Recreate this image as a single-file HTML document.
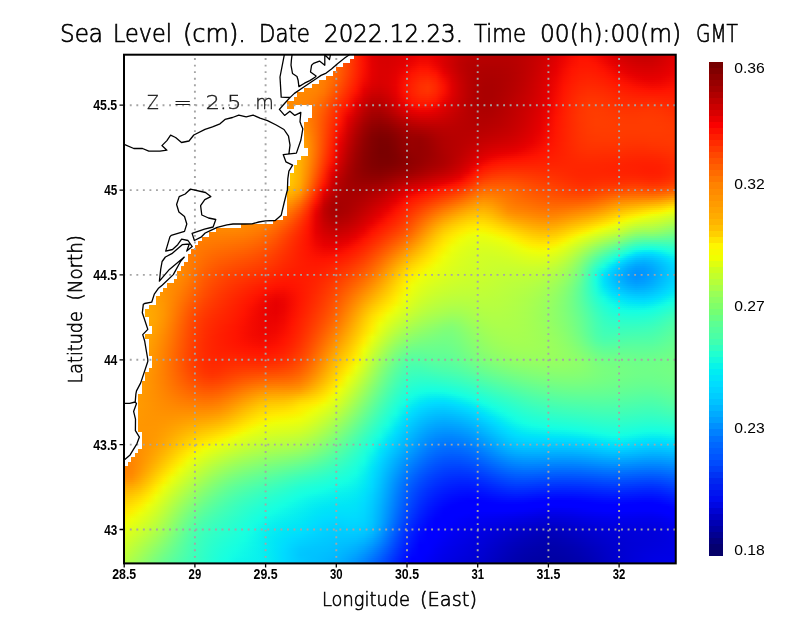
<!DOCTYPE html>
<html><head><meta charset="utf-8"><style>
html,body{margin:0;padding:0;background:#fff;width:800px;height:618px;overflow:hidden}
#f{position:absolute;left:124px;top:54px;width:552px;height:510px;overflow:hidden}
#f i{display:block;width:552px;height:2px}
svg{position:absolute;left:0;top:0}
.t{font-family:"Liberation Sans",Arial,sans-serif}
.h{font-family:"DejaVu Sans",sans-serif;font-weight:200}
.tl{font-family:"Liberation Sans",Arial,sans-serif;font-weight:bold;font-size:14.2px}
</style></head><body>
<div id="f">
<i style="background:linear-gradient(90deg,#ff7b00,#ff7a00,#ff7a00,#ff7a00,#ff7a00,#ff7a00,#ff7a00,#ff7a00,#ff7a00,#ff7b00,#ff7a00,#ff7a00,#ff7a00,#ff7a00,#ff7a00,#ff7a00,#ff7a00,#ff7b00,#ff7b00,#ff7c00,#ff7c00,#ff7d00,#ff7d00,#ff7d00,#ff7c00,#ff7700,#ff6d00,#ff5b00,#ff4200,#ff2800,#f90e00,#e20000,#d90000,#d80000,#db0000,#e10000,#e80000,#ec0400,#ec0300,#e60000,#dc0000,#ce0000,#c30000,#bd0000,#bb0000,#ba0000,#b80000,#b70000,#b80000,#ba0000,#be0000,#c30000,#ca0000,#d20000,#de0000,#e90100,#f40a00,#fb0f00,#fb0f00,#f40a00,#e90100,#dd0000,#d30000,#cc0000,#c80000,#c60000,#c70000,#cd0000,#d70000,#e00000)"></i>
<i style="background:linear-gradient(90deg,#ff7b00,#ff7a00,#ff7a00,#ff7a00,#ff7a00,#ff7a00,#ff7a00,#ff7a00,#ff7a00,#ff7b00,#ff7a00,#ff7a00,#ff7a00,#ff7b00,#ff7a00,#ff7a00,#ff7a00,#ff7b00,#ff7b00,#ff7c00,#ff7d00,#ff7e00,#ff7e00,#ff7f00,#ff7d00,#ff7900,#ff6e00,#ff5c00,#ff4300,#ff2800,#f90e00,#e20000,#d80000,#d70000,#db0000,#e00000,#e80000,#ee0500,#ed0500,#e70000,#db0000,#cd0000,#c10000,#bb0000,#ba0000,#b80000,#b70000,#b60000,#b70000,#b90000,#bd0000,#c30000,#ca0000,#d30000,#df0000,#eb0300,#f60b00,#fd1100,#fd1100,#f60b00,#ec0300,#e00000,#d50000,#ce0000,#ca0000,#c80000,#c90000,#cf0000,#d80000,#e10000)"></i>
<i style="background:linear-gradient(90deg,#ff7b00,#ff7b00,#ff7a00,#ff7a00,#ff7a00,#ff7a00,#ff7a00,#ff7a00,#ff7a00,#ff7a00,#ff7a00,#ff7a00,#ff7a00,#ff7b00,#ff7a00,#ff7a00,#ff7b00,#ff7b00,#ff7c00,#ff7d00,#ff7e00,#ff7f00,#ff7f00,#ff8000,#ff7f00,#ff7a00,#ff6f00,#ff5c00,#ff4300,#ff2800,#f90e00,#e20000,#d90000,#d70000,#db0000,#e00000,#e90100,#f00600,#ef0600,#e70000,#da0000,#cc0000,#c00000,#b90000,#b80000,#b70000,#b50000,#b50000,#b60000,#b90000,#bd0000,#c30000,#cb0000,#d40000,#e00000,#ec0400,#f70d00,#fe1200,#ff1300,#f80d00,#ee0500,#e30000,#d80000,#d10000,#cc0000,#ca0000,#cb0000,#d10000,#da0000,#e30000)"></i>
<i style="background:linear-gradient(90deg,#ff7b00,#ff7b00,#ff7a00,#ff7a00,#ff7a00,#ff7a00,#ff7a00,#ff7a00,#ff7a00,#ff7a00,#ff7a00,#ff7a00,#ff7a00,#ff7a00,#ff7a00,#ff7a00,#ff7b00,#ff7b00,#ff7c00,#ff7d00,#ff7e00,#ff8000,#ff8000,#ff8100,#ff8000,#ff7b00,#ff7000,#ff5d00,#ff4300,#ff2800,#fa0e00,#e30000,#d90000,#d80000,#db0000,#e10000,#ea0200,#f20800,#f20800,#e80000,#d90000,#cc0000,#bf0000,#b80000,#b60000,#b50000,#b40000,#b40000,#b50000,#b80000,#bd0000,#c30000,#cb0000,#d50000,#e10000,#ee0500,#f90e00,#ff1400,#ff1400,#fa0f00,#f10700,#e60000,#db0000,#d40000,#cf0000,#cc0000,#cd0000,#d30000,#dc0000,#e40000)"></i>
<i style="background:linear-gradient(90deg,#ff7b00,#ff7b00,#ff7a00,#ff7a00,#ff7a00,#ff7a00,#ff7a00,#ff7a00,#ff7a00,#ff7a00,#ff7a00,#ff7a00,#ff7a00,#ff7a00,#ff7a00,#ff7b00,#ff7b00,#ff7b00,#ff7d00,#ff7e00,#ff7f00,#ff8000,#ff8200,#ff8200,#ff8100,#ff7b00,#ff7000,#ff5d00,#ff4300,#ff2800,#fa0f00,#e40000,#d90000,#d80000,#dc0000,#e30000,#ed0400,#f50a00,#f40a00,#ea0200,#d90000,#cc0000,#be0000,#b70000,#b50000,#b40000,#b30000,#b30000,#b40000,#b80000,#bd0000,#c40000,#cc0000,#d60000,#e30000,#ef0600,#fa0f00,#ff1500,#ff1600,#fd1100,#f30900,#e80100,#de0000,#d70000,#d20000,#cf0000,#d00000,#d50000,#dd0000,#e60000)"></i>
<i style="background:linear-gradient(90deg,#ff7b00,#ff7b00,#ff7a00,#ff7a00,#ff7a00,#ff7a00,#ff7a00,#ff7a00,#ff7a00,#ff7a00,#ff7a00,#ff7a00,#ff7a00,#ff7a00,#ff7a00,#ff7b00,#ff7b00,#ff7c00,#ff7d00,#ff7e00,#ff8000,#ff8100,#ff8300,#ff8300,#ff8200,#ff7c00,#ff7000,#ff5d00,#ff4300,#ff2700,#fa0f00,#e40000,#da0000,#d90000,#dd0000,#e50000,#ef0600,#f80d00,#f70d00,#ec0400,#db0000,#cc0000,#be0000,#b60000,#b40000,#b20000,#b20000,#b20000,#b40000,#b70000,#bd0000,#c40000,#cd0000,#d80000,#e40000,#f10700,#fc1000,#ff1600,#ff1700,#ff1300,#f60c00,#eb0300,#e20000,#da0000,#d50000,#d20000,#d20000,#d70000,#df0000,#e70000)"></i>
<i style="background:linear-gradient(90deg,#ff7b00,#ff7b00,#ff7a00,#ff7a00,#ff7a00,#ff7a00,#ff7a00,#ff7a00,#ff7a00,#ff7a00,#ff7a00,#ff7a00,#ff7a00,#ff7a00,#ff7a00,#ff7b00,#ff7b00,#ff7c00,#ff7d00,#ff7f00,#ff8100,#ff8200,#ff8400,#ff8500,#ff8300,#ff7d00,#ff7000,#ff5d00,#ff4200,#ff2700,#fa0f00,#e40000,#da0000,#d90000,#df0000,#e70000,#f30900,#fc1000,#fb1000,#f00600,#dd0000,#cd0000,#bf0000,#b60000,#b30000,#b10000,#b00000,#b10000,#b30000,#b70000,#bd0000,#c40000,#ce0000,#d90000,#e50000,#f20800,#fd1200,#ff1700,#ff1800,#ff1500,#f90e00,#ef0600,#e50000,#dd0000,#d80000,#d50000,#d50000,#da0000,#e10000,#e90100)"></i>
<i style="background:linear-gradient(90deg,#ff7b00,#ff7b00,#ff7a00,#ff7a00,#ff7a00,#ff7a00,#ff7a00,#ff7a00,#ff7a00,#ff7a00,#ff7a00,#ff7a00,#ff7a00,#ff7a00,#ff7a00,#ff7b00,#ff7b00,#ff7c00,#ff7d00,#ff7f00,#ff8100,#ff8300,#ff8500,#ff8500,#ff8400,#ff7d00,#ff7000,#ff5c00,#ff4200,#ff2700,#fa0e00,#e50000,#da0000,#da0000,#e00000,#ea0200,#f60c00,#ff1300,#ff1300,#f30900,#e10000,#cf0000,#bf0000,#b60000,#b20000,#b00000,#af0000,#b00000,#b20000,#b70000,#bd0000,#c50000,#ce0000,#da0000,#e70000,#f40a00,#ff1300,#ff1900,#ff1a00,#ff1700,#fc1000,#f20800,#e80000,#e00000,#db0000,#d80000,#d80000,#dc0000,#e30000,#ea0200)"></i>
<i style="background:linear-gradient(90deg,#ff7b00,#ff7b00,#ff7a00,#ff7a00,#ff7a00,#ff7a00,#ff7a00,#ff7a00,#ff7a00,#ff7a00,#ff7a00,#ff7a00,#ff7a00,#ff7a00,#ff7a00,#ff7b00,#ff7b00,#ff7c00,#ff7e00,#ff8000,#ff8200,#ff8400,#ff8600,#ff8600,#ff8400,#ff7d00,#ff7000,#ff5b00,#ff4100,#ff2600,#f90e00,#e50000,#db0000,#db0000,#e20000,#ed0400,#fa0f00,#ff1700,#ff1700,#f80d00,#e40000,#d10000,#c10000,#b60000,#b10000,#af0000,#ae0000,#af0000,#b20000,#b70000,#bd0000,#c50000,#cf0000,#db0000,#e80000,#f50b00,#ff1400,#ff1a00,#ff1b00,#ff1800,#fe1200,#f50b00,#ec0300,#e40000,#de0000,#db0000,#db0000,#de0000,#e50000,#ec0300)"></i>
<i style="background:linear-gradient(90deg,#ff7b00,#ff7b00,#ff7a00,#ff7a00,#ff7a00,#ff7a00,#ff7a00,#ff7a00,#ff7a00,#ff7a00,#ff7a00,#ff7a00,#ff7a00,#ff7a00,#ff7b00,#ff7b00,#ff7b00,#ff7c00,#ff7e00,#ff8000,#ff8200,#ff8500,#ff8600,#ff8700,#ff8500,#ff7d00,#ff6f00,#ff5a00,#ff4000,#ff2500,#f80e00,#e40000,#db0000,#db0000,#e30000,#ef0600,#fe1200,#ff1b00,#ff1b00,#fd1100,#e80000,#d30000,#c20000,#b70000,#b10000,#ae0000,#ae0000,#af0000,#b20000,#b60000,#bd0000,#c60000,#d00000,#dc0000,#e90100,#f60c00,#ff1500,#ff1b00,#ff1d00,#ff1a00,#ff1500,#f80d00,#ef0600,#e70000,#e20000,#de0000,#de0000,#e10000,#e70000,#ee0500)"></i>
<i style="background:linear-gradient(90deg,#ff7b00,#ff7b00,#ff7b00,#ff7a00,#ff7a00,#ff7a00,#ff7a00,#ff7a00,#ff7a00,#ff7a00,#ff7a00,#ff7a00,#ff7b00,#ff7b00,#ff7b00,#ff7b00,#ff7b00,#ff7d00,#ff7e00,#ff8000,#ff8300,#ff8500,#ff8700,#ff8800,#ff8500,#ff7d00,#ff6f00,#ff5900,#ff3f00,#ff2400,#f70d00,#e40000,#db0000,#dc0000,#e50000,#f20800,#ff1500,#ff1e00,#ff1f00,#ff1500,#ec0300,#d60000,#c40000,#b70000,#b00000,#ad0000,#ad0000,#ae0000,#b10000,#b70000,#be0000,#c60000,#d10000,#dd0000,#ea0200,#f80d00,#ff1600,#ff1d00,#ff1f00,#ff1c00,#ff1700,#fb1000,#f30900,#eb0300,#e50000,#e10000,#e10000,#e40000,#e90100,#f00600)"></i>
<i style="background:linear-gradient(90deg,#ff7c00,#ff7b00,#ff7b00,#ff7b00,#ff7a00,#ff7a00,#ff7a00,#ff7b00,#ff7b00,#ff7b00,#ff7b00,#ff7b00,#ff7b00,#ff7b00,#ff7b00,#ff7b00,#ff7c00,#ff7d00,#ff7e00,#ff8100,#ff8300,#ff8600,#ff8800,#ff8800,#ff8500,#ff7d00,#ff6e00,#ff5700,#ff3d00,#ff2300,#f60c00,#e30000,#da0000,#dc0000,#e60000,#f40a00,#ff1700,#ff2200,#ff2400,#ff1900,#ef0600,#d80000,#c50000,#b80000,#b00000,#ad0000,#ac0000,#ae0000,#b10000,#b70000,#be0000,#c70000,#d20000,#de0000,#ec0300,#f90e00,#ff1800,#ff1e00,#ff2000,#ff1e00,#ff1900,#fe1200,#f60c00,#ef0500,#e90100,#e50000,#e40000,#e60000,#ec0300,#f20800)"></i>
<i style="background:linear-gradient(90deg,#ff7c00,#ff7b00,#ff7b00,#ff7b00,#ff7b00,#ff7b00,#ff7b00,#ff7b00,#ff7b00,#ff7b00,#ff7b00,#ff7b00,#ff7b00,#ff7b00,#ff7b00,#ff7b00,#ff7c00,#ff7d00,#ff7f00,#ff8100,#ff8400,#ff8600,#ff8800,#ff8800,#ff8500,#ff7c00,#ff6c00,#ff5600,#ff3b00,#ff2100,#f50a00,#e20000,#da0000,#dc0000,#e70000,#f70c00,#ff1a00,#ff2500,#ff2800,#ff1d00,#f30900,#da0000,#c60000,#b80000,#b00000,#ac0000,#ab0000,#ad0000,#b10000,#b70000,#be0000,#c80000,#d20000,#df0000,#ed0400,#fa0f00,#ff1900,#ff1f00,#ff2200,#ff2000,#ff1c00,#ff1500,#fa0e00,#f20900,#ec0400,#e80000,#e70000,#e90100,#ee0500,#f40a00)"></i>
<i style="background:linear-gradient(90deg,#ff7c00,#ff7b00,#ff7b00,#ff7b00,#ff7b00,#ff7b00,#ff7b00,#ff7b00,#ff7b00,#ff7b00,#ff7b00,#ff7b00,#ff7b00,#ff7b00,#ff7b00,#ff7b00,#ff7c00,#ff7d00,#ff7f00,#ff8100,#ff8400,#ff8700,#ff8800,#ff8900,#ff8500,#ff7c00,#ff6b00,#ff5400,#ff3900,#ff1f00,#f30900,#e00000,#d90000,#dc0000,#e80000,#f90e00,#ff1c00,#ff2800,#ff2c00,#ff2000,#f60b00,#dc0000,#c80000,#b90000,#b00000,#ac0000,#ab0000,#ad0000,#b10000,#b70000,#bf0000,#c80000,#d30000,#e00000,#ee0500,#fc1000,#ff1a00,#ff2100,#ff2400,#ff2200,#ff1e00,#ff1800,#fd1100,#f60c00,#f00700,#ec0300,#ea0200,#ec0400,#f10700,#f60c00)"></i>
<i style="background:linear-gradient(90deg,#ff7c00,#ff7c00,#ff7b00,#ff7b00,#ff7b00,#ff7b00,#ff7b00,#ff7b00,#ff7b00,#ff7b00,#ff7b00,#ff7b00,#ff7b00,#ff7b00,#ff7b00,#ff7c00,#ff7c00,#ff7d00,#ff7f00,#ff8200,#ff8500,#ff8700,#ff8900,#ff8900,#ff8500,#ff7b00,#ff6900,#ff5100,#ff3700,#ff1d00,#f00700,#de0000,#d80000,#dc0000,#e80000,#fa0f00,#ff1e00,#ff2b00,#ff2f00,#ff2300,#f80d00,#de0000,#c90000,#b90000,#b00000,#ab0000,#ab0000,#ad0000,#b20000,#b80000,#c00000,#c90000,#d40000,#e10000,#ef0600,#fd1100,#ff1b00,#ff2300,#ff2500,#ff2400,#ff2000,#ff1a00,#ff1400,#fa0f00,#f40a00,#f00700,#ee0500,#ef0600,#f40a00,#f90e00)"></i>
<i style="background:linear-gradient(90deg,#ff7d00,#ff7c00,#ff7c00,#ff7c00,#ff7c00,#ff7c00,#ff7c00,#ff7c00,#ff7c00,#ff7c00,#ff7c00,#ff7c00,#ff7c00,#ff7c00,#ff7c00,#ff7c00,#ff7d00,#ff7e00,#ff8000,#ff8200,#ff8500,#ff8700,#ff8900,#ff8800,#ff8400,#ff7a00,#ff6700,#ff4f00,#ff3500,#ff1b00,#ee0500,#dc0000,#d60000,#db0000,#e90100,#fb1000,#ff2000,#ff2d00,#ff3200,#ff2500,#fa0f00,#df0000,#ca0000,#ba0000,#b00000,#ab0000,#aa0000,#ad0000,#b20000,#b80000,#c00000,#ca0000,#d50000,#e20000,#f00700,#fe1200,#ff1d00,#ff2400,#ff2700,#ff2600,#ff2200,#ff1d00,#ff1700,#fe1200,#f80d00,#f40a00,#f10800,#f30900,#f70c00,#fb1000)"></i>
<i style="background:linear-gradient(90deg,#ff7d00,#ff7d00,#ff7c00,#ff7c00,#ff7c00,#ff7c00,#ff7c00,#ff7c00,#ff7c00,#ff7c00,#ff7c00,#ff7c00,#ff7c00,#ff7c00,#ff7c00,#ff7c00,#ff7d00,#ff7e00,#ff8000,#ff8300,#ff8500,#ff8700,#ff8900,#ff8800,#ff8400,#ff7900,#ff6500,#ff4c00,#ff3200,#ff1800,#eb0300,#d90000,#d40000,#da0000,#e80000,#fc1000,#ff2000,#ff2e00,#ff3400,#ff2600,#fb1000,#e00000,#ca0000,#ba0000,#b00000,#aa0000,#aa0000,#ad0000,#b20000,#b90000,#c10000,#ca0000,#d50000,#e20000,#f10700,#ff1300,#ff1e00,#ff2600,#ff2900,#ff2800,#ff2500,#ff1f00,#ff1a00,#ff1500,#fc1100,#f80d00,#f60b00,#f70c00,#fa0f00,#fe1200)"></i>
<i style="background:linear-gradient(90deg,#ff7e00,#ff7d00,#ff7d00,#ff7d00,#ff7d00,#ff7d00,#ff7d00,#ff7d00,#ff7d00,#ff7d00,#ff7d00,#ff7d00,#ff7d00,#ff7d00,#ff7d00,#ff7d00,#ff7d00,#ff7e00,#ff8000,#ff8300,#ff8600,#ff8800,#ff8900,#ff8700,#ff8300,#ff7700,#ff6200,#ff4900,#ff2f00,#ff1600,#e80000,#d60000,#d10000,#d80000,#e80000,#fc1000,#ff2100,#ff2e00,#ff3400,#ff2600,#fb1000,#e00000,#ca0000,#ba0000,#af0000,#aa0000,#aa0000,#ad0000,#b30000,#b90000,#c20000,#cb0000,#d60000,#e30000,#f20800,#ff1400,#ff1f00,#ff2700,#ff2b00,#ff2a00,#ff2700,#ff2200,#ff1c00,#ff1800,#ff1400,#fd1100,#fa0f00,#fb0f00,#fe1200,#ff1400)"></i>
<i style="background:linear-gradient(90deg,#ff7e00,#ff7e00,#ff7d00,#ff7d00,#ff7d00,#ff7d00,#ff7d00,#ff7d00,#ff7d00,#ff7d00,#ff7d00,#ff7d00,#ff7d00,#ff7d00,#ff7d00,#ff7d00,#ff7e00,#ff7f00,#ff8100,#ff8300,#ff8600,#ff8800,#ff8800,#ff8700,#ff8200,#ff7600,#ff6000,#ff4600,#ff2c00,#ff1300,#e40000,#d30000,#cf0000,#d60000,#e70000,#fb1000,#ff2000,#ff2d00,#ff3300,#ff2500,#fa0f00,#e00000,#ca0000,#ba0000,#af0000,#aa0000,#aa0000,#ad0000,#b30000,#ba0000,#c20000,#cc0000,#d70000,#e40000,#f30900,#ff1500,#ff2100,#ff2900,#ff2d00,#ff2c00,#ff2900,#ff2400,#ff1f00,#ff1b00,#ff1700,#ff1500,#ff1300,#ff1300,#ff1500,#ff1600)"></i>
<i style="background:linear-gradient(90deg,#ff7f00,#ff7e00,#ff7e00,#ff7e00,#ff7e00,#ff7e00,#ff7e00,#ff7e00,#ff7e00,#ff7e00,#ff7e00,#ff7e00,#ff7e00,#ff7e00,#ff7e00,#ff7e00,#ff7e00,#ff7f00,#ff8100,#ff8400,#ff8600,#ff8800,#ff8800,#ff8600,#ff8000,#ff7400,#ff5c00,#ff4300,#ff2900,#fc1000,#e10000,#cf0000,#cc0000,#d40000,#e50000,#fa0f00,#ff1f00,#ff2c00,#ff3000,#ff2300,#f90e00,#df0000,#ca0000,#ba0000,#af0000,#aa0000,#aa0000,#ae0000,#b40000,#bb0000,#c30000,#cc0000,#d80000,#e50000,#f40a00,#ff1600,#ff2200,#ff2a00,#ff2f00,#ff2e00,#ff2b00,#ff2700,#ff2200,#ff1e00,#ff1b00,#ff1900,#ff1700,#ff1700,#ff1800,#ff1900)"></i>
<i style="background:linear-gradient(90deg,#ff8000,#ff7f00,#ff7f00,#ff7f00,#ff7f00,#ff7f00,#ff7f00,#ff7f00,#ff7f00,#ff7f00,#ff7f00,#ff7f00,#ff7f00,#ff7f00,#ff7f00,#ff7f00,#ff7f00,#ff8000,#ff8200,#ff8500,#ff8700,#ff8800,#ff8800,#ff8500,#ff7e00,#ff7100,#ff5900,#ff3f00,#ff2600,#f80d00,#dd0000,#cb0000,#c80000,#d10000,#e30000,#f80d00,#ff1e00,#ff2900,#ff2c00,#ff2000,#f60c00,#de0000,#ca0000,#ba0000,#af0000,#aa0000,#aa0000,#ae0000,#b40000,#bc0000,#c40000,#cd0000,#d80000,#e50000,#f50a00,#ff1700,#ff2300,#ff2c00,#ff3000,#ff3000,#ff2d00,#ff2900,#ff2400,#ff2100,#ff1e00,#ff1c00,#ff1b00,#ff1b00,#ff1b00,#ff1b00)"></i>
<i style="background:linear-gradient(90deg,#ff8100,#ff8000,#ff8000,#ff8000,#ff8000,#ff8000,#ff8000,#ff8000,#ff8000,#ff8000,#ff8000,#ff8000,#ff8000,#ff8000,#ff8000,#ff8000,#ff8000,#ff8100,#ff8200,#ff8500,#ff8800,#ff8800,#ff8700,#ff8400,#ff7c00,#ff6d00,#ff5500,#ff3b00,#ff2300,#f40a00,#d90000,#c70000,#c50000,#ce0000,#e10000,#f60c00,#ff1b00,#ff2600,#ff2800,#ff1d00,#f30900,#dc0000,#c90000,#ba0000,#af0000,#aa0000,#aa0000,#af0000,#b50000,#bd0000,#c50000,#ce0000,#d90000,#e60000,#f60b00,#ff1800,#ff2400,#ff2e00,#ff3200,#ff3200,#ff2f00,#ff2b00,#ff2700,#ff2400,#ff2100,#ff2000,#ff2000,#ff1f00,#ff1e00,#ff1d00)"></i>
<i style="background:linear-gradient(90deg,#ff8200,#ff8100,#ff8100,#ff8100,#ff8100,#ff8100,#ff8100,#ff8100,#ff8100,#ff8100,#ff8100,#ff8100,#ff8100,#ff8100,#ff8100,#ff8100,#ff8100,#ff8200,#ff8300,#ff8600,#ff8800,#ff8900,#ff8700,#ff8300,#ff7a00,#ff6a00,#ff5100,#ff3700,#ff1f00,#f00700,#d40000,#c30000,#c10000,#cb0000,#de0000,#f30900,#ff1900,#ff2200,#ff2400,#ff1900,#f00700,#da0000,#c80000,#b90000,#af0000,#aa0000,#ab0000,#af0000,#b60000,#be0000,#c50000,#cf0000,#da0000,#e70000,#f60c00,#ff1900,#ff2500,#ff2f00,#ff3400,#ff3400,#ff3100,#ff2d00,#ff2900,#ff2600,#ff2500,#ff2400,#ff2400,#ff2200,#ff2100,#ff2000)"></i>
<i style="background:linear-gradient(90deg,#ff8300,#ff8200,#ff8200,#ff8200,#ff8200,#ff8200,#ff8200,#ff8200,#ff8200,#ff8200,#ff8200,#ff8200,#ff8200,#ff8200,#ff8200,#ff8200,#ff8200,#ff8300,#ff8400,#ff8700,#ff8900,#ff8900,#ff8700,#ff8200,#ff7800,#ff6600,#ff4d00,#ff3300,#ff1c00,#ec0400,#d00000,#be0000,#bd0000,#c80000,#da0000,#f00700,#ff1500,#ff1e00,#ff1f00,#ff1400,#ec0300,#d80000,#c70000,#b90000,#af0000,#ab0000,#ab0000,#b00000,#b70000,#be0000,#c60000,#cf0000,#da0000,#e70000,#f70c00,#ff1a00,#ff2700,#ff3000,#ff3500,#ff3500,#ff3300,#ff2f00,#ff2b00,#ff2900,#ff2800,#ff2700,#ff2800,#ff2600,#ff2400,#ff2200)"></i>
<i style="background:linear-gradient(90deg,#ff8400,#ff8400,#ff8400,#ff8400,#ff8300,#ff8300,#ff8400,#ff8400,#ff8400,#ff8300,#ff8400,#ff8400,#ff8400,#ff8300,#ff8300,#ff8300,#ff8300,#ff8400,#ff8500,#ff8800,#ff8a00,#ff8a00,#ff8700,#ff8100,#ff7600,#ff6300,#ff4900,#ff2f00,#ff1900,#e80000,#cc0000,#b90000,#b90000,#c40000,#d70000,#ec0400,#fe1200,#ff1900,#ff1900,#fb0f00,#e80000,#d60000,#c60000,#b90000,#af0000,#ab0000,#ac0000,#b10000,#b80000,#bf0000,#c70000,#d00000,#db0000,#e80000,#f80d00,#ff1b00,#ff2700,#ff3200,#ff3700,#ff3700,#ff3400,#ff3100,#ff2d00,#ff2b00,#ff2b00,#ff2b00,#ff2c00,#ff2a00,#ff2600,#ff2400)"></i>
<i style="background:linear-gradient(90deg,#ff8500,#ff8500,#ff8500,#ff8500,#ff8500,#ff8500,#ff8500,#ff8500,#ff8500,#ff8500,#ff8500,#ff8500,#ff8500,#ff8500,#ff8500,#ff8500,#ff8500,#ff8500,#ff8700,#ff8a00,#ff8b00,#ff8b00,#ff8700,#ff8000,#ff7300,#ff6000,#ff4500,#ff2b00,#ff1500,#e40000,#c80000,#b50000,#b50000,#c00000,#d30000,#e80000,#f80d00,#ff1400,#ff1400,#f50b00,#e30000,#d30000,#c40000,#b80000,#b00000,#ac0000,#ad0000,#b10000,#b80000,#c00000,#c80000,#d10000,#dc0000,#e90100,#f90e00,#ff1b00,#ff2800,#ff3300,#ff3800,#ff3800,#ff3600,#ff3300,#ff2f00,#ff2e00,#ff2d00,#ff2e00,#ff2f00,#ff2d00,#ff2900,#ff2700)"></i>
<i style="background:linear-gradient(90deg,#ff8700,#ff8700,#ff8700,#ff8700,#ff8700,#ff8700,#ff8700,#ff8700,#ff8700,#ff8600,#ff8700,#ff8700,#ff8700,#ff8600,#ff8600,#ff8600,#ff8600,#ff8700,#ff8800,#ff8b00,#ff8d00,#ff8c00,#ff8700,#ff7f00,#ff7100,#ff5d00,#ff4200,#ff2800,#fe1200,#e00000,#c40000,#b10000,#b10000,#bc0000,#ce0000,#e30000,#f20900,#fa0f00,#f90e00,#ef0600,#df0000,#d10000,#c30000,#b80000,#b00000,#ac0000,#ad0000,#b20000,#b90000,#c10000,#c90000,#d20000,#dc0000,#e90100,#fa0e00,#ff1c00,#ff2900,#ff3300,#ff3900,#ff3900,#ff3700,#ff3400,#ff3100,#ff3000,#ff3000,#ff3000,#ff3200,#ff2f00,#ff2b00,#ff2900)"></i>
<i style="background:linear-gradient(90deg,#ff8900,#ff8900,#ff8900,#ff8900,#ff8800,#ff8800,#ff8900,#ff8900,#ff8800,#ff8800,#ff8900,#ff8900,#ff8800,#ff8800,#ff8800,#ff8800,#ff8800,#ff8900,#ff8a00,#ff8d00,#ff8e00,#ff8d00,#ff8800,#ff7e00,#ff7000,#ff5a00,#ff3f00,#ff2500,#f90e00,#dc0000,#c00000,#ae0000,#ad0000,#b70000,#c90000,#dd0000,#ec0400,#f30900,#f30900,#e90100,#db0000,#ce0000,#c20000,#b80000,#b00000,#ad0000,#ae0000,#b30000,#ba0000,#c10000,#c90000,#d20000,#dd0000,#ea0200,#fa0f00,#ff1d00,#ff2a00,#ff3400,#ff3900,#ff3a00,#ff3900,#ff3600,#ff3300,#ff3200,#ff3200,#ff3300,#ff3400,#ff3200,#ff2e00,#ff2b00)"></i>
<i style="background:linear-gradient(90deg,#ff8b00,#ff8a00,#ff8b00,#ff8b00,#ff8a00,#ff8a00,#ff8b00,#ff8b00,#ff8a00,#ff8a00,#ff8a00,#ff8b00,#ff8a00,#ff8a00,#ff8a00,#ff8a00,#ff8a00,#ff8b00,#ff8c00,#ff8f00,#ff9000,#ff8e00,#ff8800,#ff7e00,#ff6e00,#ff5800,#ff3c00,#ff2200,#f50b00,#d70000,#bc0000,#ab0000,#a90000,#b30000,#c40000,#d70000,#e50000,#ec0400,#ec0300,#e40000,#d80000,#cc0000,#c10000,#b70000,#b10000,#ae0000,#af0000,#b40000,#bb0000,#c20000,#ca0000,#d30000,#de0000,#eb0300,#fb1000,#ff1d00,#ff2a00,#ff3400,#ff3a00,#ff3b00,#ff3a00,#ff3700,#ff3500,#ff3400,#ff3400,#ff3500,#ff3600,#ff3400,#ff3000,#ff2d00)"></i>
<i style="background:linear-gradient(90deg,#ff8d00,#ff8d00,#ff8d00,#ff8d00,#ff8c00,#ff8c00,#ff8d00,#ff8d00,#ff8c00,#ff8c00,#ff8c00,#ff8d00,#ff8c00,#ff8c00,#ff8c00,#ff8c00,#ff8c00,#ff8d00,#ff8e00,#ff9100,#ff9200,#ff9000,#ff8900,#ff7e00,#ff6d00,#ff5600,#ff3a00,#ff1f00,#f10700,#d30000,#b80000,#a70000,#a50000,#af0000,#bf0000,#d10000,#df0000,#e50000,#e50000,#de0000,#d40000,#c90000,#bf0000,#b70000,#b10000,#af0000,#b00000,#b50000,#bb0000,#c30000,#cb0000,#d40000,#df0000,#ec0400,#fc1000,#ff1e00,#ff2a00,#ff3400,#ff3a00,#ff3c00,#ff3b00,#ff3800,#ff3600,#ff3500,#ff3600,#ff3700,#ff3700,#ff3500,#ff3200,#ff2f00)"></i>
<i style="background:linear-gradient(90deg,#ff8f00,#ff8f00,#ff8f00,#ff8f00,#ff8f00,#ff8f00,#ff8f00,#ff8f00,#ff8f00,#ff8f00,#ff8f00,#ff8f00,#ff8e00,#ff8e00,#ff8e00,#ff8e00,#ff8e00,#ff8f00,#ff9100,#ff9300,#ff9400,#ff9200,#ff8b00,#ff7e00,#ff6c00,#ff5400,#ff3800,#ff1d00,#ed0400,#cf0000,#b50000,#a40000,#a10000,#aa0000,#ba0000,#cb0000,#d80000,#de0000,#de0000,#d90000,#d00000,#c70000,#be0000,#b70000,#b20000,#b00000,#b10000,#b60000,#bc0000,#c30000,#cc0000,#d50000,#e00000,#ed0500,#fd1100,#ff1e00,#ff2b00,#ff3500,#ff3a00,#ff3c00,#ff3b00,#ff3900,#ff3800,#ff3700,#ff3700,#ff3800,#ff3800,#ff3700,#ff3300,#ff3000)"></i>
<i style="background:linear-gradient(90deg,#ff9100,#ff9100,#ff9100,#ff9100,#ff9100,#ff9100,#ff9100,#ff9100,#ff9100,#ff9100,#ff9100,#ff9100,#ff9100,#ff9000,#ff9000,#ff9000,#ff9000,#ff9100,#ff9300,#ff9500,#ff9600,#ff9400,#ff8c00,#ff7f00,#ff6c00,#ff5200,#ff3600,#ff1a00,#e90100,#cb0000,#b10000,#a10000,#9e0000,#a60000,#b40000,#c40000,#d10000,#d70000,#d80000,#d40000,#cd0000,#c50000,#bd0000,#b70000,#b20000,#b10000,#b20000,#b70000,#bd0000,#c40000,#cc0000,#d60000,#e10000,#ee0500,#fe1200,#ff1f00,#ff2b00,#ff3500,#ff3a00,#ff3c00,#ff3c00,#ff3a00,#ff3900,#ff3800,#ff3800,#ff3900,#ff3900,#ff3800,#ff3500,#ff3200)"></i>
<i style="background:linear-gradient(90deg,#ff9300,#ff9300,#ff9300,#ff9300,#ff9300,#ff9300,#ff9300,#ff9300,#ff9300,#ff9300,#ff9300,#ff9300,#ff9300,#ff9200,#ff9200,#ff9200,#ff9200,#ff9400,#ff9600,#ff9800,#ff9900,#ff9600,#ff8e00,#ff8000,#ff6b00,#ff5100,#ff3400,#ff1800,#e50000,#c70000,#ae0000,#9e0000,#9a0000,#a10000,#af0000,#be0000,#ca0000,#d00000,#d10000,#cf0000,#c90000,#c30000,#bc0000,#b70000,#b30000,#b20000,#b40000,#b80000,#be0000,#c50000,#cd0000,#d70000,#e20000,#ef0600,#fe1200,#ff1f00,#ff2b00,#ff3500,#ff3a00,#ff3d00,#ff3c00,#ff3b00,#ff3a00,#ff3900,#ff3900,#ff3a00,#ff3a00,#ff3900,#ff3600,#ff3300)"></i>
<i style="background:linear-gradient(90deg,#ff9600,#ff9600,#ff9600,#ff9600,#ff9600,#ff9600,#ff9600,#ff9600,#ff9500,#ff9500,#ff9500,#ff9500,#ff9500,#ff9500,#ff9400,#ff9400,#ff9500,#ff9600,#ff9800,#ff9b00,#ff9b00,#ff9800,#ff8f00,#ff8000,#ff6b00,#ff5000,#ff3300,#ff1600,#e20000,#c40000,#ab0000,#9a0000,#960000,#9d0000,#aa0000,#b80000,#c30000,#c90000,#cb0000,#ca0000,#c60000,#c10000,#bb0000,#b70000,#b40000,#b30000,#b50000,#b90000,#bf0000,#c60000,#ce0000,#d80000,#e30000,#f00700,#ff1300,#ff2000,#ff2b00,#ff3500,#ff3a00,#ff3d00,#ff3d00,#ff3c00,#ff3a00,#ff3a00,#ff3a00,#ff3b00,#ff3b00,#ff3900,#ff3700,#ff3500)"></i>
<i style="background:linear-gradient(90deg,#ff9800,#ff9800,#ff9800,#ff9800,#ff9800,#ff9800,#ff9800,#ff9800,#ff9800,#ff9800,#ff9800,#ff9800,#ff9700,#ff9700,#ff9700,#ff9700,#ff9700,#ff9800,#ff9b00,#ff9d00,#ff9e00,#ff9b00,#ff9100,#ff8200,#ff6b00,#ff4f00,#ff3100,#ff1300,#de0000,#c00000,#a70000,#970000,#930000,#990000,#a50000,#b20000,#bd0000,#c20000,#c50000,#c50000,#c30000,#bf0000,#ba0000,#b70000,#b40000,#b40000,#b60000,#ba0000,#c00000,#c70000,#cf0000,#d90000,#e40000,#f10800,#ff1400,#ff2000,#ff2b00,#ff3400,#ff3a00,#ff3d00,#ff3d00,#ff3c00,#ff3b00,#ff3a00,#ff3a00,#ff3b00,#ff3b00,#ff3a00,#ff3800,#ff3600)"></i>
<i style="background:linear-gradient(90deg,#ff9a00,#ff9b00,#ff9b00,#ff9a00,#ff9a00,#ff9a00,#ff9a00,#ff9a00,#ff9a00,#ff9a00,#ff9a00,#ff9a00,#ff9a00,#ff9a00,#ff9900,#ff9900,#ff9a00,#ff9b00,#ff9d00,#ffa000,#ffa100,#ff9d00,#ff9400,#ff8300,#ff6b00,#ff4e00,#ff2f00,#fd1100,#db0000,#bd0000,#a40000,#940000,#8f0000,#940000,#a00000,#ad0000,#b70000,#bc0000,#bf0000,#c00000,#c00000,#bd0000,#ba0000,#b70000,#b50000,#b50000,#b80000,#bb0000,#c10000,#c80000,#d00000,#da0000,#e50000,#f20800,#ff1400,#ff2000,#ff2b00,#ff3400,#ff3a00,#ff3d00,#ff3d00,#ff3c00,#ff3b00,#ff3b00,#ff3b00,#ff3b00,#ff3b00,#ff3a00,#ff3900,#ff3700)"></i>
<i style="background:linear-gradient(90deg,#ff9d00,#ff9d00,#ff9d00,#ff9d00,#ff9d00,#ff9d00,#ff9d00,#ff9d00,#ff9d00,#ff9d00,#ff9d00,#ff9c00,#ff9c00,#ff9c00,#ff9c00,#ff9b00,#ff9c00,#ff9d00,#ffa000,#ffa300,#ffa300,#ffa000,#ff9600,#ff8400,#ff6b00,#ff4e00,#ff2e00,#fa0f00,#d80000,#ba0000,#a10000,#910000,#8c0000,#900000,#9c0000,#a80000,#b10000,#b60000,#b90000,#bc0000,#bd0000,#bb0000,#b90000,#b70000,#b60000,#b70000,#b90000,#bd0000,#c20000,#c90000,#d10000,#db0000,#e60000,#f30900,#ff1500,#ff2000,#ff2b00,#ff3400,#ff3a00,#ff3c00,#ff3d00,#ff3c00,#ff3b00,#ff3b00,#ff3b00,#ff3b00,#ff3b00,#ff3b00,#ff3900,#ff3800)"></i>
<i style="background:linear-gradient(90deg,#ff9f00,#ff9f00,#ff9f00,#ff9f00,#ff9f00,#ff9f00,#ff9f00,#ff9f00,#ff9f00,#ff9f00,#ff9f00,#ff9f00,#ff9f00,#ff9e00,#ff9e00,#ff9e00,#ff9e00,#ffa000,#ffa200,#ffa500,#ffa600,#ffa300,#ff9800,#ff8600,#ff6c00,#ff4d00,#ff2c00,#f80d00,#d50000,#b70000,#9f0000,#8e0000,#890000,#8d0000,#970000,#a30000,#ac0000,#b00000,#b40000,#b80000,#ba0000,#ba0000,#b90000,#b70000,#b70000,#b80000,#bb0000,#bf0000,#c40000,#ca0000,#d30000,#dc0000,#e70000,#f40a00,#ff1500,#ff2100,#ff2b00,#ff3400,#ff3900,#ff3c00,#ff3c00,#ff3c00,#ff3b00,#ff3b00,#ff3b00,#ff3b00,#ff3b00,#ff3b00,#ff3900,#ff3800)"></i>
<i style="background:linear-gradient(90deg,#ffa200,#ffa200,#ffa200,#ffa200,#ffa200,#ffa200,#ffa200,#ffa200,#ffa200,#ffa100,#ffa100,#ffa100,#ffa100,#ffa100,#ffa000,#ffa000,#ffa100,#ffa200,#ffa500,#ffa800,#ffa900,#ffa600,#ff9b00,#ff8700,#ff6c00,#ff4c00,#ff2b00,#f60b00,#d30000,#b40000,#9c0000,#8c0000,#860000,#890000,#940000,#9f0000,#a70000,#aa0000,#af0000,#b50000,#b80000,#b90000,#b80000,#b80000,#b90000,#ba0000,#bd0000,#c10000,#c50000,#cc0000,#d40000,#de0000,#e90100,#f50b00,#ff1600,#ff2100,#ff2b00,#ff3400,#ff3900,#ff3c00,#ff3c00,#ff3c00,#ff3b00,#ff3a00,#ff3a00,#ff3b00,#ff3b00,#ff3b00,#ff3a00,#ff3900)"></i>
<i style="background:linear-gradient(90deg,#ffa400,#ffa400,#ffa400,#ffa400,#ffa400,#ffa400,#ffa400,#ffa400,#ffa400,#ffa400,#ffa400,#ffa400,#ffa300,#ffa300,#ffa300,#ffa300,#ffa300,#ffa500,#ffa700,#ffab00,#ffac00,#ffa900,#ff9e00,#ff8900,#ff6d00,#ff4c00,#ff2a00,#f30900,#d00000,#b20000,#9a0000,#890000,#830000,#860000,#900000,#9c0000,#a30000,#a60000,#ab0000,#b20000,#b60000,#b80000,#b80000,#b90000,#ba0000,#bc0000,#bf0000,#c30000,#c70000,#ce0000,#d60000,#df0000,#ea0200,#f60b00,#ff1600,#ff2100,#ff2b00,#ff3300,#ff3900,#ff3b00,#ff3b00,#ff3b00,#ff3a00,#ff3a00,#ff3a00,#ff3a00,#ff3a00,#ff3a00,#ff3a00,#ff3900)"></i>
<i style="background:linear-gradient(90deg,#ffa600,#ffa600,#ffa600,#ffa600,#ffa600,#ffa600,#ffa600,#ffa600,#ffa600,#ffa600,#ffa600,#ffa600,#ffa600,#ffa600,#ffa500,#ffa500,#ffa500,#ffa700,#ffaa00,#ffad00,#ffaf00,#ffac00,#ffa000,#ff8b00,#ff6d00,#ff4b00,#ff2800,#f10700,#cd0000,#af0000,#980000,#870000,#810000,#830000,#8d0000,#990000,#9f0000,#a10000,#a70000,#af0000,#b50000,#b70000,#b80000,#b90000,#bb0000,#be0000,#c10000,#c50000,#c90000,#cf0000,#d80000,#e10000,#eb0300,#f70c00,#ff1700,#ff2100,#ff2b00,#ff3300,#ff3800,#ff3a00,#ff3b00,#ff3a00,#ff3a00,#ff3900,#ff3900,#ff3900,#ff3a00,#ff3a00,#ff3900,#ff3900)"></i>
<i style="background:linear-gradient(90deg,#ffa800,#ffa900,#ffa900,#ffa900,#ffa900,#ffa900,#ffa800,#ffa800,#ffa800,#ffa800,#ffa800,#ffa800,#ffa800,#ffa800,#ffa700,#ffa700,#ffa700,#ffa900,#ffac00,#ffb000,#ffb200,#ffaf00,#ffa300,#ff8d00,#ff6e00,#ff4b00,#ff2700,#ef0500,#cb0000,#ad0000,#960000,#850000,#7f0000,#810000,#8b0000,#970000,#9c0000,#9d0000,#a40000,#ad0000,#b30000,#b60000,#b80000,#ba0000,#bd0000,#c00000,#c40000,#c70000,#cc0000,#d20000,#d90000,#e30000,#ed0400,#f80d00,#ff1700,#ff2100,#ff2b00,#ff3300,#ff3700,#ff3900,#ff3a00,#ff3a00,#ff3900,#ff3800,#ff3800,#ff3800,#ff3900,#ff3900,#ff3900,#ff3900)"></i>
<i style="background:linear-gradient(90deg,#ffaa00,#ffab00,#ffab00,#ffab00,#ffab00,#ffab00,#ffab00,#ffab00,#ffab00,#ffab00,#ffaa00,#ffaa00,#ffaa00,#ffaa00,#ffaa00,#ffa900,#ffaa00,#ffab00,#ffae00,#ffb300,#ffb500,#ffb200,#ffa600,#ff8e00,#ff6e00,#ff4a00,#ff2500,#ec0400,#c90000,#ab0000,#940000,#840000,#7d0000,#7f0000,#890000,#950000,#9a0000,#9a0000,#a10000,#ab0000,#b20000,#b60000,#b80000,#bb0000,#bf0000,#c30000,#c60000,#ca0000,#ce0000,#d40000,#dc0000,#e50000,#ee0500,#f90e00,#ff1800,#ff2100,#ff2b00,#ff3200,#ff3700,#ff3900,#ff3900,#ff3900,#ff3800,#ff3700,#ff3700,#ff3700,#ff3800,#ff3800,#ff3900,#ff3900)"></i>
<i style="background:linear-gradient(90deg,#ffac00,#ffad00,#ffad00,#ffad00,#ffad00,#ffad00,#ffad00,#ffad00,#ffad00,#ffad00,#ffad00,#ffac00,#ffac00,#ffac00,#ffac00,#ffab00,#ffac00,#ffad00,#ffb100,#ffb500,#ffb700,#ffb400,#ffa800,#ff9000,#ff6f00,#ff4900,#ff2400,#ea0200,#c60000,#a90000,#930000,#840000,#7c0000,#7e0000,#870000,#940000,#990000,#980000,#9f0000,#a90000,#b10000,#b50000,#b90000,#bc0000,#c10000,#c50000,#c90000,#cd0000,#d10000,#d60000,#de0000,#e70000,#f00700,#fa0f00,#ff1800,#ff2100,#ff2a00,#ff3200,#ff3600,#ff3800,#ff3800,#ff3800,#ff3700,#ff3600,#ff3500,#ff3600,#ff3700,#ff3700,#ff3800,#ff3900)"></i>
<i style="background:linear-gradient(90deg,#ffae00,#ffaf00,#ffaf00,#ffaf00,#ffaf00,#ffaf00,#ffaf00,#ffae00,#ffaf00,#ffaf00,#ffae00,#ffae00,#ffae00,#ffae00,#ffae00,#ffae00,#ffae00,#ffaf00,#ffb300,#ffb700,#ffba00,#ffb700,#ffab00,#ff9200,#ff6f00,#ff4900,#ff2200,#e80000,#c40000,#a80000,#920000,#830000,#7c0000,#7d0000,#860000,#930000,#980000,#970000,#9e0000,#a80000,#b10000,#b50000,#b90000,#bd0000,#c30000,#c80000,#cc0000,#d00000,#d40000,#d90000,#e10000,#e90100,#f20800,#fc1000,#ff1900,#ff2200,#ff2a00,#ff3100,#ff3500,#ff3600,#ff3600,#ff3600,#ff3600,#ff3400,#ff3400,#ff3400,#ff3500,#ff3600,#ff3700,#ff3800)"></i>
<i style="background:linear-gradient(90deg,#ffb000,#ffb100,#ffb100,#ffb100,#ffb100,#ffb100,#ffb000,#ffb000,#ffb000,#ffb100,#ffb000,#ffb000,#ffb000,#ffb000,#ffb000,#ffaf00,#ffb000,#ffb100,#ffb500,#ffba00,#ffbc00,#ffb900,#ffad00,#ff9300,#ff6f00,#ff4800,#ff2100,#e50000,#c20000,#a60000,#910000,#830000,#7b0000,#7c0000,#850000,#920000,#970000,#970000,#9d0000,#a70000,#b00000,#b50000,#b90000,#bf0000,#c50000,#cb0000,#d00000,#d40000,#d70000,#dc0000,#e40000,#ec0300,#f40a00,#fd1100,#ff1900,#ff2200,#ff2a00,#ff3000,#ff3400,#ff3500,#ff3500,#ff3500,#ff3400,#ff3300,#ff3200,#ff3200,#ff3400,#ff3500,#ff3600,#ff3800)"></i>
<i style="background:linear-gradient(90deg,#ffb200,#ffb200,#ffb200,#ffb200,#ffb200,#ffb200,#ffb200,#ffb200,#ffb200,#ffb200,#ffb200,#ffb200,#ffb200,#ffb200,#ffb200,#ffb100,#ffb200,#ffb300,#ffb700,#ffbc00,#ffbf00,#ffbc00,#ffaf00,#ff9400,#ff6f00,#ff4700,#ff1f00,#e30000,#c00000,#a40000,#900000,#820000,#7b0000,#7b0000,#840000,#920000,#970000,#960000,#9c0000,#a60000,#b00000,#b50000,#ba0000,#c00000,#c80000,#ce0000,#d30000,#d70000,#db0000,#e00000,#e70000,#ef0500,#f60c00,#ff1300,#ff1a00,#ff2200,#ff2900,#ff3000,#ff3300,#ff3400,#ff3300,#ff3300,#ff3300,#ff3100,#ff3000,#ff3000,#ff3200,#ff3300,#ff3400,#ff3700)"></i>
<i style="background:linear-gradient(90deg,#ffb300,#ffb400,#ffb400,#ffb400,#ffb400,#ffb400,#ffb400,#ffb400,#ffb400,#ffb400,#ffb400,#ffb300,#ffb300,#ffb400,#ffb300,#ffb300,#ffb400,#ffb500,#ffb900,#ffbe00,#ffc100,#ffbd00,#ffb000,#ff9400,#ff6f00,#ff4600,#ff1d00,#e10000,#be0000,#a30000,#8f0000,#820000,#7a0000,#7b0000,#830000,#910000,#960000,#960000,#9c0000,#a60000,#af0000,#b50000,#bb0000,#c20000,#ca0000,#d10000,#d70000,#dc0000,#df0000,#e40000,#eb0200,#f20800,#f90e00,#ff1400,#ff1b00,#ff2200,#ff2900,#ff2f00,#ff3200,#ff3200,#ff3200,#ff3100,#ff3100,#ff2f00,#ff2e00,#ff2e00,#ff3000,#ff3100,#ff3300,#ff3600)"></i>
<i style="background:linear-gradient(90deg,#ffb400,#ffb500,#ffb500,#ffb500,#ffb500,#ffb500,#ffb500,#ffb500,#ffb500,#ffb500,#ffb500,#ffb500,#ffb500,#ffb500,#ffb500,#ffb500,#ffb500,#ffb700,#ffbb00,#ffc000,#ffc300,#ffbf00,#ffb100,#ff9400,#ff6e00,#ff4400,#ff1c00,#df0000,#bc0000,#a20000,#8e0000,#820000,#7a0000,#7b0000,#830000,#8f0000,#950000,#960000,#9b0000,#a50000,#ae0000,#b50000,#bb0000,#c40000,#cd0000,#d50000,#dc0000,#e00000,#e40000,#e80000,#ee0500,#f50b00,#fb1000,#ff1500,#ff1c00,#ff2200,#ff2800,#ff2e00,#ff3000,#ff3000,#ff3000,#ff3000,#ff2f00,#ff2d00,#ff2c00,#ff2c00,#ff2d00,#ff2f00,#ff3100,#ff3400)"></i>
<i style="background:linear-gradient(90deg,#ffb500,#ffb600,#ffb600,#ffb600,#ffb700,#ffb600,#ffb600,#ffb600,#ffb600,#ffb600,#ffb600,#ffb600,#ffb600,#ffb600,#ffb600,#ffb600,#ffb700,#ffb900,#ffbd00,#ffc200,#ffc500,#ffc000,#ffb100,#ff9400,#ff6d00,#ff4300,#ff1a00,#dd0000,#ba0000,#a00000,#8d0000,#810000,#7a0000,#7b0000,#820000,#8d0000,#940000,#960000,#9b0000,#a40000,#ae0000,#b50000,#bc0000,#c60000,#d00000,#d90000,#e00000,#e50000,#e90100,#ed0400,#f30900,#f80d00,#fe1200,#ff1700,#ff1d00,#ff2200,#ff2800,#ff2c00,#ff2f00,#ff2f00,#ff2e00,#ff2e00,#ff2d00,#ff2b00,#ff2a00,#ff2a00,#ff2b00,#ff2c00,#ff2f00,#ff3300)"></i>
<i style="background:linear-gradient(90deg,#ffb600,#ffb700,#ffb700,#ffb700,#ffb800,#ffb700,#ffb700,#ffb700,#ffb700,#ffb800,#ffb700,#ffb700,#ffb700,#ffb700,#ffb700,#ffb800,#ffb900,#ffbb00,#ffbf00,#ffc400,#ffc600,#ffc100,#ffb100,#ff9400,#ff6c00,#ff4100,#ff1800,#da0000,#b80000,#9f0000,#8d0000,#810000,#7b0000,#7b0000,#810000,#8c0000,#930000,#960000,#9b0000,#a40000,#ad0000,#b50000,#bd0000,#c80000,#d30000,#dd0000,#e50000,#eb0200,#ee0500,#f20800,#f70c00,#fc1000,#ff1500,#ff1900,#ff1e00,#ff2200,#ff2700,#ff2b00,#ff2d00,#ff2d00,#ff2c00,#ff2c00,#ff2b00,#ff2900,#ff2800,#ff2800,#ff2800,#ff2a00,#ff2d00,#ff3100)"></i>
<i style="background:linear-gradient(90deg,#ffb700,#ffb800,#ffb800,#ffb800,#ffb800,#ffb800,#ffb800,#ffb800,#ffb800,#ffb800,#ffb800,#ffb800,#ffb800,#ffb800,#ffb800,#ffb900,#ffba00,#ffbd00,#ffc100,#ffc600,#ffc800,#ffc200,#ffb100,#ff9300,#ff6b00,#ff3f00,#ff1600,#d80000,#b70000,#9e0000,#8c0000,#810000,#7b0000,#7b0000,#810000,#8b0000,#920000,#960000,#9c0000,#a40000,#ad0000,#b50000,#bf0000,#ca0000,#d70000,#e20000,#ea0200,#f00700,#f40a00,#f80d00,#fc1000,#ff1400,#ff1700,#ff1b00,#ff1f00,#ff2300,#ff2700,#ff2a00,#ff2c00,#ff2b00,#ff2b00,#ff2a00,#ff2900,#ff2700,#ff2600,#ff2500,#ff2600,#ff2800,#ff2b00,#ff3000)"></i>
<i style="background:linear-gradient(90deg,#ffb800,#ffb900,#ffb900,#ffb900,#ffb900,#ffb900,#ffb900,#ffb900,#ffb900,#ffb900,#ffb900,#ffb900,#ffb900,#ffb900,#ffb900,#ffba00,#ffbb00,#ffbe00,#ffc200,#ffc700,#ffc900,#ffc300,#ffb100,#ff9200,#ff6900,#ff3d00,#ff1400,#d60000,#b50000,#9d0000,#8c0000,#810000,#7c0000,#7c0000,#810000,#8a0000,#910000,#960000,#9d0000,#a50000,#ad0000,#b60000,#c10000,#cd0000,#db0000,#e70000,#f00700,#f60c00,#fa0f00,#fd1100,#ff1400,#ff1700,#ff1a00,#ff1d00,#ff2000,#ff2300,#ff2600,#ff2900,#ff2a00,#ff2a00,#ff2900,#ff2800,#ff2700,#ff2500,#ff2400,#ff2300,#ff2400,#ff2500,#ff2900,#ff2f00)"></i>
<i style="background:linear-gradient(90deg,#ffb800,#ffb900,#ffba00,#ffba00,#ffba00,#ffba00,#ffba00,#ffba00,#ffba00,#ffba00,#ffba00,#ffba00,#ffba00,#ffba00,#ffba00,#ffbb00,#ffbc00,#ffbf00,#ffc400,#ffc900,#ffca00,#ffc300,#ffb100,#ff9100,#ff6800,#ff3b00,#fd1200,#d30000,#b30000,#9c0000,#8c0000,#820000,#7d0000,#7d0000,#820000,#8a0000,#920000,#970000,#9e0000,#a60000,#ae0000,#b80000,#c30000,#d00000,#df0000,#ec0400,#f60c00,#fc1100,#ff1400,#ff1600,#ff1800,#ff1b00,#ff1d00,#ff1f00,#ff2100,#ff2400,#ff2600,#ff2800,#ff2900,#ff2800,#ff2800,#ff2700,#ff2500,#ff2400,#ff2200,#ff2200,#ff2200,#ff2300,#ff2700,#ff2d00)"></i>
<i style="background:linear-gradient(90deg,#ffb800,#ffb900,#ffba00,#ffba00,#ffba00,#ffba00,#ffba00,#ffba00,#ffba00,#ffba00,#ffba00,#ffba00,#ffba00,#ffba00,#ffbb00,#ffbb00,#ffbd00,#ffc000,#ffc500,#ffca00,#ffcb00,#ffc400,#ffb000,#ff9000,#ff6600,#ff3900,#fa0f00,#d00000,#b10000,#9b0000,#8c0000,#820000,#7e0000,#7e0000,#830000,#8b0000,#920000,#980000,#a00000,#a70000,#af0000,#b90000,#c50000,#d40000,#e40000,#f20800,#fc1100,#ff1600,#ff1900,#ff1b00,#ff1d00,#ff1e00,#ff2000,#ff2100,#ff2300,#ff2400,#ff2600,#ff2700,#ff2700,#ff2700,#ff2600,#ff2500,#ff2400,#ff2200,#ff2100,#ff2000,#ff2000,#ff2200,#ff2600,#ff2d00)"></i>
<i style="background:linear-gradient(90deg,#ffb900,#ffba00,#ffba00,#ffba00,#ffbb00,#ffbb00,#ffba00,#ffba00,#ffbb00,#ffbb00,#ffbb00,#ffbb00,#ffbb00,#ffbb00,#ffbb00,#ffbc00,#ffbe00,#ffc100,#ffc600,#ffca00,#ffcb00,#ffc400,#ffb000,#ff8f00,#ff6400,#ff3600,#f70c00,#cd0000,#af0000,#9a0000,#8c0000,#830000,#7f0000,#800000,#850000,#8d0000,#940000,#9a0000,#a20000,#a90000,#b10000,#bc0000,#c80000,#d80000,#e90100,#f80d00,#ff1600,#ff1c00,#ff1f00,#ff2000,#ff2100,#ff2200,#ff2300,#ff2300,#ff2400,#ff2500,#ff2600,#ff2600,#ff2600,#ff2600,#ff2500,#ff2400,#ff2300,#ff2100,#ff2000,#ff1f00,#ff1f00,#ff2000,#ff2400,#ff2c00)"></i>
<i style="background:linear-gradient(90deg,#ffb900,#ffba00,#ffba00,#ffbb00,#ffbb00,#ffbb00,#ffbb00,#ffbb00,#ffbb00,#ffbb00,#ffbb00,#ffbb00,#ffbb00,#ffbb00,#ffbb00,#ffbc00,#ffbe00,#ffc200,#ffc600,#ffcb00,#ffcc00,#ffc400,#ffb000,#ff8d00,#ff6200,#ff3300,#f30900,#ca0000,#ad0000,#9a0000,#8d0000,#840000,#810000,#830000,#880000,#8f0000,#960000,#9d0000,#a50000,#ac0000,#b40000,#bf0000,#cb0000,#dc0000,#ef0500,#ff1300,#ff1c00,#ff2200,#ff2400,#ff2500,#ff2600,#ff2600,#ff2600,#ff2600,#ff2600,#ff2600,#ff2600,#ff2600,#ff2600,#ff2500,#ff2500,#ff2300,#ff2200,#ff2100,#ff2000,#ff1e00,#ff1e00,#ff1f00,#ff2400,#ff2c00)"></i>
<i style="background:linear-gradient(90deg,#ffb900,#ffba00,#ffba00,#ffbb00,#ffbb00,#ffbb00,#ffbb00,#ffbb00,#ffbb00,#ffbb00,#ffbb00,#ffbb00,#ffbb00,#ffbb00,#ffbb00,#ffbc00,#ffbe00,#ffc200,#ffc700,#ffcb00,#ffcc00,#ffc400,#ffaf00,#ff8c00,#ff5f00,#ff3000,#f00600,#c70000,#ac0000,#990000,#8d0000,#860000,#830000,#860000,#8b0000,#920000,#980000,#a00000,#a80000,#b00000,#b80000,#c20000,#cf0000,#e10000,#f50b00,#ff1800,#ff2200,#ff2700,#ff2a00,#ff2b00,#ff2a00,#ff2a00,#ff2900,#ff2800,#ff2800,#ff2700,#ff2600,#ff2500,#ff2500,#ff2500,#ff2400,#ff2300,#ff2200,#ff2100,#ff2000,#ff1e00,#ff1d00,#ff1f00,#ff2300,#ff2c00)"></i>
<i style="background:linear-gradient(90deg,#ffb900,#ffba00,#ffba00,#ffbb00,#ffbb00,#ffbb00,#ffbb00,#ffbb00,#ffbb00,#ffbb00,#ffbb00,#ffbb00,#ffbb00,#ffbb00,#ffbb00,#ffbc00,#ffbe00,#ffc200,#ffc700,#ffcb00,#ffcc00,#ffc400,#ffaf00,#ff8a00,#ff5d00,#ff2d00,#ec0300,#c40000,#aa0000,#990000,#8e0000,#880000,#860000,#890000,#8f0000,#960000,#9c0000,#a40000,#ad0000,#b40000,#bd0000,#c70000,#d40000,#e60000,#fb1000,#ff1f00,#ff2800,#ff2e00,#ff3000,#ff3000,#ff2f00,#ff2e00,#ff2c00,#ff2b00,#ff2a00,#ff2800,#ff2700,#ff2500,#ff2500,#ff2500,#ff2400,#ff2300,#ff2200,#ff2100,#ff2000,#ff1e00,#ff1d00,#ff1f00,#ff2400,#ff2d00)"></i>
<i style="background:linear-gradient(90deg,#ffb800,#ffb900,#ffba00,#ffba00,#ffba00,#ffba00,#ffba00,#ffba00,#ffba00,#ffbb00,#ffbb00,#ffba00,#ffbb00,#ffbb00,#ffbb00,#ffbc00,#ffbe00,#ffc200,#ffc600,#ffcb00,#ffcc00,#ffc400,#ffae00,#ff8900,#ff5a00,#ff2a00,#e70000,#c10000,#a90000,#990000,#900000,#8a0000,#890000,#8d0000,#940000,#9b0000,#a00000,#a90000,#b20000,#ba0000,#c20000,#cc0000,#d90000,#ec0300,#ff1600,#ff2500,#ff2f00,#ff3400,#ff3600,#ff3600,#ff3400,#ff3200,#ff3000,#ff2e00,#ff2c00,#ff2a00,#ff2700,#ff2600,#ff2500,#ff2500,#ff2500,#ff2400,#ff2300,#ff2200,#ff2100,#ff1f00,#ff1e00,#ff1f00,#ff2500,#ff2e00)"></i>
<i style="background:linear-gradient(90deg,#ffb800,#ffb900,#ffba00,#ffba00,#ffba00,#ffba00,#ffba00,#ffba00,#ffba00,#ffba00,#ffba00,#ffba00,#ffba00,#ffba00,#ffbb00,#ffbc00,#ffbe00,#ffc100,#ffc600,#ffcb00,#ffcc00,#ffc400,#ffae00,#ff8700,#ff5700,#ff2600,#e30000,#be0000,#a70000,#9a0000,#910000,#8d0000,#8c0000,#910000,#980000,#a00000,#a60000,#ae0000,#b70000,#c00000,#c80000,#d20000,#df0000,#f30900,#ff1d00,#ff2c00,#ff3600,#ff3a00,#ff3c00,#ff3b00,#ff3900,#ff3600,#ff3300,#ff3100,#ff2e00,#ff2b00,#ff2800,#ff2600,#ff2600,#ff2600,#ff2600,#ff2500,#ff2400,#ff2400,#ff2300,#ff2100,#ff2000,#ff2100,#ff2600,#ff3100)"></i>
<i style="background:linear-gradient(90deg,#ffb800,#ffb900,#ffb900,#ffb900,#ffba00,#ffba00,#ffb900,#ffb900,#ffba00,#ffba00,#ffba00,#ffba00,#ffba00,#ffba00,#ffba00,#ffbb00,#ffbd00,#ffc000,#ffc500,#ffca00,#ffcb00,#ffc400,#ffad00,#ff8500,#ff5400,#ff2300,#df0000,#bb0000,#a60000,#9a0000,#930000,#900000,#900000,#960000,#9e0000,#a60000,#ad0000,#b50000,#be0000,#c70000,#cf0000,#d90000,#e50000,#fa0f00,#ff2400,#ff3300,#ff3c00,#ff4100,#ff4200,#ff4000,#ff3d00,#ff3a00,#ff3700,#ff3400,#ff3100,#ff2d00,#ff2a00,#ff2700,#ff2700,#ff2700,#ff2800,#ff2700,#ff2700,#ff2700,#ff2600,#ff2400,#ff2200,#ff2300,#ff2900,#ff3300)"></i>
<i style="background:linear-gradient(90deg,#ffb700,#ffb800,#ffb900,#ffb900,#ffb900,#ffb900,#ffb900,#ffb900,#ffb900,#ffb900,#ffb900,#ffb900,#ffb900,#ffb900,#ffba00,#ffba00,#ffbc00,#ffbf00,#ffc400,#ffc900,#ffca00,#ffc300,#ffac00,#ff8300,#ff5000,#ff1f00,#db0000,#b80000,#a50000,#9b0000,#960000,#930000,#940000,#9b0000,#a40000,#ad0000,#b40000,#bc0000,#c50000,#ce0000,#d70000,#e00000,#ed0400,#ff1600,#ff2b00,#ff3b00,#ff4400,#ff4700,#ff4800,#ff4600,#ff4200,#ff3e00,#ff3a00,#ff3700,#ff3300,#ff2f00,#ff2c00,#ff2900,#ff2800,#ff2900,#ff2a00,#ff2a00,#ff2900,#ff2a00,#ff2a00,#ff2700,#ff2500,#ff2700,#ff2c00,#ff3700)"></i>
<i style="background:linear-gradient(90deg,#ffb700,#ffb800,#ffb800,#ffb800,#ffb800,#ffb800,#ffb800,#ffb800,#ffb800,#ffb800,#ffb800,#ffb800,#ffb800,#ffb800,#ffb900,#ffba00,#ffbb00,#ffbe00,#ffc200,#ffc700,#ffc900,#ffc200,#ffab00,#ff8000,#ff4c00,#ff1b00,#d70000,#b60000,#a50000,#9c0000,#980000,#970000,#990000,#a00000,#aa0000,#b40000,#bc0000,#c40000,#cd0000,#d60000,#df0000,#e90100,#f50b00,#ff1d00,#ff3300,#ff4300,#ff4b00,#ff4e00,#ff4e00,#ff4b00,#ff4600,#ff4200,#ff3e00,#ff3a00,#ff3600,#ff3200,#ff2e00,#ff2a00,#ff2a00,#ff2c00,#ff2d00,#ff2d00,#ff2d00,#ff2e00,#ff2e00,#ff2c00,#ff2900,#ff2b00,#ff3100,#ff3c00)"></i>
<i style="background:linear-gradient(90deg,#ffb600,#ffb700,#ffb700,#ffb700,#ffb700,#ffb700,#ffb700,#ffb700,#ffb700,#ffb700,#ffb700,#ffb700,#ffb700,#ffb800,#ffb800,#ffb900,#ffba00,#ffbc00,#ffc000,#ffc500,#ffc700,#ffc100,#ffaa00,#ff7d00,#ff4800,#ff1700,#d30000,#b40000,#a50000,#9e0000,#9b0000,#9b0000,#9e0000,#a60000,#b00000,#bb0000,#c40000,#cc0000,#d50000,#de0000,#e80000,#f20900,#ff1300,#ff2600,#ff3c00,#ff4b00,#ff5200,#ff5400,#ff5300,#ff5000,#ff4b00,#ff4600,#ff4100,#ff3e00,#ff3900,#ff3500,#ff3000,#ff2d00,#ff2c00,#ff2f00,#ff3100,#ff3100,#ff3100,#ff3300,#ff3400,#ff3200,#ff2f00,#ff3100,#ff3700,#ff4200)"></i>
<i style="background:linear-gradient(90deg,#ffb500,#ffb600,#ffb600,#ffb600,#ffb600,#ffb600,#ffb600,#ffb600,#ffb600,#ffb600,#ffb600,#ffb600,#ffb600,#ffb700,#ffb700,#ffb700,#ffb800,#ffba00,#ffbe00,#ffc300,#ffc500,#ffbf00,#ffa800,#ff7a00,#ff4400,#fe1200,#cf0000,#b20000,#a50000,#9f0000,#9e0000,#a00000,#a30000,#ab0000,#b70000,#c30000,#cc0000,#d40000,#dd0000,#e70000,#f20800,#fc1100,#ff1c00,#ff2f00,#ff4500,#ff5400,#ff5900,#ff5a00,#ff5900,#ff5500,#ff4f00,#ff4a00,#ff4500,#ff4100,#ff3c00,#ff3800,#ff3300,#ff2f00,#ff2f00,#ff3200,#ff3500,#ff3600,#ff3700,#ff3a00,#ff3b00,#ff3800,#ff3500,#ff3700,#ff3e00,#ff4900)"></i>
<i style="background:linear-gradient(90deg,#ffb500,#ffb500,#ffb500,#ffb500,#ffb500,#ffb500,#ffb500,#ffb500,#ffb500,#ffb500,#ffb500,#ffb500,#ffb500,#ffb500,#ffb600,#ffb600,#ffb700,#ffb800,#ffbc00,#ffc100,#ffc200,#ffbc00,#ffa600,#ff7600,#ff3f00,#f90e00,#cc0000,#b10000,#a50000,#a10000,#a10000,#a40000,#a80000,#b10000,#bd0000,#cb0000,#d40000,#dc0000,#e60000,#f10700,#fc1000,#ff1a00,#ff2500,#ff3900,#ff4f00,#ff5c00,#ff6000,#ff6000,#ff5e00,#ff5a00,#ff5300,#ff4d00,#ff4900,#ff4500,#ff4000,#ff3b00,#ff3600,#ff3300,#ff3300,#ff3700,#ff3a00,#ff3c00,#ff3d00,#ff4100,#ff4200,#ff4000,#ff3d00,#ff4000,#ff4700,#ff5100)"></i>
<i style="background:linear-gradient(90deg,#ffb400,#ffb400,#ffb400,#ffb400,#ffb400,#ffb400,#ffb300,#ffb300,#ffb400,#ffb400,#ffb400,#ffb400,#ffb400,#ffb400,#ffb400,#ffb500,#ffb500,#ffb600,#ffb900,#ffbe00,#ffbf00,#ffb800,#ffa300,#ff7100,#ff3900,#f30900,#c80000,#af0000,#a50000,#a30000,#a40000,#a80000,#ae0000,#b70000,#c40000,#d20000,#dd0000,#e50000,#ef0600,#fa0f00,#ff1900,#ff2300,#ff2f00,#ff4300,#ff5800,#ff6400,#ff6800,#ff6600,#ff6300,#ff5e00,#ff5700,#ff5100,#ff4c00,#ff4800,#ff4300,#ff3f00,#ff3a00,#ff3700,#ff3800,#ff3c00,#ff4100,#ff4300,#ff4500,#ff4900,#ff4b00,#ff4900,#ff4600,#ff4a00,#ff5100,#ff5b00)"></i>
<i style="background:linear-gradient(90deg,#ffb300,#ffb300,#ffb300,#ffb300,#ffb200,#ffb200,#ffb200,#ffb200,#ffb200,#ffb200,#ffb200,#ffb200,#ffb200,#ffb300,#ffb300,#ffb300,#ffb300,#ffb400,#ffb700,#ffba00,#ffbb00,#ffb400,#ff9e00,#ff6b00,#ff3300,#ed0400,#c50000,#ae0000,#a60000,#a50000,#a70000,#ac0000,#b30000,#bc0000,#ca0000,#d90000,#e40000,#ed0500,#f80d00,#ff1700,#ff2100,#ff2c00,#ff3a00,#ff4d00,#ff6200,#ff6d00,#ff6e00,#ff6c00,#ff6800,#ff6200,#ff5b00,#ff5500,#ff5000,#ff4c00,#ff4700,#ff4300,#ff3f00,#ff3b00,#ff3d00,#ff4200,#ff4700,#ff4b00,#ff4e00,#ff5300,#ff5500,#ff5300,#ff5100,#ff5500,#ff5e00,#ff6800)"></i>
<i style="background:linear-gradient(90deg,#ffb100,#ffb100,#ffb100,#ffb100,#ffb100,#ffb100,#ffb000,#ffb000,#ffb000,#ffb100,#ffb100,#ffb100,#ffb100,#ffb100,#ffb100,#ffb100,#ffb200,#ffb200,#ffb400,#ffb700,#ffb700,#ffaf00,#ff9700,#ff6500,#ff2d00,#e70000,#c10000,#ad0000,#a70000,#a70000,#aa0000,#b00000,#b70000,#c20000,#d00000,#e00000,#ec0300,#f60c00,#ff1500,#ff1f00,#ff2a00,#ff3600,#ff4400,#ff5700,#ff6b00,#ff7500,#ff7500,#ff7100,#ff6c00,#ff6600,#ff5f00,#ff5800,#ff5300,#ff4f00,#ff4b00,#ff4700,#ff4300,#ff4100,#ff4300,#ff4800,#ff4f00,#ff5400,#ff5900,#ff5d00,#ff5f00,#ff5f00,#ff5d00,#ff6200,#ff6b00,#ff7700)"></i>
<i style="background:linear-gradient(90deg,#ffb000,#ffb000,#ffb000,#ffb000,#ffaf00,#ffaf00,#ffaf00,#ffaf00,#ffaf00,#ffaf00,#ffaf00,#ffaf00,#ffaf00,#ffb000,#ffb000,#ffb000,#ffb000,#ffb000,#ffb100,#ffb300,#ffb200,#ffa800,#ff8f00,#ff5e00,#ff2700,#e10000,#bd0000,#ac0000,#a70000,#a90000,#ad0000,#b40000,#bc0000,#c70000,#d60000,#e60000,#f30900,#fe1200,#ff1d00,#ff2800,#ff3300,#ff4000,#ff4f00,#ff6100,#ff7300,#ff7d00,#ff7c00,#ff7600,#ff7000,#ff6900,#ff6200,#ff5c00,#ff5700,#ff5300,#ff4f00,#ff4b00,#ff4900,#ff4700,#ff4900,#ff5000,#ff5700,#ff5e00,#ff6400,#ff6800,#ff6a00,#ff6b00,#ff6b00,#ff7000,#ff7a00,#ff8700)"></i>
<i style="background:linear-gradient(90deg,#ffaf00,#ffaf00,#ffae00,#ffae00,#ffae00,#ffad00,#ffad00,#ffad00,#ffad00,#ffad00,#ffad00,#ffad00,#ffae00,#ffae00,#ffae00,#ffae00,#ffae00,#ffae00,#ffae00,#ffaf00,#ffad00,#ffa200,#ff8700,#ff5700,#ff2100,#db0000,#b90000,#aa0000,#a80000,#ab0000,#b00000,#b70000,#c00000,#cc0000,#db0000,#ec0300,#fa0f00,#ff1900,#ff2400,#ff3000,#ff3d00,#ff4a00,#ff5900,#ff6b00,#ff7c00,#ff8400,#ff8200,#ff7b00,#ff7300,#ff6c00,#ff6500,#ff5f00,#ff5a00,#ff5700,#ff5300,#ff5000,#ff4e00,#ff4e00,#ff5100,#ff5700,#ff6000,#ff6800,#ff7000,#ff7400,#ff7600,#ff7800,#ff7900,#ff7f00,#ff8a00,#ff9700)"></i>
<i style="background:linear-gradient(90deg,#ffad00,#ffad00,#ffad00,#ffac00,#ffac00,#ffab00,#ffab00,#ffab00,#ffab00,#ffab00,#ffab00,#ffab00,#ffac00,#ffac00,#ffac00,#ffac00,#ffac00,#ffab00,#ffab00,#ffab00,#ffa700,#ff9b00,#ff7f00,#ff5000,#ff1b00,#d50000,#b60000,#a90000,#a90000,#ac0000,#b20000,#bb0000,#c50000,#d10000,#e10000,#f10800,#ff1400,#ff2000,#ff2c00,#ff3900,#ff4600,#ff5400,#ff6300,#ff7500,#ff8400,#ff8c00,#ff8900,#ff8000,#ff7700,#ff6f00,#ff6900,#ff6300,#ff5e00,#ff5a00,#ff5800,#ff5600,#ff5500,#ff5500,#ff5800,#ff5f00,#ff6800,#ff7300,#ff7c00,#ff8000,#ff8300,#ff8600,#ff8800,#ff8f00,#ff9a00,#ffa800)"></i>
<i style="background:linear-gradient(90deg,#ffac00,#ffac00,#ffab00,#ffab00,#ffaa00,#ffaa00,#ffa900,#ffa900,#ffa900,#ffa900,#ffa900,#ffaa00,#ffaa00,#ffaa00,#ffaa00,#ffaa00,#ffa900,#ffa900,#ffa800,#ffa700,#ffa100,#ff9300,#ff7700,#ff4900,#ff1600,#d00000,#b20000,#a80000,#a90000,#ae0000,#b50000,#be0000,#c90000,#d60000,#e60000,#f70c00,#ff1a00,#ff2600,#ff3300,#ff4100,#ff4f00,#ff5e00,#ff6d00,#ff7e00,#ff8d00,#ff9300,#ff8f00,#ff8400,#ff7a00,#ff7200,#ff6c00,#ff6700,#ff6200,#ff5e00,#ff5c00,#ff5b00,#ff5b00,#ff5c00,#ff6000,#ff6800,#ff7200,#ff7d00,#ff8700,#ff8c00,#ff9000,#ff9400,#ff9800,#ff9f00,#ffab00,#ffb900)"></i>
<i style="background:linear-gradient(90deg,#ffab00,#ffaa00,#ffa900,#ffa900,#ffa800,#ffa800,#ffa700,#ffa700,#ffa700,#ffa700,#ffa700,#ffa700,#ffa800,#ffa800,#ffa800,#ffa800,#ffa700,#ffa600,#ffa500,#ffa200,#ff9b00,#ff8c00,#ff6f00,#ff4200,#fd1100,#cb0000,#af0000,#a70000,#a90000,#b00000,#b80000,#c20000,#cd0000,#db0000,#eb0300,#fc1100,#ff1f00,#ff2c00,#ff3b00,#ff4a00,#ff5800,#ff6700,#ff7700,#ff8700,#ff9500,#ff9b00,#ff9500,#ff8900,#ff7d00,#ff7500,#ff7000,#ff6b00,#ff6600,#ff6300,#ff6100,#ff6100,#ff6200,#ff6400,#ff6900,#ff7100,#ff7b00,#ff8700,#ff9200,#ff9800,#ff9d00,#ffa200,#ffa800,#ffaf00,#ffbb00,#ffca00)"></i>
<i style="background:linear-gradient(90deg,#ffa900,#ffa800,#ffa800,#ffa700,#ffa600,#ffa600,#ffa500,#ffa500,#ffa500,#ffa500,#ffa500,#ffa500,#ffa600,#ffa600,#ffa600,#ffa600,#ffa500,#ffa300,#ffa100,#ff9e00,#ff9500,#ff8500,#ff6700,#ff3c00,#f70d00,#c70000,#ad0000,#a70000,#aa0000,#b10000,#ba0000,#c50000,#d10000,#df0000,#f00700,#ff1500,#ff2400,#ff3300,#ff4200,#ff5200,#ff6200,#ff7100,#ff8100,#ff9000,#ff9d00,#ffa100,#ff9b00,#ff8e00,#ff8100,#ff7900,#ff7400,#ff6f00,#ff6a00,#ff6700,#ff6600,#ff6700,#ff6900,#ff6c00,#ff7200,#ff7a00,#ff8500,#ff9200,#ff9d00,#ffa400,#ffaa00,#ffb100,#ffb700,#ffbf00,#ffcc00,#ffda00)"></i>
<i style="background:linear-gradient(90deg,#ffa800,#ffa700,#ffa600,#ffa500,#ffa400,#ffa400,#ffa300,#ffa300,#ffa200,#ffa200,#ffa300,#ffa300,#ffa400,#ffa400,#ffa400,#ffa300,#ffa200,#ffa000,#ff9e00,#ff9900,#ff8f00,#ff7e00,#ff6000,#ff3600,#f30900,#c40000,#ac0000,#a60000,#ab0000,#b30000,#bd0000,#c90000,#d50000,#e40000,#f50b00,#ff1900,#ff2900,#ff3900,#ff4a00,#ff5a00,#ff6b00,#ff7b00,#ff8a00,#ff9900,#ffa500,#ffa800,#ffa100,#ff9300,#ff8400,#ff7d00,#ff7800,#ff7300,#ff6e00,#ff6c00,#ff6b00,#ff6d00,#ff7000,#ff7500,#ff7a00,#ff8300,#ff8f00,#ff9c00,#ffa800,#ffb000,#ffb700,#ffbf00,#ffc700,#ffce00,#ffdb00,#ffea00)"></i>
<i style="background:linear-gradient(90deg,#ffa600,#ffa500,#ffa400,#ffa300,#ffa200,#ffa200,#ffa100,#ffa000,#ffa000,#ffa000,#ffa000,#ffa100,#ffa100,#ffa200,#ffa200,#ffa100,#ffa000,#ff9d00,#ff9a00,#ff9400,#ff8900,#ff7700,#ff5900,#ff3100,#ef0600,#c20000,#ab0000,#a70000,#ac0000,#b50000,#c00000,#cc0000,#da0000,#e90100,#fa0e00,#ff1e00,#ff2e00,#ff3f00,#ff5100,#ff6300,#ff7400,#ff8400,#ff9400,#ffa200,#ffac00,#ffaf00,#ffa700,#ff9800,#ff8800,#ff8100,#ff7c00,#ff7700,#ff7300,#ff7000,#ff7100,#ff7400,#ff7800,#ff7d00,#ff8400,#ff8d00,#ff9800,#ffa600,#ffb300,#ffbc00,#ffc400,#ffcd00,#ffd600,#ffdd00,#ffea00,#f5f802)"></i>
<i style="background:linear-gradient(90deg,#ffa500,#ffa400,#ffa300,#ffa100,#ffa000,#ffa000,#ff9f00,#ff9e00,#ff9e00,#ff9e00,#ff9e00,#ff9f00,#ff9f00,#ffa000,#ff9f00,#ff9f00,#ff9d00,#ff9a00,#ff9600,#ff8f00,#ff8300,#ff7000,#ff5300,#ff2c00,#eb0300,#c10000,#ab0000,#a80000,#ad0000,#b70000,#c30000,#d00000,#de0000,#ed0400,#fe1200,#ff2200,#ff3300,#ff4500,#ff5800,#ff6b00,#ff7d00,#ff8d00,#ff9d00,#ffab00,#ffb400,#ffb500,#ffad00,#ff9e00,#ff8d00,#ff8600,#ff8100,#ff7c00,#ff7800,#ff7500,#ff7700,#ff7a00,#ff8000,#ff8600,#ff8d00,#ff9600,#ffa200,#ffb000,#ffbd00,#ffc800,#ffd100,#ffdb00,#ffe500,#ffec00,#f5f802,#e9ff0d)"></i>
<i style="background:linear-gradient(90deg,#ffa300,#ffa200,#ffa100,#ffa000,#ff9f00,#ff9e00,#ff9d00,#ff9c00,#ff9c00,#ff9b00,#ff9c00,#ff9c00,#ff9d00,#ff9d00,#ff9d00,#ff9c00,#ff9a00,#ff9700,#ff9200,#ff8a00,#ff7d00,#ff6900,#ff4d00,#ff2800,#e90100,#c10000,#ac0000,#a90000,#af0000,#ba0000,#c60000,#d30000,#e20000,#f20800,#ff1600,#ff2600,#ff3800,#ff4b00,#ff5f00,#ff7300,#ff8600,#ff9600,#ffa600,#ffb300,#ffbb00,#ffbc00,#ffb300,#ffa400,#ff9300,#ff8b00,#ff8700,#ff8200,#ff7d00,#ff7b00,#ff7d00,#ff8100,#ff8800,#ff8f00,#ff9600,#ffa000,#ffac00,#ffbb00,#ffc800,#ffd300,#ffdd00,#ffe800,#faf200,#f4f903,#e9ff0e,#dfff18)"></i>
<i style="background:linear-gradient(90deg,#ffa200,#ffa000,#ff9f00,#ff9e00,#ff9d00,#ff9c00,#ff9b00,#ff9a00,#ff9900,#ff9900,#ff9900,#ff9a00,#ff9a00,#ff9b00,#ff9b00,#ff9900,#ff9700,#ff9400,#ff8e00,#ff8500,#ff7800,#ff6300,#ff4700,#ff2400,#e70000,#c20000,#ae0000,#ab0000,#b20000,#bc0000,#c90000,#d70000,#e60000,#f60c00,#ff1a00,#ff2a00,#ff3d00,#ff5100,#ff6600,#ff7b00,#ff8e00,#ff9f00,#ffae00,#ffbb00,#ffc300,#ffc300,#ffba00,#ffaa00,#ff9a00,#ff9200,#ff8d00,#ff8700,#ff8300,#ff8000,#ff8300,#ff8900,#ff9000,#ff9700,#ff9f00,#ffaa00,#ffb600,#ffc500,#ffd300,#ffdf00,#ffea00,#f7f500,#effe08,#e8ff0e,#deff19,#d4ff23)"></i>
<i style="background:linear-gradient(90deg,#ffa000,#ff9f00,#ff9e00,#ff9c00,#ff9b00,#ff9a00,#ff9900,#ff9800,#ff9700,#ff9700,#ff9700,#ff9700,#ff9800,#ff9800,#ff9800,#ff9700,#ff9400,#ff9100,#ff8a00,#ff8100,#ff7200,#ff5e00,#ff4200,#ff2000,#e50000,#c30000,#b00000,#ae0000,#b40000,#bf0000,#cd0000,#db0000,#ea0200,#fb0f00,#ff1e00,#ff2f00,#ff4200,#ff5700,#ff6d00,#ff8300,#ff9700,#ffa800,#ffb700,#ffc300,#ffca00,#ffc900,#ffc000,#ffb100,#ffa200,#ff9900,#ff9300,#ff8d00,#ff8800,#ff8600,#ff8900,#ff9000,#ff9800,#ffa000,#ffa900,#ffb400,#ffc100,#ffcf00,#ffde00,#ffeb00,#f6f601,#edff0a,#e5ff12,#deff19,#d3ff23,#caff2d)"></i>
<i style="background:linear-gradient(90deg,#ff9f00,#ff9d00,#ff9c00,#ff9a00,#ff9900,#ff9800,#ff9700,#ff9600,#ff9500,#ff9400,#ff9400,#ff9500,#ff9600,#ff9600,#ff9500,#ff9400,#ff9100,#ff8d00,#ff8600,#ff7c00,#ff6d00,#ff5800,#ff3d00,#ff1e00,#e50000,#c50000,#b30000,#b10000,#b70000,#c20000,#d00000,#df0000,#ef0600,#ff1300,#ff2200,#ff3300,#ff4700,#ff5d00,#ff7400,#ff8b00,#ff9f00,#ffb000,#ffbf00,#ffca00,#ffd100,#ffd000,#ffc700,#ffb900,#ffaa00,#ffa000,#ff9a00,#ff9400,#ff8f00,#ff8d00,#ff9000,#ff9800,#ffa000,#ffa900,#ffb300,#ffbe00,#ffcb00,#ffda00,#ffe900,#f6f601,#ebff0b,#e2ff15,#dbff1c,#d4ff23,#c9ff2e,#c0ff37)"></i>
<i style="background:linear-gradient(90deg,#ff9e00,#ff9c00,#ff9a00,#ff9900,#ff9700,#ff9600,#ff9500,#ff9400,#ff9300,#ff9200,#ff9200,#ff9200,#ff9300,#ff9300,#ff9300,#ff9100,#ff8e00,#ff8a00,#ff8200,#ff7700,#ff6800,#ff5300,#ff3900,#ff1b00,#e40000,#c60000,#b60000,#b40000,#ba0000,#c60000,#d40000,#e30000,#f30900,#ff1700,#ff2600,#ff3700,#ff4b00,#ff6300,#ff7b00,#ff9200,#ffa700,#ffb800,#ffc700,#ffd200,#ffd800,#ffd700,#ffce00,#ffc000,#ffb200,#ffa800,#ffa100,#ff9a00,#ff9500,#ff9300,#ff9700,#ff9f00,#ffa900,#ffb300,#ffbc00,#ffc800,#ffd500,#ffe400,#f8f400,#ecff0b,#e0ff16,#d8ff1f,#d2ff25,#caff2d,#bfff38,#b6ff41)"></i>
<i style="background:linear-gradient(90deg,#ff9d00,#ff9b00,#ff9900,#ff9700,#ff9600,#ff9400,#ff9300,#ff9200,#ff9000,#ff8f00,#ff8f00,#ff9000,#ff9100,#ff9100,#ff9000,#ff8e00,#ff8b00,#ff8600,#ff7f00,#ff7300,#ff6300,#ff4e00,#ff3500,#ff1900,#e40000,#c90000,#ba0000,#b70000,#be0000,#c90000,#d80000,#e80000,#f80d00,#ff1b00,#ff2a00,#ff3b00,#ff5000,#ff6900,#ff8200,#ff9a00,#ffaf00,#ffc000,#ffce00,#ffd900,#ffdf00,#ffdd00,#ffd500,#ffc800,#ffbb00,#ffb000,#ffa800,#ffa100,#ff9c00,#ff9a00,#ff9f00,#ffa700,#ffb200,#ffbc00,#ffc600,#ffd300,#ffe000,#fdee00,#effe08,#e1ff15,#d5ff21,#cdff2a,#c8ff2f,#c0ff37,#b5ff42,#acff4b)"></i>
<i style="background:linear-gradient(90deg,#ff9b00,#ff9900,#ff9800,#ff9600,#ff9400,#ff9300,#ff9100,#ff9000,#ff8e00,#ff8d00,#ff8d00,#ff8e00,#ff8e00,#ff8e00,#ff8d00,#ff8b00,#ff8800,#ff8300,#ff7b00,#ff6e00,#ff5e00,#ff4900,#ff3200,#ff1700,#e40000,#cb0000,#bd0000,#bb0000,#c20000,#cd0000,#dc0000,#ec0400,#fd1100,#ff1f00,#ff2e00,#ff4000,#ff5500,#ff6e00,#ff8800,#ffa100,#ffb700,#ffc800,#ffd500,#ffe000,#ffe500,#ffe400,#ffdc00,#ffd000,#ffc300,#ffb900,#ffb000,#ffa800,#ffa300,#ffa200,#ffa600,#ffb000,#ffbb00,#ffc500,#ffd100,#ffdd00,#ffeb00,#f4f903,#e6ff11,#d7ff20,#caff2d,#c2ff35,#beff39,#b6ff41,#abff4c,#a2ff55)"></i>
<i style="background:linear-gradient(90deg,#ff9a00,#ff9800,#ff9600,#ff9500,#ff9300,#ff9100,#ff9000,#ff8e00,#ff8c00,#ff8b00,#ff8b00,#ff8b00,#ff8b00,#ff8c00,#ff8b00,#ff8800,#ff8500,#ff8000,#ff7700,#ff6a00,#ff5900,#ff4500,#ff2e00,#ff1500,#e50000,#cd0000,#c10000,#bf0000,#c60000,#d10000,#e10000,#f10800,#ff1500,#ff2400,#ff3300,#ff4400,#ff5a00,#ff7400,#ff8f00,#ffa800,#ffbe00,#ffcf00,#ffdc00,#ffe600,#ffec00,#ffea00,#ffe200,#ffd700,#ffcc00,#ffc100,#ffb700,#ffaf00,#ffaa00,#ffa900,#ffae00,#ffb800,#ffc400,#ffcf00,#ffdb00,#ffe900,#f6f601,#eaff0d,#ddff1a,#ccff2b,#beff39,#b7ff40,#b4ff43,#acff4b,#a0ff56,#98ff5f)"></i>
<i style="background:linear-gradient(90deg,#ff9900,#ff9700,#ff9500,#ff9300,#ff9100,#ff9000,#ff8f00,#ff8d00,#ff8b00,#ff8900,#ff8800,#ff8900,#ff8900,#ff8900,#ff8800,#ff8500,#ff8200,#ff7c00,#ff7300,#ff6600,#ff5500,#ff4100,#ff2c00,#ff1400,#e50000,#d00000,#c50000,#c30000,#ca0000,#d60000,#e50000,#f60c00,#ff1a00,#ff2800,#ff3800,#ff4900,#ff5f00,#ff7a00,#ff9500,#ffaf00,#ffc500,#ffd500,#ffe200,#ffec00,#faf200,#fbf000,#ffe900,#ffdf00,#ffd400,#ffc900,#ffbf00,#ffb600,#ffb100,#ffb000,#ffb600,#ffc000,#ffcd00,#ffd900,#ffe500,#f8f400,#ecff0b,#e0ff17,#d3ff24,#c0ff37,#b1ff45,#abff4c,#a9ff4d,#a1ff55,#96ff61,#8eff69)"></i>
<i style="background:linear-gradient(90deg,#ff9900,#ff9600,#ff9400,#ff9200,#ff9000,#ff8f00,#ff8d00,#ff8b00,#ff8900,#ff8700,#ff8600,#ff8600,#ff8600,#ff8600,#ff8500,#ff8200,#ff7e00,#ff7900,#ff6f00,#ff6200,#ff5100,#ff3e00,#ff2900,#ff1300,#e60000,#d30000,#c90000,#c80000,#ce0000,#da0000,#ea0200,#fb1000,#ff1e00,#ff2d00,#ff3c00,#ff4e00,#ff6500,#ff8000,#ff9b00,#ffb500,#ffcb00,#ffdb00,#ffe800,#faf200,#f5f802,#f6f600,#fcef00,#ffe600,#ffdc00,#ffd100,#ffc600,#ffbe00,#ffb800,#ffb800,#ffbe00,#ffc900,#ffd600,#ffe300,#fbf000,#eeff09,#e1ff16,#d5ff22,#c8ff2f,#b4ff43,#a4ff53,#9eff59,#9eff59,#96ff61,#8bff6c,#84ff73)"></i>
<i style="background:linear-gradient(90deg,#ff9800,#ff9600,#ff9400,#ff9100,#ff8f00,#ff8e00,#ff8c00,#ff8a00,#ff8700,#ff8500,#ff8400,#ff8400,#ff8400,#ff8300,#ff8200,#ff7f00,#ff7b00,#ff7500,#ff6c00,#ff5e00,#ff4d00,#ff3a00,#ff2700,#ff1300,#e70000,#d60000,#cd0000,#cc0000,#d30000,#df0000,#ee0500,#ff1400,#ff2200,#ff3200,#ff4200,#ff5300,#ff6b00,#ff8600,#ffa100,#ffbb00,#ffd100,#ffe100,#feee00,#f5f701,#f1fd06,#f2fb05,#f7f500,#feed00,#ffe400,#ffd900,#ffce00,#ffc500,#ffc000,#ffbf00,#ffc600,#ffd100,#ffdf00,#feed00,#f2fb05,#e4ff13,#d6ff21,#caff2d,#bcff3b,#a7ff50,#96ff60,#90ff67,#90ff66,#8aff6d,#80ff77,#7aff7d)"></i>
<i style="background:linear-gradient(90deg,#ff9700,#ff9500,#ff9300,#ff9100,#ff8e00,#ff8d00,#ff8b00,#ff8900,#ff8600,#ff8300,#ff8200,#ff8100,#ff8100,#ff8000,#ff7f00,#ff7c00,#ff7800,#ff7200,#ff6800,#ff5a00,#ff4900,#ff3700,#ff2500,#fe1200,#e90100,#d90000,#d10000,#d10000,#d70000,#e40000,#f30900,#ff1800,#ff2700,#ff3700,#ff4700,#ff5900,#ff7100,#ff8c00,#ffa700,#ffc100,#ffd700,#ffe600,#f9f300,#f1fc06,#ecff0a,#edff09,#f2fb04,#f9f300,#ffeb00,#ffe000,#ffd500,#ffcc00,#ffc700,#ffc700,#ffcd00,#ffd900,#ffe800,#f5f802,#e8ff0f,#d9ff1e,#cbff2c,#bdff39,#aeff48,#99ff5e,#88ff6f,#81ff76,#82ff75,#7cff7a,#74ff83,#6fff87)"></i>
<i style="background:linear-gradient(90deg,#ff9700,#ff9500,#ff9200,#ff9000,#ff8e00,#ff8c00,#ff8b00,#ff8800,#ff8500,#ff8200,#ff8000,#ff7f00,#ff7e00,#ff7d00,#ff7b00,#ff7900,#ff7400,#ff6e00,#ff6400,#ff5700,#ff4600,#ff3400,#ff2300,#fe1200,#ea0200,#dc0000,#d50000,#d50000,#dc0000,#e80000,#f80d00,#ff1c00,#ff2c00,#ff3c00,#ff4d00,#ff6000,#ff7700,#ff9200,#ffad00,#ffc600,#ffdc00,#ffeb00,#f5f702,#edff09,#e9ff0e,#e9ff0d,#eeff09,#f4f903,#faf200,#ffe700,#ffdc00,#ffd300,#ffce00,#ffcf00,#ffd500,#ffe200,#faf100,#ecff0b,#deff19,#ceff29,#bfff38,#b0ff46,#a0ff57,#8aff6d,#79ff7e,#72ff85,#72ff85,#6eff89,#68ff8f,#65ff91)"></i>
<i style="background:linear-gradient(90deg,#ff9700,#ff9400,#ff9200,#ff9000,#ff8d00,#ff8c00,#ff8a00,#ff8700,#ff8400,#ff8100,#ff7e00,#ff7d00,#ff7c00,#ff7a00,#ff7800,#ff7500,#ff7100,#ff6a00,#ff6100,#ff5300,#ff4300,#ff3200,#ff2200,#fd1200,#ec0300,#df0000,#d90000,#da0000,#e10000,#ed0400,#fd1200,#ff2100,#ff3000,#ff4100,#ff5300,#ff6600,#ff7e00,#ff9800,#ffb300,#ffcb00,#ffe000,#fcf000,#f2fb05,#eaff0d,#e6ff11,#e6ff11,#eaff0d,#efff08,#f5f802,#feed00,#ffe200,#ffda00,#ffd500,#ffd600,#ffdd00,#ffea00,#f3fa04,#e3ff13,#d4ff23,#c3ff34,#b2ff44,#a3ff54,#91ff66,#7bff7c,#69ff8e,#62ff95,#62ff95,#60ff97,#5cff9b,#5bff9c)"></i>
<i style="background:linear-gradient(90deg,#ff9700,#ff9400,#ff9200,#ff8f00,#ff8d00,#ff8b00,#ff8900,#ff8700,#ff8300,#ff7f00,#ff7d00,#ff7a00,#ff7900,#ff7700,#ff7500,#ff7200,#ff6d00,#ff6700,#ff5d00,#ff5000,#ff4000,#ff3000,#ff2100,#fe1200,#ed0500,#e20000,#dd0000,#de0000,#e60000,#f20900,#ff1600,#ff2500,#ff3500,#ff4700,#ff5900,#ff6d00,#ff8400,#ff9e00,#ffb800,#ffd000,#ffe400,#f8f400,#eeff08,#e7ff10,#e3ff14,#e3ff14,#e6ff11,#eaff0c,#f0fd07,#f9f300,#ffe900,#ffe100,#ffdc00,#ffdd00,#ffe500,#faf200,#ebff0c,#dbff1c,#caff2d,#b8ff3f,#a6ff51,#95ff62,#82ff75,#6bff8b,#59ff9d,#52ffa5,#51ffa6,#51ffa6,#50ffa7,#51ffa6)"></i>
<i style="background:linear-gradient(90deg,#ff9700,#ff9400,#ff9100,#ff8f00,#ff8d00,#ff8b00,#ff8900,#ff8600,#ff8200,#ff7e00,#ff7b00,#ff7800,#ff7600,#ff7400,#ff7200,#ff6e00,#ff6a00,#ff6300,#ff5a00,#ff4d00,#ff3e00,#ff2e00,#ff2000,#fe1200,#ef0600,#e50000,#e10000,#e30000,#eb0200,#f70d00,#ff1a00,#ff2900,#ff3a00,#ff4c00,#ff5f00,#ff7400,#ff8b00,#ffa400,#ffbe00,#ffd500,#ffe800,#f5f702,#ebff0b,#e4ff13,#e0ff17,#e0ff17,#e2ff15,#e6ff10,#ecff0b,#f4f903,#fdef00,#ffe700,#ffe300,#ffe400,#ffec00,#f3fa04,#e4ff13,#d2ff25,#c0ff37,#acff4b,#99ff5e,#87ff70,#72ff84,#5cff9b,#49ffad,#42ffb5,#41ffb6,#42ffb5,#44ffb3,#47ffb0)"></i>
<i style="background:linear-gradient(90deg,#ff9700,#ff9400,#ff9100,#ff8f00,#ff8d00,#ff8b00,#ff8900,#ff8600,#ff8200,#ff7d00,#ff7900,#ff7600,#ff7300,#ff7100,#ff6e00,#ff6b00,#ff6600,#ff6000,#ff5600,#ff4a00,#ff3b00,#ff2d00,#ff1f00,#fe1200,#f10700,#e80000,#e50000,#e80000,#f00600,#fc1100,#ff1e00,#ff2e00,#ff3f00,#ff5200,#ff6500,#ff7a00,#ff9200,#ffaa00,#ffc300,#ffd900,#ffec00,#f2fb05,#e9ff0e,#e2ff15,#deff19,#ddff1a,#dfff18,#e3ff14,#e8ff0f,#effe07,#f7f500,#feed00,#ffea00,#ffeb00,#f9f300,#edff0a,#dcff1a,#caff2d,#b6ff41,#a1ff56,#8cff6a,#79ff7e,#63ff93,#4cffab,#3affbd,#32ffc5,#31ffc6,#34ffc3,#38ffbf,#3dffba)"></i>
<i style="background:linear-gradient(90deg,#ff9700,#ff9400,#ff9100,#ff8f00,#ff8d00,#ff8b00,#ff8900,#ff8600,#ff8100,#ff7c00,#ff7700,#ff7400,#ff7100,#ff6e00,#ff6b00,#ff6800,#ff6300,#ff5c00,#ff5300,#ff4700,#ff3900,#ff2b00,#ff1e00,#ff1300,#f30900,#eb0300,#e90100,#ec0400,#f50a00,#ff1500,#ff2300,#ff3300,#ff4400,#ff5800,#ff6c00,#ff8100,#ff9800,#ffb100,#ffc800,#ffde00,#fcf000,#effe07,#e6ff11,#dfff17,#dbff1b,#dbff1c,#dcff1b,#dfff17,#e4ff13,#ebff0c,#f3fa04,#f9f300,#fcf000,#faf200,#f3fa04,#e6ff11,#d5ff22,#c2ff35,#acff4b,#95ff61,#80ff77,#6bff8c,#54ffa2,#3dffba,#2affcd,#23ffd4,#22ffd5,#26ffd1,#2cffca,#33ffc4)"></i>
<i style="background:linear-gradient(90deg,#ff9700,#ff9400,#ff9100,#ff8f00,#ff8d00,#ff8b00,#ff8900,#ff8600,#ff8100,#ff7b00,#ff7600,#ff7100,#ff6e00,#ff6b00,#ff6800,#ff6400,#ff5f00,#ff5900,#ff5000,#ff4400,#ff3700,#ff2a00,#ff1e00,#ff1300,#f50b00,#ef0500,#ed0400,#f10700,#fa0f00,#ff1900,#ff2700,#ff3700,#ff4a00,#ff5d00,#ff7200,#ff8800,#ff9f00,#ffb700,#ffcd00,#ffe200,#f9f300,#edff0a,#e4ff13,#ddff19,#daff1d,#d8ff1e,#daff1d,#dcff1a,#e1ff16,#e7ff10,#eeff09,#f4f903,#f6f601,#f4f903,#edff0a,#e0ff17,#ceff29,#b9ff3d,#a2ff55,#8aff6d,#73ff84,#5dff9a,#46ffb1,#2fffc8,#1cffdb,#15ffe2,#14fee3,#1affdd,#22ffd5,#2affcd)"></i>
<i style="background:linear-gradient(90deg,#ff9800,#ff9400,#ff9200,#ff8f00,#ff8d00,#ff8b00,#ff8900,#ff8600,#ff8000,#ff7a00,#ff7400,#ff6f00,#ff6b00,#ff6800,#ff6500,#ff6100,#ff5c00,#ff5600,#ff4d00,#ff4100,#ff3500,#ff2900,#ff1e00,#ff1400,#f70c00,#f20800,#f10800,#f60b00,#ff1300,#ff1e00,#ff2b00,#ff3c00,#ff4f00,#ff6300,#ff7900,#ff8f00,#ffa600,#ffbd00,#ffd200,#ffe600,#f6f601,#ebff0c,#e2ff15,#dcff1b,#d8ff1f,#d7ff20,#d7ff20,#daff1d,#ddff19,#e3ff14,#eaff0d,#efff08,#f1fc06,#efff08,#e7ff10,#d9ff1d,#c7ff2f,#b2ff45,#99ff5e,#7fff78,#66ff90,#4fffa7,#38ffbf,#21ffd6,#0ef7e8,#08efef,#07efef,#0ef7e9,#18ffdf,#21ffd6)"></i>
<i style="background:linear-gradient(90deg,#ff9800,#ff9500,#ff9200,#ff8f00,#ff8d00,#ff8b00,#ff8900,#ff8600,#ff8000,#ff7900,#ff7200,#ff6d00,#ff6800,#ff6500,#ff6100,#ff5e00,#ff5900,#ff5200,#ff4a00,#ff3f00,#ff3300,#ff2800,#ff1d00,#ff1500,#f90e00,#f50b00,#f50b00,#fa0f00,#ff1700,#ff2200,#ff3000,#ff4100,#ff5400,#ff6900,#ff7f00,#ff9600,#ffad00,#ffc200,#ffd700,#ffea00,#f3f903,#e8ff0e,#e0ff17,#daff1d,#d6ff20,#d5ff22,#d5ff22,#d7ff20,#daff1c,#e0ff17,#e5ff11,#eaff0d,#ecff0b,#e9ff0d,#e1ff16,#d3ff23,#c1ff36,#aaff4d,#90ff67,#74ff83,#5aff9c,#42ffb4,#2bffcc,#14fee3,#02e8f4,#00e0fb,#00e1fa,#04ebf3,#0ff8e8,#19ffde)"></i>
<i style="background:linear-gradient(90deg,#ff9800,#ff9500,#ff9200,#ff9000,#ff8d00,#ff8c00,#ff8a00,#ff8600,#ff8000,#ff7800,#ff7100,#ff6a00,#ff6600,#ff6200,#ff5e00,#ff5a00,#ff5500,#ff4f00,#ff4700,#ff3c00,#ff3100,#ff2700,#ff1d00,#ff1500,#fb1000,#f80d00,#f90e00,#ff1300,#ff1b00,#ff2600,#ff3400,#ff4600,#ff5900,#ff6f00,#ff8600,#ff9d00,#ffb300,#ffc800,#ffdc00,#feed00,#f1fc06,#e6ff10,#deff18,#d9ff1e,#d5ff22,#d3ff24,#d3ff24,#d5ff22,#d8ff1f,#dcff1b,#e1ff16,#e5ff11,#e7ff10,#e4ff13,#dcff1b,#ceff29,#bbff3c,#a3ff54,#87ff70,#6aff8d,#4fffa8,#36ffc1,#1effd8,#08f0ef,#00dbff,#00d3ff,#00d5ff,#00e0fc,#07eef0,#12fce5)"></i>
<i style="background:linear-gradient(90deg,#ff9900,#ff9600,#ff9300,#ff9000,#ff8e00,#ff8c00,#ff8a00,#ff8700,#ff8000,#ff7700,#ff6f00,#ff6800,#ff6300,#ff5f00,#ff5b00,#ff5700,#ff5200,#ff4c00,#ff4400,#ff3a00,#ff2f00,#ff2600,#ff1d00,#ff1600,#fd1200,#fb1000,#fd1200,#ff1700,#ff1f00,#ff2a00,#ff3900,#ff4a00,#ff5f00,#ff7500,#ff8c00,#ffa400,#ffba00,#ffce00,#ffe000,#fbf100,#efff08,#e5ff12,#ddff1a,#d7ff1f,#d4ff23,#d2ff25,#d1ff25,#d2ff24,#d5ff22,#d9ff1e,#ddff19,#e1ff16,#e2ff15,#dfff18,#d6ff21,#c8ff2f,#b5ff42,#9cff5b,#7eff79,#5fff97,#43ffb4,#2affcd,#13fde4,#00e2fa,#00ceff,#00c8ff,#00cbff,#00d6ff,#00e5f7,#0cf4eb)"></i>
<i style="background:linear-gradient(90deg,#ff9a00,#ff9600,#ff9300,#ff9000,#ff8e00,#ff8c00,#ff8b00,#ff8700,#ff8000,#ff7600,#ff6d00,#ff6600,#ff6000,#ff5c00,#ff5800,#ff5300,#ff4f00,#ff4900,#ff4100,#ff3800,#ff2e00,#ff2500,#ff1d00,#ff1700,#ff1300,#ff1300,#ff1500,#ff1b00,#ff2300,#ff2f00,#ff3d00,#ff4f00,#ff6400,#ff7b00,#ff9300,#ffaa00,#ffc000,#ffd400,#ffe500,#f8f400,#ecff0b,#e3ff14,#dbff1b,#d6ff21,#d3ff24,#d1ff26,#d0ff27,#d0ff26,#d2ff24,#d6ff21,#daff1d,#ddff1a,#ddff1a,#daff1d,#d1ff26,#c3ff34,#afff48,#95ff62,#76ff81,#55ffa1,#38ffbe,#1fffd8,#08efef,#00d5ff,#00c3ff,#00bdff,#00c2ff,#00ceff,#00ddfd,#06edf1)"></i>
<i style="background:linear-gradient(90deg,#ff9a00,#ff9700,#ff9400,#ff9100,#ff8e00,#ff8d00,#ff8b00,#ff8800,#ff8000,#ff7500,#ff6b00,#ff6400,#ff5d00,#ff5900,#ff5400,#ff5000,#ff4c00,#ff4600,#ff3e00,#ff3500,#ff2c00,#ff2400,#ff1d00,#ff1800,#ff1500,#ff1500,#ff1800,#ff1e00,#ff2700,#ff3300,#ff4200,#ff5400,#ff6900,#ff8100,#ff9900,#ffb100,#ffc600,#ffd900,#ffe900,#f5f802,#eaff0d,#e1ff16,#daff1d,#d5ff22,#d2ff25,#d0ff27,#ceff28,#cfff28,#d0ff27,#d3ff24,#d6ff21,#d8ff1e,#d9ff1e,#d5ff22,#ccff2b,#bdff39,#a9ff4d,#8fff68,#6eff89,#4cffab,#2effc9,#15ffe2,#00e3f9,#00caff,#00b9ff,#00b4ff,#00baff,#00c7ff,#00d7ff,#01e7f5)"></i>
<i style="background:linear-gradient(90deg,#ff9b00,#ff9800,#ff9400,#ff9100,#ff8f00,#ff8d00,#ff8c00,#ff8800,#ff8000,#ff7400,#ff6a00,#ff6100,#ff5b00,#ff5600,#ff5100,#ff4d00,#ff4800,#ff4300,#ff3c00,#ff3300,#ff2a00,#ff2300,#ff1d00,#ff1900,#ff1700,#ff1800,#ff1b00,#ff2200,#ff2b00,#ff3700,#ff4600,#ff5900,#ff6e00,#ff8600,#ff9f00,#ffb700,#ffcd00,#ffde00,#feee00,#f2fb05,#e8ff0f,#dfff17,#d9ff1e,#d4ff23,#d1ff26,#cfff28,#cdff2a,#cdff2a,#ceff29,#d0ff27,#d3ff24,#d5ff22,#d4ff23,#d0ff27,#c7ff30,#b8ff3f,#a4ff53,#89ff6e,#67ff90,#43ffb4,#25ffd2,#0bf4eb,#00d8ff,#00c0ff,#00b0ff,#00acff,#00b3ff,#00c1ff,#00d1ff,#00e2f9)"></i>
<i style="background:linear-gradient(90deg,#ff9c00,#ff9900,#ff9500,#ff9200,#ff8f00,#ff8e00,#ff8c00,#ff8900,#ff8000,#ff7300,#ff6800,#ff5f00,#ff5800,#ff5300,#ff4e00,#ff4a00,#ff4500,#ff4000,#ff3900,#ff3100,#ff2800,#ff2200,#ff1d00,#ff1900,#ff1800,#ff1a00,#ff1f00,#ff2600,#ff2f00,#ff3c00,#ff4b00,#ff5d00,#ff7300,#ff8c00,#ffa500,#ffbe00,#ffd300,#ffe300,#faf200,#effe08,#e6ff11,#deff19,#d8ff1f,#d3ff23,#d0ff27,#ceff29,#ccff2b,#cbff2c,#ccff2b,#cdff2a,#cfff27,#d1ff26,#d0ff27,#cbff2b,#c2ff35,#b3ff43,#9fff57,#84ff73,#60ff97,#3bffbc,#1cffdb,#03e9f4,#00ceff,#00b7ff,#00a8ff,#00a6ff,#00aeff,#00bdff,#00cdff,#00defd)"></i>
<i style="background:linear-gradient(90deg,#ff9d00,#ff9900,#ff9600,#ff9200,#ff8f00,#ff8e00,#ff8d00,#ff8900,#ff8000,#ff7200,#ff6600,#ff5d00,#ff5500,#ff5000,#ff4b00,#ff4700,#ff4200,#ff3d00,#ff3600,#ff2e00,#ff2700,#ff2100,#ff1c00,#ff1a00,#ff1a00,#ff1c00,#ff2200,#ff2a00,#ff3300,#ff4000,#ff4f00,#ff6200,#ff7800,#ff9100,#ffab00,#ffc400,#ffd800,#ffe800,#f7f600,#edff0a,#e4ff13,#dcff1b,#d6ff20,#d2ff24,#d0ff27,#cdff2a,#cbff2c,#caff2d,#caff2d,#cbff2c,#ccff2a,#cdff2a,#ccff2b,#c7ff30,#bdff3a,#afff48,#9bff5c,#7fff78,#5aff9d,#33ffc4,#14fee3,#00e0fc,#00c6ff,#00afff,#00a1ff,#00a0ff,#00aaff,#00b9ff,#00caff,#00dbff)"></i>
<i style="background:linear-gradient(90deg,#ff9e00,#ff9a00,#ff9700,#ff9300,#ff9000,#ff8e00,#ff8d00,#ff8a00,#ff7f00,#ff7000,#ff6400,#ff5a00,#ff5300,#ff4d00,#ff4800,#ff4300,#ff3f00,#ff3a00,#ff3300,#ff2c00,#ff2500,#ff1f00,#ff1c00,#ff1b00,#ff1b00,#ff1f00,#ff2500,#ff2d00,#ff3700,#ff4400,#ff5400,#ff6600,#ff7d00,#ff9700,#ffb100,#ffca00,#ffde00,#feed00,#f3fa04,#eaff0d,#e2ff15,#dbff1c,#d5ff22,#d1ff25,#cfff28,#ccff2b,#caff2d,#c8ff2f,#c8ff2f,#c8ff2f,#c9ff2d,#caff2d,#c8ff2f,#c2ff35,#b9ff3e,#aaff4c,#96ff60,#7bff7c,#54ffa2,#2bffcb,#0df5ea,#00d8ff,#00bfff,#00a9ff,#009cff,#009cff,#00a6ff,#00b7ff,#00c8ff,#00d8ff)"></i>
<i style="background:linear-gradient(90deg,#ff9f00,#ff9b00,#ff9800,#ff9400,#ff9000,#ff8f00,#ff8e00,#ff8a00,#ff7f00,#ff6f00,#ff6200,#ff5800,#ff5000,#ff4a00,#ff4500,#ff4000,#ff3c00,#ff3700,#ff3100,#ff2900,#ff2300,#ff1e00,#ff1c00,#ff1b00,#ff1d00,#ff2100,#ff2800,#ff3100,#ff3b00,#ff4900,#ff5800,#ff6b00,#ff8200,#ff9c00,#ffb600,#ffd000,#ffe300,#faf200,#f0fd07,#e7ff0f,#e0ff17,#d9ff1e,#d4ff23,#d0ff26,#ceff29,#cbff2b,#c9ff2e,#c7ff30,#c6ff31,#c6ff31,#c7ff30,#c6ff31,#c4ff33,#beff39,#b5ff42,#a6ff50,#92ff64,#77ff80,#50ffa7,#25ffd2,#07eef0,#00d1ff,#00b9ff,#00a4ff,#0097ff,#0099ff,#00a4ff,#00b5ff,#00c6ff,#00d6ff)"></i>
<i style="background:linear-gradient(90deg,#ffa000,#ff9c00,#ff9900,#ff9500,#ff9100,#ff8f00,#ff8e00,#ff8a00,#ff7f00,#ff6d00,#ff6000,#ff5600,#ff4e00,#ff4700,#ff4200,#ff3d00,#ff3900,#ff3400,#ff2e00,#ff2700,#ff2100,#ff1d00,#ff1c00,#ff1c00,#ff1e00,#ff2300,#ff2b00,#ff3400,#ff3f00,#ff4d00,#ff5d00,#ff7000,#ff8700,#ffa100,#ffbc00,#ffd500,#ffe800,#f6f600,#edff0a,#e5ff12,#deff19,#d7ff1f,#d3ff24,#cfff27,#cdff29,#cbff2c,#c8ff2f,#c6ff31,#c4ff33,#c4ff33,#c4ff33,#c3ff34,#c0ff37,#baff3d,#b0ff46,#a2ff54,#8fff68,#73ff83,#4bffab,#1fffd7,#02e8f5,#00ccff,#00b5ff,#00a1ff,#0094ff,#0097ff,#00a3ff,#00b5ff,#00c6ff,#00d5ff)"></i>
<i style="background:linear-gradient(90deg,#ffa100,#ff9d00,#ff9a00,#ff9600,#ff9200,#ff8f00,#ff8e00,#ff8a00,#ff7e00,#ff6b00,#ff5e00,#ff5400,#ff4c00,#ff4400,#ff3f00,#ff3a00,#ff3600,#ff3100,#ff2b00,#ff2400,#ff1f00,#ff1c00,#ff1b00,#ff1c00,#ff2000,#ff2500,#ff2e00,#ff3800,#ff4300,#ff5100,#ff6100,#ff7500,#ff8c00,#ffa600,#ffc100,#ffda00,#feed00,#f3fa04,#eaff0d,#e2ff15,#dcff1b,#d6ff21,#d1ff26,#ceff28,#ccff2a,#caff2d,#c7ff30,#c4ff32,#c3ff34,#c2ff35,#c1ff35,#c0ff37,#bdff3a,#b6ff41,#adff4a,#9fff58,#8bff6c,#70ff87,#48ffaf,#1bffdc,#00e4f8,#00c8ff,#00b3ff,#009fff,#0093ff,#0097ff,#00a3ff,#00b5ff,#00c6ff,#00d5ff)"></i>
<i style="background:linear-gradient(90deg,#ffa200,#ff9e00,#ff9b00,#ff9700,#ff9200,#ff9000,#ff8e00,#ff8900,#ff7d00,#ff6a00,#ff5d00,#ff5200,#ff4900,#ff4200,#ff3c00,#ff3700,#ff3200,#ff2e00,#ff2800,#ff2100,#ff1c00,#ff1a00,#ff1b00,#ff1d00,#ff2100,#ff2700,#ff3000,#ff3b00,#ff4700,#ff5600,#ff6600,#ff7a00,#ff9100,#ffab00,#ffc500,#ffde00,#fbf100,#f0fe07,#e7ff10,#e0ff17,#daff1d,#d4ff23,#d0ff27,#cdff2a,#cbff2b,#c9ff2e,#c6ff31,#c3ff34,#c1ff36,#c0ff37,#bfff38,#bdff39,#baff3d,#b3ff44,#a9ff4e,#9bff5c,#87ff6f,#6cff8a,#45ffb2,#19ffde,#00e1fa,#00c6ff,#00b1ff,#009eff,#0093ff,#0098ff,#00a4ff,#00b5ff,#00c7ff,#00d6ff)"></i>
<i style="background:linear-gradient(90deg,#ffa300,#ffa000,#ff9c00,#ff9800,#ff9300,#ff9000,#ff8e00,#ff8800,#ff7b00,#ff6900,#ff5b00,#ff5000,#ff4700,#ff4000,#ff3a00,#ff3400,#ff2f00,#ff2a00,#ff2400,#ff1e00,#ff1a00,#ff1900,#ff1a00,#ff1d00,#ff2200,#ff2900,#ff3300,#ff3e00,#ff4b00,#ff5a00,#ff6b00,#ff7f00,#ff9600,#ffaf00,#ffc900,#ffe200,#f8f400,#edff0a,#e4ff13,#ddff1a,#d7ff1f,#d2ff25,#ceff28,#ccff2b,#caff2d,#c8ff2f,#c5ff32,#c2ff35,#c0ff37,#beff39,#bdff3a,#bbff3c,#b7ff40,#b0ff47,#a6ff51,#98ff5f,#84ff73,#69ff8e,#42ffb5,#18ffdf,#00e0fb,#00c6ff,#00b1ff,#00a0ff,#0095ff,#009aff,#00a6ff,#00b7ff,#00c8ff,#00d7ff)"></i>
<i style="background:linear-gradient(90deg,#ffa400,#ffa100,#ff9d00,#ff9900,#ff9400,#ff9100,#ff8d00,#ff8700,#ff7a00,#ff6800,#ff5900,#ff4e00,#ff4500,#ff3d00,#ff3700,#ff3200,#ff2c00,#ff2700,#ff2100,#ff1b00,#ff1800,#ff1700,#ff1a00,#ff1d00,#ff2300,#ff2b00,#ff3500,#ff4100,#ff4f00,#ff5e00,#ff7000,#ff8400,#ff9b00,#ffb400,#ffce00,#ffe500,#f5f802,#eaff0d,#e1ff15,#dbff1c,#d5ff22,#d0ff27,#cdff2a,#caff2c,#c9ff2e,#c7ff30,#c4ff33,#c1ff36,#bfff38,#bdff3a,#bbff3c,#b8ff3e,#b4ff43,#adff4a,#a3ff54,#94ff62,#81ff76,#66ff91,#40ffb7,#18ffdf,#00e0fb,#00c7ff,#00b3ff,#00a2ff,#0099ff,#009dff,#00a9ff,#00b9ff,#00c9ff,#00d9ff)"></i>
<i style="background:linear-gradient(90deg,#ffa500,#ffa200,#ff9e00,#ff9a00,#ff9600,#ff9100,#ff8d00,#ff8500,#ff7800,#ff6600,#ff5700,#ff4c00,#ff4300,#ff3b00,#ff3500,#ff2f00,#ff2900,#ff2400,#ff1e00,#ff1800,#ff1500,#ff1600,#ff1900,#ff1e00,#ff2400,#ff2d00,#ff3800,#ff4400,#ff5300,#ff6300,#ff7500,#ff8900,#ffa000,#ffb800,#ffd100,#ffe900,#f2fb05,#e7ff10,#dfff18,#d8ff1f,#d3ff24,#ceff29,#cbff2c,#c9ff2e,#c7ff2f,#c5ff31,#c3ff34,#c0ff37,#bdff39,#bbff3c,#b9ff3e,#b6ff41,#b1ff46,#aaff4d,#a0ff57,#92ff65,#7eff79,#63ff94,#3fffb8,#19ffde,#00e2fa,#00c9ff,#00b6ff,#00a6ff,#009dff,#00a1ff,#00acff,#00bcff,#00ccff,#00dbff)"></i>
<i style="background:linear-gradient(90deg,#ffa600,#ffa300,#ff9f00,#ff9b00,#ff9700,#ff9200,#ff8c00,#ff8400,#ff7600,#ff6500,#ff5600,#ff4a00,#ff4100,#ff3900,#ff3200,#ff2c00,#ff2600,#ff2000,#ff1a00,#ff1500,#ff1300,#ff1400,#ff1800,#ff1e00,#ff2500,#ff2f00,#ff3a00,#ff4700,#ff5600,#ff6700,#ff7900,#ff8e00,#ffa500,#ffbd00,#ffd500,#ffec00,#f0fe07,#e4ff12,#dcff1b,#d6ff21,#d0ff26,#ccff2b,#c9ff2e,#c7ff2f,#c6ff31,#c4ff33,#c2ff35,#bfff38,#bcff3b,#baff3d,#b7ff3f,#b4ff43,#afff48,#a7ff4f,#9dff5a,#8fff68,#7bff7b,#61ff96,#3effb9,#1affdd,#00e4f8,#00ccff,#00baff,#00abff,#00a3ff,#00a6ff,#00b0ff,#00bfff,#00cfff,#00defd)"></i>
<i style="background:linear-gradient(90deg,#ffa700,#ffa400,#ffa100,#ff9d00,#ff9800,#ff9200,#ff8c00,#ff8200,#ff7400,#ff6300,#ff5400,#ff4800,#ff3f00,#ff3700,#ff3000,#ff2a00,#ff2300,#ff1d00,#ff1700,#fe1200,#fc1100,#ff1300,#ff1800,#ff1e00,#ff2600,#ff3000,#ff3c00,#ff4a00,#ff5a00,#ff6b00,#ff7e00,#ff9300,#ffa900,#ffc100,#ffd900,#fdef00,#edff0a,#e2ff15,#d9ff1d,#d3ff24,#ceff29,#caff2d,#c7ff30,#c6ff31,#c5ff32,#c3ff34,#c1ff36,#beff39,#bbff3c,#b9ff3e,#b6ff41,#b2ff45,#adff4a,#a5ff52,#9bff5c,#8cff6a,#79ff7e,#5fff98,#3effb9,#1cffdb,#01e7f6,#00d0ff,#00bfff,#00b1ff,#00a9ff,#00acff,#00b5ff,#00c3ff,#00d2ff,#00e1fa)"></i>
<i style="background:linear-gradient(90deg,#ffa800,#ffa500,#ffa200,#ff9e00,#ff9900,#ff9300,#ff8b00,#ff8100,#ff7200,#ff6100,#ff5200,#ff4600,#ff3d00,#ff3500,#ff2e00,#ff2700,#ff2100,#ff1a00,#ff1400,#fb0f00,#fa0f00,#fd1200,#ff1700,#ff1f00,#ff2700,#ff3200,#ff3f00,#ff4d00,#ff5e00,#ff7000,#ff8300,#ff9800,#ffae00,#ffc500,#ffdc00,#faf200,#ebff0c,#dfff17,#d7ff20,#d0ff26,#ccff2b,#c8ff2f,#c5ff32,#c4ff33,#c3ff34,#c2ff35,#c0ff37,#bdff3a,#baff3d,#b7ff3f,#b4ff42,#b0ff46,#abff4c,#a3ff54,#99ff5e,#8aff6c,#77ff80,#5dff99,#3effb9,#1effd9,#04ebf3,#00d4ff,#00c4ff,#00b7ff,#00b0ff,#00b2ff,#00bbff,#00c8ff,#00d6ff,#00e5f7)"></i>
<i style="background:linear-gradient(90deg,#ffa900,#ffa700,#ffa300,#ff9f00,#ff9a00,#ff9300,#ff8a00,#ff7f00,#ff7000,#ff5f00,#ff5000,#ff4400,#ff3b00,#ff3300,#ff2c00,#ff2500,#ff1e00,#ff1700,#fc1100,#f70c00,#f70c00,#fc1000,#ff1700,#ff1f00,#ff2800,#ff3400,#ff4100,#ff5000,#ff6100,#ff7400,#ff8800,#ff9d00,#ffb300,#ffc900,#ffdf00,#f8f400,#e8ff0e,#ddff1a,#d4ff23,#ceff29,#c9ff2e,#c5ff31,#c3ff34,#c2ff35,#c2ff35,#c0ff36,#beff38,#bcff3b,#b9ff3e,#b6ff41,#b3ff44,#afff48,#a9ff4e,#a1ff56,#97ff60,#88ff6e,#75ff81,#5dff9a,#3effb8,#20ffd7,#07efef,#00d9ff,#00caff,#00beff,#00b7ff,#00b9ff,#00c0ff,#00cdff,#00dbff,#03e9f4)"></i>
<i style="background:linear-gradient(90deg,#ffaa00,#ffa800,#ffa500,#ffa000,#ff9b00,#ff9300,#ff8a00,#ff7d00,#ff6e00,#ff5d00,#ff4e00,#ff4300,#ff3900,#ff3100,#ff2a00,#ff2300,#ff1c00,#ff1500,#f90e00,#f40a00,#f40a00,#fa0f00,#ff1600,#ff1f00,#ff2900,#ff3500,#ff4300,#ff5300,#ff6500,#ff7800,#ff8d00,#ffa200,#ffb800,#ffcd00,#ffe300,#f5f702,#e6ff11,#daff1d,#d2ff25,#cbff2b,#c6ff30,#c3ff34,#c1ff36,#c0ff37,#c0ff37,#bfff38,#bdff39,#bbff3c,#b8ff3f,#b5ff42,#b2ff45,#adff4a,#a7ff50,#9fff58,#95ff62,#87ff70,#74ff83,#5cff9b,#3fffb8,#22ffd4,#0bf3ec,#00dffc,#00d1ff,#00c5ff,#00bfff,#00c0ff,#00c7ff,#00d2ff,#00dffc,#07eef0)"></i>
<i style="background:linear-gradient(90deg,#ffab00,#ffa900,#ffa600,#ffa100,#ff9c00,#ff9400,#ff8900,#ff7c00,#ff6c00,#ff5b00,#ff4d00,#ff4100,#ff3700,#ff2f00,#ff2800,#ff2100,#ff1900,#fe1200,#f60b00,#f00700,#f20800,#f90e00,#ff1600,#ff2000,#ff2b00,#ff3700,#ff4500,#ff5600,#ff6800,#ff7d00,#ff9200,#ffa700,#ffbd00,#ffd100,#ffe600,#f3fa04,#e3ff13,#d8ff1f,#cfff28,#c9ff2e,#c4ff33,#c0ff36,#bfff38,#beff39,#beff38,#beff39,#bcff3a,#baff3d,#b7ff3f,#b4ff43,#b0ff46,#acff4b,#a6ff51,#9eff59,#93ff64,#85ff71,#73ff84,#5cff9b,#40ffb6,#25ffd2,#0ef7e8,#00e4f8,#00d8ff,#00cdff,#00c7ff,#00c7ff,#00cdff,#00d8ff,#00e5f7,#0bf3ec)"></i>
<i style="background:linear-gradient(90deg,#ffac00,#ffaa00,#ffa700,#ffa300,#ff9c00,#ff9400,#ff8800,#ff7a00,#ff6a00,#ff5900,#ff4b00,#ff3f00,#ff3600,#ff2e00,#ff2600,#ff1f00,#ff1700,#fb1000,#f30900,#ee0500,#f00700,#f80d00,#ff1600,#ff2000,#ff2c00,#ff3900,#ff4700,#ff5900,#ff6c00,#ff8100,#ff9700,#ffac00,#ffc100,#ffd600,#ffea00,#f0fd07,#e1ff16,#d5ff22,#ccff2a,#c6ff31,#c1ff36,#beff39,#bcff3b,#bcff3b,#bdff3a,#bdff3a,#bbff3b,#b9ff3e,#b6ff40,#b3ff44,#afff47,#abff4c,#a4ff52,#9cff5b,#92ff65,#84ff73,#72ff84,#5cff9b,#42ffb5,#28ffcf,#12fce5,#03eaf3,#00defd,#00d4ff,#00cfff,#00ceff,#00d4ff,#00defd,#04ebf3,#0ff8e8)"></i>
<i style="background:linear-gradient(90deg,#ffad00,#ffab00,#ffa800,#ffa400,#ff9d00,#ff9400,#ff8800,#ff7900,#ff6800,#ff5700,#ff4800,#ff3d00,#ff3400,#ff2c00,#ff2400,#ff1d00,#ff1500,#f90e00,#f00700,#eb0300,#ee0500,#f70d00,#ff1600,#ff2100,#ff2d00,#ff3a00,#ff4a00,#ff5b00,#ff6f00,#ff8500,#ff9b00,#ffb100,#ffc600,#ffda00,#feed00,#edff0a,#deff19,#d2ff25,#c9ff2d,#c3ff34,#beff39,#bbff3c,#baff3d,#baff3d,#bbff3c,#bbff3c,#baff3c,#b8ff3e,#b6ff41,#b2ff44,#aeff48,#a9ff4d,#a3ff54,#9bff5c,#91ff66,#83ff74,#72ff85,#5cff9b,#43ffb4,#2affcc,#16ffe1,#08efef,#00e4f8,#00dbff,#00d6ff,#00d6ff,#00dbff,#00e5f8,#09f1ee,#14fee3)"></i>
<i style="background:linear-gradient(90deg,#ffae00,#ffac00,#ffa900,#ffa500,#ff9e00,#ff9400,#ff8700,#ff7700,#ff6600,#ff5500,#ff4600,#ff3b00,#ff3200,#ff2a00,#ff2300,#ff1b00,#ff1400,#f70c00,#ee0500,#e90100,#ed0400,#f70c00,#ff1600,#ff2200,#ff2e00,#ff3c00,#ff4c00,#ff5e00,#ff7300,#ff8900,#ffa000,#ffb600,#ffcb00,#ffde00,#fbf100,#eaff0d,#dbff1c,#cfff27,#c7ff30,#c0ff37,#bbff3b,#b8ff3f,#b7ff40,#b8ff3f,#b9ff3e,#baff3d,#b9ff3e,#b7ff3f,#b5ff42,#b1ff45,#adff49,#a8ff4e,#a2ff55,#9aff5d,#8fff67,#82ff74,#72ff85,#5dff9a,#45ffb2,#2dffca,#19ffdd,#0cf4eb,#04eaf3,#00e2fa,#00defd,#00ddfd,#00e2fa,#05ebf2,#0ef7e9,#18ffde)"></i>
<i style="background:linear-gradient(90deg,#ffaf00,#ffad00,#ffaa00,#ffa600,#ff9f00,#ff9500,#ff8600,#ff7500,#ff6300,#ff5200,#ff4400,#ff3900,#ff3100,#ff2900,#ff2200,#ff1a00,#fe1200,#f50b00,#ec0400,#e80000,#ec0400,#f70c00,#ff1700,#ff2300,#ff2f00,#ff3e00,#ff4e00,#ff6100,#ff7600,#ff8d00,#ffa500,#ffbb00,#ffd000,#ffe200,#f8f400,#e7ff10,#d8ff1f,#ccff2a,#c4ff33,#bdff3a,#b8ff3f,#b5ff42,#b4ff43,#b5ff41,#b7ff3f,#b9ff3e,#b8ff3f,#b7ff40,#b4ff43,#b1ff46,#adff4a,#a7ff4f,#a1ff56,#99ff5e,#8fff68,#82ff75,#72ff85,#5eff99,#47ffb0,#30ffc7,#1dffda,#10f9e7,#08efef,#02e8f5,#00e5f7,#00e4f8,#03e9f4,#0af2ed,#14fee3,#1effd9)"></i>
<i style="background:linear-gradient(90deg,#ffb000,#ffae00,#ffab00,#ffa700,#ffa000,#ff9500,#ff8600,#ff7400,#ff6100,#ff5000,#ff4200,#ff3800,#ff2f00,#ff2800,#ff2000,#ff1800,#fc1100,#f30900,#eb0300,#e70000,#ec0300,#f70c00,#ff1700,#ff2400,#ff3100,#ff3f00,#ff5000,#ff6300,#ff7a00,#ff9100,#ffaa00,#ffc100,#ffd500,#ffe700,#f4f802,#e4ff13,#d5ff22,#c9ff2e,#c0ff36,#baff3d,#b5ff42,#b2ff45,#b1ff46,#b3ff44,#b6ff41,#b7ff40,#b7ff40,#b6ff41,#b3ff44,#b0ff47,#acff4b,#a7ff50,#a0ff57,#98ff5f,#8eff69,#81ff75,#72ff85,#5fff98,#49ffae,#33ffc4,#20ffd6,#14fee3,#0bf4eb,#07eef0,#05ecf2,#05ebf2,#08f0ef,#10f9e7,#19ffde,#23ffd4)"></i>
<i style="background:linear-gradient(90deg,#ffb100,#ffaf00,#ffac00,#ffa800,#ffa000,#ff9500,#ff8500,#ff7200,#ff5f00,#ff4e00,#ff4000,#ff3600,#ff2e00,#ff2600,#ff1f00,#ff1700,#fb0f00,#f20800,#eb0200,#e70000,#ec0300,#f70d00,#ff1800,#ff2500,#ff3200,#ff4100,#ff5200,#ff6600,#ff7d00,#ff9500,#ffae00,#ffc600,#ffda00,#ffeb00,#f1fd06,#e0ff17,#d2ff25,#c6ff31,#bdff3a,#b7ff40,#b2ff45,#aeff49,#aeff49,#b0ff46,#b4ff43,#b6ff41,#b6ff41,#b5ff42,#b2ff44,#afff48,#abff4c,#a6ff51,#9fff57,#97ff60,#8dff69,#81ff75,#72ff85,#60ff97,#4bffac,#35ffc1,#24ffd3,#17ffe0,#0ff8e8,#0bf4eb,#0af2ed,#0af2ed,#0ef7e9,#15ffe2,#1fffd8,#29ffce)"></i>
<i style="background:linear-gradient(90deg,#ffb200,#ffb000,#ffad00,#ffa800,#ffa100,#ff9500,#ff8400,#ff7100,#ff5d00,#ff4c00,#ff3e00,#ff3400,#ff2c00,#ff2500,#ff1e00,#ff1600,#f90e00,#f10800,#ea0200,#e70000,#ec0400,#f80d00,#ff1900,#ff2600,#ff3400,#ff4300,#ff5400,#ff6900,#ff8000,#ff9900,#ffb300,#ffcb00,#ffde00,#fcf000,#ecff0a,#dcff1a,#ceff29,#c2ff35,#baff3d,#b3ff43,#aeff49,#aaff4c,#abff4c,#aeff49,#b2ff45,#b4ff42,#b5ff42,#b4ff43,#b2ff45,#afff48,#abff4c,#a5ff51,#9fff58,#97ff60,#8dff6a,#81ff75,#73ff84,#61ff96,#4dffaa,#38ffbf,#27ffd0,#1bffdc,#13fde4,#10f9e7,#0ff8e8,#10f9e7,#13fde4,#1affdc,#24ffd2,#2fffc8)"></i>
<i style="background:linear-gradient(90deg,#ffb200,#ffb000,#ffae00,#ffa900,#ffa200,#ff9500,#ff8300,#ff7000,#ff5b00,#ff4900,#ff3c00,#ff3200,#ff2b00,#ff2400,#ff1d00,#ff1500,#f80d00,#f00700,#ea0200,#e80000,#ed0400,#f90e00,#ff1a00,#ff2700,#ff3500,#ff4500,#ff5700,#ff6b00,#ff8300,#ff9d00,#ffb700,#ffcf00,#ffe300,#f7f500,#e8ff0f,#d8ff1e,#caff2d,#bfff38,#b6ff41,#b0ff47,#abff4c,#a7ff50,#a7ff50,#abff4c,#b0ff47,#b3ff44,#b4ff43,#b3ff44,#b1ff46,#aeff49,#aaff4d,#a5ff52,#9eff59,#96ff61,#8dff6a,#81ff75,#73ff83,#63ff94,#4fffa8,#3affbc,#2affcd,#1effd8,#17ffe0,#14ffe2,#14fee3,#15ffe2,#18ffde,#20ffd7,#2affcd,#34ffc3)"></i>
<i style="background:linear-gradient(90deg,#ffb300,#ffb100,#ffae00,#ffaa00,#ffa200,#ff9500,#ff8300,#ff6e00,#ff5900,#ff4700,#ff3a00,#ff3100,#ff2a00,#ff2300,#ff1c00,#ff1400,#f70d00,#f00600,#ea0200,#e80000,#ee0500,#fa0f00,#ff1b00,#ff2800,#ff3700,#ff4700,#ff5900,#ff6e00,#ff8700,#ffa100,#ffbb00,#ffd400,#ffe800,#f3fa04,#e4ff13,#d4ff22,#c6ff31,#bbff3c,#b2ff45,#acff4b,#a7ff50,#a2ff54,#a4ff53,#a8ff4e,#aeff49,#b1ff45,#b2ff44,#b2ff45,#b0ff47,#adff4a,#a9ff4d,#a4ff52,#9eff59,#96ff61,#8dff6a,#82ff75,#74ff83,#64ff93,#51ffa6,#3dffba,#2dffca,#22ffd5,#1bffdb,#19ffde,#19ffde,#1affdd,#1dffd9,#25ffd2,#2fffc7,#3affbd)"></i>
<i style="background:linear-gradient(90deg,#ffb300,#ffb200,#ffaf00,#ffaa00,#ffa200,#ff9500,#ff8200,#ff6d00,#ff5800,#ff4500,#ff3900,#ff2f00,#ff2800,#ff2200,#ff1b00,#ff1300,#f70c00,#ef0600,#ea0200,#e90100,#ef0600,#fb0f00,#ff1c00,#ff2a00,#ff3900,#ff4900,#ff5b00,#ff7100,#ff8a00,#ffa400,#ffbf00,#ffd900,#ffec00,#effe08,#dfff17,#d0ff27,#c2ff35,#b7ff40,#aeff49,#a8ff4f,#a3ff54,#9eff59,#a0ff57,#a5ff51,#acff4b,#b0ff47,#b1ff46,#b1ff46,#afff47,#adff4a,#a9ff4e,#a4ff53,#9dff59,#96ff61,#8dff6a,#82ff75,#75ff82,#65ff91,#53ffa4,#3fffb8,#2fffc7,#25ffd1,#20ffd7,#1effd9,#1dffd9,#1fffd8,#22ffd4,#2affcd,#35ffc2,#3fffb8)"></i>
<i style="background:linear-gradient(90deg,#ffb400,#ffb200,#ffaf00,#ffaa00,#ffa200,#ff9400,#ff8100,#ff6b00,#ff5600,#ff4300,#ff3700,#ff2e00,#ff2700,#ff2100,#ff1a00,#fe1200,#f60b00,#ef0600,#eb0200,#ea0200,#f00700,#fc1000,#ff1d00,#ff2b00,#ff3a00,#ff4b00,#ff5e00,#ff7400,#ff8d00,#ffa800,#ffc300,#ffdd00,#fbf100,#ebff0c,#dbff1c,#ccff2b,#beff39,#b2ff44,#aaff4d,#a4ff53,#9eff59,#9aff5d,#9cff5b,#a3ff54,#aaff4d,#aeff49,#b0ff47,#b0ff47,#afff48,#acff4b,#a9ff4e,#a4ff53,#9dff59,#96ff61,#8dff6a,#83ff74,#76ff81,#67ff90,#54ffa3,#41ffb6,#32ffc5,#29ffce,#24ffd3,#22ffd5,#22ffd5,#23ffd3,#27ffd0,#2fffc8,#39ffbd,#44ffb3)"></i>
<i style="background:linear-gradient(90deg,#ffb400,#ffb200,#ffaf00,#ffaa00,#ffa200,#ff9300,#ff8000,#ff6a00,#ff5500,#ff4200,#ff3500,#ff2c00,#ff2600,#ff2000,#ff1900,#fd1100,#f50b00,#ef0600,#eb0300,#eb0200,#f10700,#fd1100,#ff1f00,#ff2d00,#ff3c00,#ff4d00,#ff6100,#ff7700,#ff9000,#ffab00,#ffc700,#ffe000,#f7f500,#e7ff10,#d6ff20,#c7ff30,#b9ff3d,#aeff49,#a6ff51,#9fff58,#99ff5e,#95ff62,#98ff5f,#a0ff57,#a7ff4f,#acff4a,#afff48,#afff48,#aeff49,#acff4b,#a8ff4e,#a4ff53,#9dff59,#96ff61,#8dff69,#83ff74,#77ff80,#68ff8f,#56ffa1,#43ffb4,#34ffc3,#2cffcb,#28ffcf,#26ffd0,#26ffd0,#28ffcf,#2cffcb,#33ffc3,#3effb9,#48ffaf)"></i>
<i style="background:linear-gradient(90deg,#ffb500,#ffb300,#ffaf00,#ffaa00,#ffa100,#ff9200,#ff7f00,#ff6900,#ff5300,#ff4100,#ff3400,#ff2b00,#ff2400,#ff1f00,#ff1800,#fc1100,#f50a00,#ef0600,#eb0300,#ec0300,#f20800,#fe1200,#ff2000,#ff2e00,#ff3e00,#ff5000,#ff6300,#ff7a00,#ff9300,#ffae00,#ffca00,#ffe300,#f4f903,#e2ff14,#d2ff25,#c2ff35,#b5ff42,#aaff4d,#a1ff56,#9bff5c,#94ff63,#90ff67,#94ff62,#9dff5a,#a5ff52,#aaff4c,#adff4a,#aeff49,#adff4a,#abff4c,#a8ff4f,#a3ff53,#9dff59,#96ff61,#8eff69,#84ff73,#78ff7f,#69ff8e,#57ffa0,#44ffb3,#36ffc0,#2fffc8,#2cffcb,#2bffcc,#2bffcc,#2cffca,#30ffc7,#38ffbf,#42ffb5,#4cffab)"></i>
<i style="background:linear-gradient(90deg,#ffb500,#ffb300,#ffaf00,#ffa900,#ffa000,#ff9100,#ff7d00,#ff6800,#ff5200,#ff4000,#ff3300,#ff2a00,#ff2300,#ff1e00,#ff1700,#fc1000,#f40a00,#ef0600,#ec0300,#ed0400,#f30900,#ff1300,#ff2100,#ff3000,#ff4000,#ff5200,#ff6600,#ff7d00,#ff9700,#ffb200,#ffcd00,#ffe600,#f1fd06,#deff18,#cdff2a,#bdff39,#b0ff47,#a5ff52,#9dff5a,#96ff61,#8fff68,#8bff6c,#91ff66,#9aff5d,#a2ff54,#a8ff4e,#acff4b,#adff4a,#acff4a,#abff4c,#a8ff4f,#a3ff53,#9eff59,#97ff60,#8eff68,#85ff72,#79ff7e,#6aff8d,#58ff9f,#46ffb1,#38ffbe,#32ffc5,#2fffc7,#2fffc8,#2fffc8,#31ffc6,#34ffc2,#3cffbb,#46ffb1,#4fffa8)"></i>
<i style="background:linear-gradient(90deg,#ffb600,#ffb300,#ffaf00,#ffa900,#ff9f00,#ff9000,#ff7c00,#ff6600,#ff5100,#ff3f00,#ff3200,#ff2900,#ff2200,#ff1c00,#ff1600,#fb1000,#f40a00,#ef0600,#ec0400,#ee0500,#f50a00,#ff1400,#ff2200,#ff3100,#ff4200,#ff5500,#ff6900,#ff8000,#ff9a00,#ffb500,#ffd000,#ffe900,#edff09,#daff1d,#c8ff2e,#b9ff3e,#abff4c,#a1ff56,#98ff5f,#91ff66,#8aff6d,#87ff70,#8dff6a,#97ff60,#a0ff57,#a6ff50,#aaff4d,#acff4b,#acff4b,#aaff4d,#a7ff4f,#a3ff53,#9eff59,#97ff60,#8fff68,#86ff71,#79ff7d,#6bff8c,#59ff9e,#47ffb0,#3affbd,#34ffc2,#33ffc4,#33ffc4,#33ffc3,#35ffc2,#38ffbe,#3fffb7,#49ffae,#52ffa5)"></i>
<i style="background:linear-gradient(90deg,#ffb600,#ffb300,#ffaf00,#ffa800,#ff9e00,#ff8f00,#ff7b00,#ff6500,#ff5000,#ff3e00,#ff3100,#ff2800,#ff2100,#ff1b00,#ff1500,#fa0f00,#f40a00,#ef0600,#ed0400,#ef0600,#f60b00,#ff1600,#ff2300,#ff3300,#ff4400,#ff5700,#ff6d00,#ff8400,#ff9d00,#ffb800,#ffd300,#ffec00,#eaff0d,#d6ff21,#c4ff33,#b4ff43,#a6ff50,#9cff5b,#94ff63,#8dff6a,#86ff71,#83ff74,#8aff6d,#94ff63,#9dff59,#a4ff52,#a9ff4e,#abff4c,#abff4c,#aaff4d,#a7ff50,#a3ff53,#9eff59,#98ff5f,#90ff67,#86ff70,#7bff7c,#6cff8b,#5aff9d,#48ffaf,#3cffbb,#37ffc0,#36ffc1,#36ffc0,#37ffbf,#39ffbe,#3cffbb,#43ffb4,#4cffaa,#55ffa2)"></i>
<i style="background:linear-gradient(90deg,#ffb600,#ffb300,#ffaf00,#ffa800,#ff9d00,#ff8d00,#ff7a00,#ff6400,#ff4f00,#ff3d00,#ff3000,#ff2700,#ff2000,#ff1b00,#ff1500,#fa0f00,#f40a00,#ef0600,#ee0500,#f00600,#f70c00,#ff1700,#ff2400,#ff3500,#ff4600,#ff5a00,#ff7000,#ff8700,#ffa100,#ffbb00,#ffd600,#fcef00,#e7ff10,#d1ff25,#bfff38,#aeff48,#a1ff55,#97ff5f,#8fff67,#88ff6e,#82ff75,#80ff77,#87ff70,#91ff66,#9bff5c,#a2ff54,#a7ff50,#a9ff4d,#aaff4d,#a9ff4e,#a7ff50,#a3ff53,#9eff58,#98ff5f,#91ff66,#87ff6f,#7cff7b,#6dff8a,#5bff9c,#49ffad,#3effb9,#3affbd,#39ffbd,#3affbd,#3bffbb,#3dffba,#40ffb7,#46ffb0,#4fffa8,#57ff9f)"></i>
<i style="background:linear-gradient(90deg,#ffb600,#ffb300,#ffae00,#ffa700,#ff9c00,#ff8c00,#ff7800,#ff6300,#ff4e00,#ff3d00,#ff2f00,#ff2600,#ff2000,#ff1a00,#ff1400,#fa0f00,#f40a00,#f00600,#ee0500,#f10700,#f90e00,#ff1800,#ff2600,#ff3600,#ff4900,#ff5d00,#ff7300,#ff8b00,#ffa400,#ffbf00,#ffd900,#faf200,#e3ff14,#cdff2a,#baff3d,#a9ff4e,#9cff5a,#93ff64,#8bff6c,#84ff72,#7eff78,#7dff79,#85ff72,#8fff68,#99ff5e,#a0ff56,#a5ff51,#a8ff4f,#a9ff4e,#a9ff4e,#a7ff50,#a3ff53,#9fff58,#99ff5e,#92ff65,#88ff6e,#7dff7a,#6eff89,#5cff9b,#4bffac,#3fffb7,#3cffbb,#3dffba,#3effb9,#3fffb8,#40ffb7,#43ffb4,#49ffad,#52ffa5,#5aff9d)"></i>
<i style="background:linear-gradient(90deg,#ffb600,#ffb300,#ffae00,#ffa600,#ff9b00,#ff8b00,#ff7700,#ff6200,#ff4d00,#ff3c00,#ff2f00,#ff2600,#ff1f00,#ff1900,#ff1400,#fa0e00,#f40a00,#f00700,#ef0600,#f20800,#fa0f00,#ff1900,#ff2700,#ff3800,#ff4b00,#ff6000,#ff7600,#ff8e00,#ffa800,#ffc200,#ffdc00,#f6f601,#dfff18,#c8ff2e,#b5ff42,#a4ff53,#97ff5f,#8eff69,#87ff70,#81ff76,#7bff7b,#7bff7c,#82ff75,#8cff6a,#96ff60,#9eff58,#a4ff53,#a7ff50,#a8ff4f,#a8ff4f,#a6ff50,#a3ff54,#9fff58,#99ff5d,#92ff64,#8aff6d,#7eff79,#6fff87,#5eff99,#4cffab,#41ffb6,#3fffb8,#40ffb7,#42ffb5,#43ffb4,#44ffb3,#46ffb0,#4cffaa,#55ffa2,#5cff9b)"></i>
<i style="background:linear-gradient(90deg,#ffb700,#ffb300,#ffad00,#ffa500,#ff9900,#ff8900,#ff7600,#ff6100,#ff4d00,#ff3b00,#ff2e00,#ff2500,#ff1e00,#ff1900,#ff1400,#fa0f00,#f40a00,#f10700,#f00700,#f40a00,#fc1000,#ff1b00,#ff2900,#ff3a00,#ff4e00,#ff6300,#ff7a00,#ff9200,#ffab00,#ffc500,#ffe000,#f3fa04,#dbff1c,#c4ff33,#afff47,#9fff58,#92ff65,#89ff6d,#83ff74,#7dff7a,#79ff7e,#79ff7e,#80ff77,#8aff6d,#94ff63,#9cff5a,#a2ff55,#a6ff51,#a7ff50,#a7ff4f,#a6ff51,#a3ff54,#9fff58,#9aff5d,#93ff63,#8bff6c,#7fff77,#71ff86,#5fff97,#4effa9,#43ffb4,#42ffb5,#44ffb3,#45ffb2,#46ffb0,#47ffb0,#49ffad,#4fffa8,#57ffa0,#5eff98)"></i>
<i style="background:linear-gradient(90deg,#ffb700,#ffb300,#ffad00,#ffa400,#ff9800,#ff8800,#ff7500,#ff6000,#ff4c00,#ff3b00,#ff2e00,#ff2400,#ff1e00,#ff1900,#ff1400,#fa0f00,#f50b00,#f20800,#f20800,#f50b00,#fd1200,#ff1c00,#ff2a00,#ff3c00,#ff5000,#ff6600,#ff7d00,#ff9600,#ffaf00,#ffc900,#ffe400,#efff08,#d6ff20,#bfff38,#aaff4d,#99ff5d,#8dff6a,#85ff72,#7fff78,#7aff7d,#76ff81,#77ff80,#7eff79,#88ff6f,#92ff65,#9aff5c,#a0ff56,#a4ff53,#a6ff51,#a7ff50,#a5ff51,#a3ff54,#9fff57,#9aff5c,#94ff63,#8cff6b,#81ff76,#73ff84,#61ff95,#50ffa7,#45ffb1,#45ffb2,#47ffb0,#49ffae,#4affad,#4affac,#4cffaa,#52ffa5,#5aff9d,#61ff96)"></i>
<i style="background:linear-gradient(90deg,#ffb600,#ffb200,#ffac00,#ffa300,#ff9700,#ff8700,#ff7400,#ff5f00,#ff4b00,#ff3a00,#ff2d00,#ff2400,#ff1e00,#ff1900,#ff1400,#fb0f00,#f60c00,#f30900,#f30900,#f70c00,#ff1300,#ff1e00,#ff2c00,#ff3e00,#ff5300,#ff6900,#ff8100,#ff9900,#ffb200,#ffcc00,#ffe800,#ebff0c,#d2ff25,#baff3d,#a5ff52,#94ff63,#88ff6f,#80ff77,#7bff7c,#77ff80,#74ff83,#75ff82,#7cff7b,#86ff71,#90ff67,#98ff5e,#9fff58,#a3ff54,#a5ff52,#a6ff51,#a5ff52,#a3ff54,#9fff57,#9bff5c,#95ff62,#8dff6a,#82ff74,#75ff82,#64ff93,#52ffa5,#48ffaf,#48ffae,#4bffac,#4dffaa,#4dffa9,#4effa9,#4fffa7,#55ffa2,#5cff9b,#63ff94)"></i>
<i style="background:linear-gradient(90deg,#ffb600,#ffb200,#ffac00,#ffa300,#ff9600,#ff8600,#ff7300,#ff5e00,#ff4a00,#ff3900,#ff2d00,#ff2400,#ff1e00,#ff1900,#ff1400,#fc1000,#f70d00,#f50a00,#f50b00,#f90e00,#ff1500,#ff1f00,#ff2e00,#ff4000,#ff5500,#ff6d00,#ff8500,#ff9d00,#ffb600,#ffd000,#ffeb00,#e7ff10,#cdff2a,#b5ff42,#9fff57,#8eff68,#83ff74,#7cff7b,#77ff7f,#74ff83,#72ff85,#73ff83,#7aff7d,#84ff73,#8eff69,#96ff60,#9dff5a,#a1ff56,#a4ff53,#a5ff52,#a4ff53,#a2ff54,#9fff57,#9bff5b,#96ff61,#8eff69,#84ff73,#77ff80,#66ff91,#55ffa2,#4cffab,#4cffab,#4fffa8,#50ffa7,#51ffa6,#51ffa6,#52ffa5,#57ffa0,#5eff98,#65ff92)"></i>
<i style="background:linear-gradient(90deg,#ffb600,#ffb200,#ffab00,#ffa200,#ff9500,#ff8500,#ff7200,#ff5d00,#ff4a00,#ff3900,#ff2c00,#ff2400,#ff1e00,#ff1900,#ff1500,#fd1100,#f90e00,#f60c00,#f70c00,#fb0f00,#ff1600,#ff2100,#ff3000,#ff4300,#ff5800,#ff7000,#ff8800,#ffa100,#ffb900,#ffd300,#fcef00,#e2ff14,#c8ff2e,#b0ff47,#9aff5d,#89ff6e,#7eff79,#77ff7f,#74ff83,#71ff86,#70ff87,#72ff85,#78ff7f,#82ff75,#8cff6b,#94ff62,#9bff5c,#9fff57,#a2ff54,#a4ff53,#a3ff53,#a2ff55,#9fff57,#9cff5b,#96ff60,#8fff68,#86ff71,#79ff7e,#69ff8e,#59ff9e,#50ffa7,#50ffa7,#52ffa4,#54ffa3,#54ffa3,#54ffa2,#55ffa2,#5aff9d,#61ff96,#67ff90)"></i>
<i style="background:linear-gradient(90deg,#ffb600,#ffb100,#ffab00,#ffa100,#ff9400,#ff8400,#ff7100,#ff5d00,#ff4900,#ff3800,#ff2c00,#ff2400,#ff1e00,#ff1a00,#ff1600,#fe1200,#fb0f00,#f80d00,#f90e00,#fd1100,#ff1800,#ff2300,#ff3200,#ff4500,#ff5b00,#ff7300,#ff8c00,#ffa500,#ffbd00,#ffd700,#f9f400,#deff19,#c4ff33,#aaff4c,#94ff62,#83ff73,#78ff7e,#73ff84,#70ff86,#6eff88,#6dff89,#70ff87,#76ff80,#80ff77,#8aff6d,#92ff64,#99ff5e,#9eff59,#a1ff56,#a2ff54,#a2ff54,#a1ff55,#9fff58,#9cff5b,#97ff60,#90ff66,#87ff6f,#7bff7b,#6cff8b,#5dff9a,#54ffa3,#54ffa3,#56ffa1,#57ff9f,#58ff9f,#58ff9f,#58ff9e,#5dff9a,#63ff94,#68ff8e)"></i>
<i style="background:linear-gradient(90deg,#ffb600,#ffb100,#ffaa00,#ffa000,#ff9300,#ff8300,#ff7000,#ff5c00,#ff4900,#ff3800,#ff2c00,#ff2400,#ff1f00,#ff1b00,#ff1700,#ff1400,#fd1100,#fb0f00,#fb1000,#ff1300,#ff1b00,#ff2500,#ff3400,#ff4700,#ff5e00,#ff7700,#ff9000,#ffa900,#ffc100,#ffdb00,#f5f802,#daff1d,#bfff38,#a5ff51,#8fff68,#7eff79,#73ff84,#6fff88,#6dff8a,#6cff8b,#6bff8c,#6eff89,#74ff82,#7eff79,#88ff6f,#90ff67,#97ff60,#9cff5b,#9fff58,#a1ff56,#a1ff55,#a1ff56,#9fff58,#9cff5b,#97ff5f,#91ff66,#89ff6e,#7eff79,#70ff87,#61ff96,#59ff9e,#58ff9f,#5aff9d,#5bff9c,#5bff9c,#5bff9c,#5cff9b,#60ff97,#65ff92,#6aff8d)"></i>
<i style="background:linear-gradient(90deg,#ffb500,#ffb000,#ffa900,#ff9f00,#ff9200,#ff8200,#ff6f00,#ff5b00,#ff4800,#ff3800,#ff2c00,#ff2400,#ff1f00,#ff1c00,#ff1900,#ff1600,#ff1300,#fd1200,#fe1200,#ff1600,#ff1d00,#ff2800,#ff3700,#ff4a00,#ff6100,#ff7a00,#ff9400,#ffad00,#ffc400,#ffde00,#f1fc05,#d5ff21,#baff3d,#a0ff57,#8aff6d,#78ff7f,#6eff89,#6aff8c,#6aff8d,#69ff8d,#69ff8e,#6cff8b,#72ff84,#7cff7b,#86ff71,#8eff69,#95ff62,#9aff5d,#9dff59,#a0ff57,#a0ff57,#a0ff57,#9eff59,#9cff5b,#98ff5f,#92ff65,#8bff6c,#80ff76,#73ff84,#65ff92,#5dff9a,#5cff9a,#5eff99,#5fff98,#5eff99,#5eff99,#5fff98,#62ff94,#67ff8f,#6cff8b)"></i>
<i style="background:linear-gradient(90deg,#ffb500,#ffb000,#ffa900,#ff9f00,#ff9200,#ff8100,#ff6f00,#ff5b00,#ff4800,#ff3700,#ff2b00,#ff2400,#ff2000,#ff1e00,#ff1b00,#ff1800,#ff1600,#ff1400,#ff1500,#ff1800,#ff2000,#ff2a00,#ff3900,#ff4d00,#ff6400,#ff7e00,#ff9800,#ffb100,#ffc800,#ffe200,#eeff09,#d1ff26,#b5ff42,#9bff5c,#84ff73,#73ff84,#69ff8e,#66ff91,#67ff90,#67ff90,#67ff90,#6aff8d,#70ff86,#7aff7d,#83ff73,#8cff6b,#92ff65,#97ff5f,#9bff5b,#9eff59,#9fff58,#9eff58,#9dff59,#9bff5b,#98ff5f,#93ff64,#8cff6b,#83ff74,#76ff81,#69ff8d,#62ff95,#61ff96,#62ff95,#62ff95,#61ff96,#61ff96,#62ff95,#65ff92,#69ff8d,#6dff89)"></i>
<i style="background:linear-gradient(90deg,#ffb500,#ffaf00,#ffa800,#ff9e00,#ff9100,#ff8100,#ff6e00,#ff5a00,#ff4700,#ff3700,#ff2c00,#ff2400,#ff2100,#ff2000,#ff1d00,#ff1b00,#ff1800,#ff1700,#ff1700,#ff1b00,#ff2200,#ff2d00,#ff3c00,#ff4f00,#ff6700,#ff8200,#ff9c00,#ffb500,#ffcc00,#ffe500,#eaff0c,#cdff2a,#b1ff46,#96ff61,#7fff78,#6dff8a,#64ff93,#62ff95,#64ff93,#65ff92,#65ff92,#68ff8f,#6eff89,#77ff80,#81ff76,#89ff6e,#90ff67,#95ff62,#99ff5d,#9cff5b,#9dff5a,#9dff5a,#9cff5a,#9bff5c,#98ff5f,#93ff64,#8dff6a,#85ff72,#79ff7d,#6dff89,#66ff91,#64ff92,#65ff91,#65ff92,#64ff93,#64ff93,#65ff92,#68ff8f,#6bff8b,#6fff88)"></i>
<i style="background:linear-gradient(90deg,#ffb400,#ffaf00,#ffa700,#ff9d00,#ff9000,#ff8000,#ff6e00,#ff5a00,#ff4700,#ff3700,#ff2c00,#ff2500,#ff2200,#ff2200,#ff2000,#ff1e00,#ff1b00,#ff1a00,#ff1b00,#ff1f00,#ff2600,#ff3000,#ff3f00,#ff5200,#ff6b00,#ff8500,#ffa000,#ffb900,#ffcf00,#ffe800,#e7ff10,#c9ff2e,#acff4b,#91ff65,#7aff7d,#68ff8f,#5fff98,#5eff99,#60ff96,#62ff94,#62ff95,#65ff92,#6cff8b,#75ff82,#7eff78,#86ff70,#8dff6a,#92ff64,#97ff60,#9aff5d,#9bff5c,#9bff5b,#9bff5c,#9aff5d,#97ff5f,#93ff63,#8eff69,#87ff70,#7cff7a,#71ff86,#6aff8d,#68ff8f,#69ff8e,#68ff8f,#67ff90,#66ff90,#67ff8f,#6aff8d,#6dff8a,#70ff86)"></i>
<i style="background:linear-gradient(90deg,#ffb400,#ffae00,#ffa600,#ff9c00,#ff9000,#ff8000,#ff6d00,#ff5a00,#ff4700,#ff3700,#ff2c00,#ff2600,#ff2400,#ff2400,#ff2300,#ff2100,#ff1f00,#ff1e00,#ff1e00,#ff2200,#ff2900,#ff3300,#ff4200,#ff5600,#ff6e00,#ff8900,#ffa400,#ffbd00,#ffd300,#ffec00,#e3ff13,#c4ff32,#a7ff4f,#8dff6a,#75ff82,#63ff94,#5aff9c,#5aff9d,#5dff99,#60ff97,#5fff97,#63ff94,#69ff8d,#72ff85,#7cff7b,#84ff73,#8aff6d,#90ff67,#94ff62,#98ff5f,#99ff5e,#9aff5d,#9aff5d,#99ff5e,#97ff60,#93ff63,#8fff68,#89ff6e,#7fff78,#74ff83,#6dff8a,#6cff8b,#6cff8b,#6bff8c,#69ff8e,#69ff8e,#6aff8d,#6cff8b,#6fff88,#71ff85)"></i>
<i style="background:linear-gradient(90deg,#ffb300,#ffae00,#ffa600,#ff9c00,#ff8f00,#ff7f00,#ff6d00,#ff5a00,#ff4700,#ff3800,#ff2c00,#ff2600,#ff2500,#ff2600,#ff2600,#ff2400,#ff2300,#ff2100,#ff2200,#ff2600,#ff2d00,#ff3700,#ff4500,#ff5900,#ff7100,#ff8d00,#ffa800,#ffc100,#ffd700,#fcef00,#e0ff17,#c0ff37,#a3ff54,#88ff6f,#71ff86,#5eff99,#56ffa1,#56ffa1,#5aff9d,#5dff99,#5dff9a,#60ff96,#67ff90,#6fff88,#79ff7e,#80ff76,#87ff70,#8dff6a,#91ff65,#95ff62,#97ff60,#98ff5f,#98ff5f,#98ff5f,#96ff61,#93ff64,#8fff68,#8aff6d,#81ff76,#77ff80,#70ff86,#6fff88,#6fff88,#6dff8a,#6bff8c,#6bff8c,#6cff8b,#6eff89,#70ff87,#72ff84)"></i>
<i style="background:linear-gradient(90deg,#ffb200,#ffad00,#ffa500,#ff9b00,#ff8e00,#ff7f00,#ff6d00,#ff5a00,#ff4800,#ff3800,#ff2d00,#ff2700,#ff2600,#ff2800,#ff2900,#ff2800,#ff2700,#ff2600,#ff2700,#ff2b00,#ff3100,#ff3a00,#ff4800,#ff5c00,#ff7500,#ff9000,#ffac00,#ffc500,#ffda00,#f9f300,#dcff1a,#bcff3a,#9fff58,#84ff73,#6cff8b,#5aff9d,#52ffa5,#52ffa4,#57ffa0,#5aff9c,#5aff9d,#5eff99,#64ff93,#6cff8b,#75ff81,#7dff7a,#83ff73,#89ff6e,#8eff68,#92ff65,#94ff63,#95ff61,#96ff61,#96ff60,#95ff62,#92ff64,#8fff68,#8bff6c,#83ff74,#79ff7e,#73ff84,#71ff86,#71ff86,#6fff88,#6dff8a,#6cff8a,#6dff89,#6fff88,#71ff86,#73ff84)"></i>
<i style="background:linear-gradient(90deg,#ffb200,#ffac00,#ffa400,#ff9a00,#ff8e00,#ff7e00,#ff6d00,#ff5a00,#ff4900,#ff3900,#ff2e00,#ff2800,#ff2800,#ff2b00,#ff2c00,#ff2c00,#ff2b00,#ff2b00,#ff2c00,#ff2f00,#ff3500,#ff3e00,#ff4c00,#ff6000,#ff7900,#ff9400,#ffb000,#ffc800,#ffde00,#f6f601,#d9ff1e,#b9ff3e,#9bff5c,#80ff77,#68ff8f,#56ffa1,#4effa9,#4effa8,#53ffa4,#57ffa0,#58ff9f,#5bff9c,#61ff96,#69ff8e,#72ff85,#79ff7d,#80ff77,#86ff71,#8bff6c,#8fff68,#91ff66,#93ff64,#94ff63,#94ff62,#93ff63,#92ff65,#8fff68,#8bff6c,#84ff73,#7bff7c,#75ff82,#73ff84,#72ff84,#70ff87,#6eff89,#6eff89,#6fff88,#70ff87,#72ff85,#74ff83)"></i>
<i style="background:linear-gradient(90deg,#ffb100,#ffab00,#ffa400,#ff9a00,#ff8d00,#ff7e00,#ff6d00,#ff5b00,#ff4900,#ff3a00,#ff2f00,#ff2a00,#ff2a00,#ff2d00,#ff2f00,#ff3000,#ff3000,#ff3000,#ff3100,#ff3500,#ff3a00,#ff4300,#ff5000,#ff6400,#ff7d00,#ff9800,#ffb300,#ffcc00,#ffe200,#f2fb05,#d5ff22,#b5ff42,#97ff60,#7cff7b,#64ff93,#53ffa4,#4affac,#4bffac,#4fffa8,#53ffa4,#55ffa2,#58ff9f,#5dff9a,#65ff92,#6eff89,#75ff81,#7cff7b,#82ff75,#87ff70,#8bff6b,#8eff69,#90ff67,#91ff65,#92ff65,#92ff65,#90ff67,#8eff69,#8bff6c,#84ff73,#7cff7b,#77ff80,#74ff82,#73ff83,#71ff86,#6fff88,#6fff88,#6fff87,#71ff86,#72ff84,#74ff83)"></i>
<i style="background:linear-gradient(90deg,#ffb000,#ffaa00,#ffa300,#ff9900,#ff8d00,#ff7e00,#ff6d00,#ff5c00,#ff4a00,#ff3b00,#ff3000,#ff2b00,#ff2c00,#ff3000,#ff3300,#ff3500,#ff3500,#ff3600,#ff3700,#ff3a00,#ff3f00,#ff4700,#ff5500,#ff6800,#ff8100,#ff9b00,#ffb700,#ffcf00,#ffe600,#eeff09,#d1ff26,#b1ff46,#93ff64,#78ff7f,#61ff96,#4fffa8,#47ffb0,#47ffb0,#4bffac,#4fffa7,#52ffa5,#54ffa2,#5aff9d,#61ff96,#6aff8d,#71ff86,#78ff7f,#7eff79,#83ff73,#88ff6f,#8bff6c,#8dff6a,#8fff68,#90ff67,#90ff67,#8fff68,#8dff6a,#8aff6d,#84ff73,#7dff7a,#78ff7f,#75ff81,#74ff83,#72ff85,#70ff87,#6fff88,#70ff87,#71ff86,#73ff84,#74ff83)"></i>
<i style="background:linear-gradient(90deg,#ffaf00,#ffaa00,#ffa200,#ff9800,#ff8c00,#ff7e00,#ff6e00,#ff5c00,#ff4c00,#ff3d00,#ff3200,#ff2d00,#ff2e00,#ff3300,#ff3700,#ff3900,#ff3b00,#ff3c00,#ff3d00,#ff4000,#ff4500,#ff4c00,#ff5900,#ff6c00,#ff8500,#ff9f00,#ffba00,#ffd300,#ffea00,#eaff0d,#cdff2a,#adff49,#8fff68,#74ff83,#5dff9a,#4cffab,#44ffb3,#43ffb4,#47ffb0,#4bffac,#4effa9,#51ffa6,#56ffa1,#5dff9a,#65ff91,#6dff8a,#74ff83,#7aff7d,#7fff78,#84ff73,#87ff70,#8aff6d,#8cff6b,#8dff6a,#8dff69,#8dff6a,#8bff6b,#89ff6e,#83ff73,#7dff7a,#78ff7e,#76ff81,#74ff83,#72ff85,#70ff87,#6fff87,#70ff87,#71ff86,#73ff84,#74ff83)"></i>
<i style="background:linear-gradient(90deg,#ffae00,#ffa900,#ffa100,#ff9800,#ff8c00,#ff7e00,#ff6e00,#ff5d00,#ff4d00,#ff3f00,#ff3400,#ff2f00,#ff3100,#ff3600,#ff3b00,#ff3e00,#ff4100,#ff4200,#ff4400,#ff4600,#ff4b00,#ff5200,#ff5e00,#ff7100,#ff8900,#ffa300,#ffbe00,#ffd700,#fdef00,#e5ff11,#c9ff2e,#a9ff4d,#8bff6b,#70ff86,#5aff9d,#49ffae,#40ffb6,#3fffb7,#43ffb4,#47ffb0,#4affad,#4dffaa,#52ffa5,#59ff9e,#61ff96,#68ff8e,#6fff88,#75ff81,#7bff7c,#80ff77,#83ff73,#86ff71,#89ff6e,#8aff6d,#8bff6c,#8bff6c,#89ff6d,#87ff70,#83ff74,#7dff7a,#78ff7e,#76ff81,#74ff83,#72ff85,#70ff87,#6fff88,#70ff87,#71ff86,#72ff84,#74ff83)"></i>
<i style="background:linear-gradient(90deg,#ffad00,#ffa800,#ffa100,#ff9700,#ff8c00,#ff7e00,#ff6f00,#ff5f00,#ff4f00,#ff4100,#ff3600,#ff3100,#ff3400,#ff3a00,#ff3f00,#ff4400,#ff4700,#ff4900,#ff4b00,#ff4d00,#ff5100,#ff5700,#ff6300,#ff7600,#ff8d00,#ffa800,#ffc200,#ffdb00,#f9f300,#e1ff16,#c4ff32,#a6ff51,#88ff6f,#6dff8a,#56ffa0,#46ffb1,#3dffba,#3cffbb,#3effb9,#42ffb5,#45ffb1,#48ffae,#4dffa9,#54ffa2,#5cff9b,#64ff93,#6aff8c,#71ff86,#77ff80,#7bff7b,#7fff77,#83ff74,#85ff72,#87ff70,#88ff6f,#88ff6f,#87ff6f,#85ff72,#81ff76,#7cff7b,#78ff7f,#76ff81,#74ff83,#72ff85,#70ff87,#6fff88,#6fff88,#70ff87,#72ff85,#73ff84)"></i>
<i style="background:linear-gradient(90deg,#ffac00,#ffa700,#ffa000,#ff9700,#ff8b00,#ff7e00,#ff6f00,#ff6000,#ff5100,#ff4300,#ff3900,#ff3400,#ff3700,#ff3e00,#ff4400,#ff4900,#ff4d00,#ff5000,#ff5200,#ff5400,#ff5700,#ff5d00,#ff6800,#ff7b00,#ff9200,#ffac00,#ffc600,#ffdf00,#f5f802,#dcff1a,#c0ff37,#a2ff55,#84ff73,#69ff8d,#53ffa4,#43ffb4,#3affbd,#38ffbf,#3affbd,#3dffb9,#41ffb6,#44ffb3,#49ffae,#50ffa7,#57ffa0,#5fff98,#66ff91,#6cff8b,#72ff85,#77ff80,#7bff7c,#7fff78,#82ff75,#84ff73,#85ff72,#85ff71,#85ff72,#83ff74,#80ff77,#7bff7c,#77ff7f,#75ff82,#73ff84,#71ff86,#6fff88,#6eff89,#6eff89,#6fff87,#71ff86,#73ff84)"></i>
<i style="background:linear-gradient(90deg,#ffab00,#ffa600,#ff9f00,#ff9600,#ff8b00,#ff7f00,#ff7000,#ff6200,#ff5300,#ff4600,#ff3c00,#ff3700,#ff3b00,#ff4200,#ff4900,#ff4f00,#ff5300,#ff5700,#ff5900,#ff5b00,#ff5e00,#ff6300,#ff6e00,#ff8000,#ff9700,#ffb000,#ffca00,#ffe300,#f1fd06,#d8ff1f,#bcff3b,#9eff59,#80ff76,#66ff91,#50ffa7,#40ffb7,#36ffc0,#34ffc3,#35ffc2,#38ffbe,#3cffbb,#3fffb8,#44ffb3,#4bffac,#52ffa5,#5aff9d,#61ff96,#67ff90,#6dff8a,#72ff84,#77ff80,#7bff7c,#7eff79,#80ff77,#82ff75,#82ff74,#82ff75,#81ff76,#7eff79,#7aff7d,#76ff80,#74ff83,#72ff85,#70ff87,#6eff89,#6dff8a,#6dff8a,#6eff88,#70ff87,#72ff85)"></i>
<i style="background:linear-gradient(90deg,#ffab00,#ffa500,#ff9e00,#ff9600,#ff8b00,#ff7f00,#ff7100,#ff6300,#ff5500,#ff4900,#ff4000,#ff3c00,#ff3f00,#ff4600,#ff4e00,#ff5500,#ff5a00,#ff5e00,#ff6100,#ff6300,#ff6500,#ff6900,#ff7300,#ff8500,#ff9c00,#ffb500,#ffce00,#ffe700,#ecff0a,#d4ff23,#b7ff3f,#9aff5d,#7dff7a,#62ff94,#4dffaa,#3cffba,#33ffc4,#30ffc7,#31ffc6,#33ffc3,#37ffc0,#3affbc,#3fffb7,#46ffb1,#4dffaa,#55ffa2,#5cff9b,#62ff94,#68ff8e,#6eff89,#73ff84,#77ff80,#7aff7d,#7dff7a,#7eff78,#7fff78,#7fff78,#7eff79,#7bff7b,#78ff7f,#75ff82,#73ff84,#70ff86,#6eff88,#6cff8a,#6bff8b,#6cff8b,#6dff8a,#6fff88,#71ff86)"></i>
<i style="background:linear-gradient(90deg,#ffaa00,#ffa500,#ff9e00,#ff9500,#ff8b00,#ff8000,#ff7300,#ff6500,#ff5800,#ff4c00,#ff4400,#ff4000,#ff4400,#ff4b00,#ff5300,#ff5b00,#ff6100,#ff6600,#ff6900,#ff6b00,#ff6c00,#ff7000,#ff7900,#ff8b00,#ffa200,#ffba00,#ffd300,#ffec00,#e8ff0e,#cfff28,#b3ff44,#96ff61,#79ff7e,#5fff98,#49ffad,#39ffbd,#30ffc7,#2cffcb,#2cffcb,#2effc8,#31ffc5,#35ffc2,#3affbd,#41ffb6,#48ffaf,#4fffa7,#57ffa0,#5dff9a,#63ff93,#69ff8e,#6eff89,#72ff84,#76ff81,#79ff7e,#7bff7c,#7cff7b,#7cff7b,#7bff7c,#79ff7e,#76ff81,#73ff83,#71ff86,#6fff88,#6dff8a,#6bff8c,#6aff8d,#6aff8d,#6bff8b,#6eff89,#6fff87)"></i>
<i style="background:linear-gradient(90deg,#ffa900,#ffa400,#ff9d00,#ff9500,#ff8b00,#ff8000,#ff7400,#ff6700,#ff5b00,#ff5000,#ff4800,#ff4500,#ff4800,#ff5000,#ff5900,#ff6100,#ff6800,#ff6e00,#ff7100,#ff7300,#ff7400,#ff7700,#ff8000,#ff9200,#ffa800,#ffbf00,#ffd800,#fbf100,#e4ff13,#cbff2c,#afff48,#92ff65,#75ff82,#5cff9b,#46ffb1,#36ffc1,#2cffcb,#28ffcf,#27ffcf,#29ffcd,#2cffcb,#30ffc7,#35ffc2,#3bffbb,#43ffb4,#4affad,#51ffa5,#58ff9f,#5eff98,#64ff93,#69ff8d,#6eff89,#72ff85,#75ff82,#77ff80,#78ff7f,#79ff7e,#78ff7f,#76ff81,#74ff83,#71ff85,#6fff88,#6dff8a,#6bff8c,#69ff8e,#68ff8f,#68ff8f,#6aff8d,#6cff8b,#6eff89)"></i>
<i style="background:linear-gradient(90deg,#ffa800,#ffa300,#ff9d00,#ff9500,#ff8c00,#ff8100,#ff7500,#ff6900,#ff5e00,#ff5400,#ff4c00,#ff4a00,#ff4e00,#ff5600,#ff5f00,#ff6800,#ff7000,#ff7600,#ff7a00,#ff7b00,#ff7c00,#ff7f00,#ff8700,#ff9800,#ffae00,#ffc500,#ffdd00,#f7f500,#e0ff17,#c6ff31,#aaff4c,#8dff69,#72ff85,#58ff9f,#43ffb4,#33ffc4,#29ffce,#24ffd3,#23ffd4,#24ffd3,#27ffd0,#2bffcc,#30ffc7,#36ffc1,#3dffb9,#45ffb2,#4cffab,#53ffa4,#59ff9d,#5fff97,#65ff92,#69ff8d,#6dff89,#71ff86,#73ff84,#74ff82,#75ff82,#75ff82,#73ff84,#71ff86,#6fff88,#6dff8a,#6bff8c,#69ff8e,#67ff90,#66ff91,#66ff91,#68ff8f,#6aff8d,#6cff8a)"></i>
<i style="background:linear-gradient(90deg,#ffa700,#ffa200,#ff9c00,#ff9500,#ff8c00,#ff8200,#ff7700,#ff6c00,#ff6100,#ff5800,#ff5100,#ff4f00,#ff5300,#ff5b00,#ff6500,#ff6f00,#ff7700,#ff7e00,#ff8200,#ff8400,#ff8500,#ff8700,#ff8e00,#ffa000,#ffb400,#ffcb00,#ffe200,#f3fa04,#dcff1b,#c2ff35,#a6ff51,#89ff6d,#6eff89,#55ffa2,#40ffb7,#30ffc7,#25ffd2,#20ffd7,#1effd9,#1fffd8,#21ffd5,#25ffd1,#2affcc,#31ffc6,#38ffbf,#3fffb7,#47ffb0,#4effa9,#54ffa2,#5aff9c,#60ff97,#65ff92,#69ff8e,#6cff8a,#6fff88,#71ff86,#71ff85,#71ff86,#70ff87,#6eff88,#6dff8a,#6bff8c,#69ff8e,#67ff90,#65ff92,#63ff93,#64ff93,#65ff91,#68ff8e,#6bff8c)"></i>
<i style="background:linear-gradient(90deg,#ffa600,#ffa100,#ff9c00,#ff9500,#ff8c00,#ff8300,#ff7800,#ff6e00,#ff6400,#ff5c00,#ff5600,#ff5400,#ff5800,#ff6100,#ff6b00,#ff7500,#ff7f00,#ff8600,#ff8b00,#ff8d00,#ff8d00,#ff8f00,#ff9600,#ffa700,#ffbb00,#ffd000,#ffe700,#efff08,#d7ff20,#bdff39,#a2ff55,#85ff71,#6aff8d,#51ffa5,#3cffba,#2cffcb,#21ffd5,#1cffdb,#19ffdd,#1affdd,#1cffdb,#20ffd7,#25ffd2,#2bffcb,#33ffc4,#3affbd,#42ffb5,#49ffae,#4fffa8,#55ffa1,#5bff9c,#60ff96,#65ff92,#68ff8f,#6bff8c,#6dff8a,#6dff89,#6dff89,#6dff8a,#6bff8b,#6aff8d,#68ff8f,#66ff91,#64ff93,#62ff95,#61ff96,#61ff96,#63ff94,#66ff91,#69ff8e)"></i>
<i style="background:linear-gradient(90deg,#ffa500,#ffa100,#ff9b00,#ff9400,#ff8d00,#ff8400,#ff7a00,#ff7100,#ff6800,#ff6000,#ff5a00,#ff5900,#ff5e00,#ff6700,#ff7100,#ff7c00,#ff8600,#ff8f00,#ff9400,#ff9500,#ff9600,#ff9900,#ff9f00,#ffb000,#ffc200,#ffd600,#ffec00,#eaff0c,#d3ff24,#b9ff3e,#9dff59,#81ff76,#66ff90,#4effa9,#39ffbe,#29ffce,#1effd9,#18ffdf,#15ffe2,#15ffe2,#17ffe0,#1affdc,#20ffd7,#26ffd1,#2dffca,#35ffc2,#3cffba,#44ffb3,#4affad,#50ffa6,#56ffa0,#5cff9b,#60ff97,#64ff93,#66ff90,#68ff8e,#6aff8d,#6aff8d,#69ff8e,#68ff8e,#67ff90,#65ff91,#64ff93,#61ff95,#60ff97,#5eff99,#5eff99,#60ff96,#64ff93,#67ff90)"></i>
<i style="background:linear-gradient(90deg,#ffa400,#ffa000,#ff9b00,#ff9400,#ff8d00,#ff8500,#ff7c00,#ff7300,#ff6b00,#ff6400,#ff5f00,#ff5f00,#ff6300,#ff6d00,#ff7800,#ff8300,#ff8e00,#ff9700,#ff9c00,#ff9e00,#ff9f00,#ffa200,#ffa900,#ffb900,#ffc900,#ffdc00,#fbf100,#e6ff11,#cfff28,#b4ff42,#99ff5e,#7dff7a,#63ff94,#4affac,#36ffc1,#26ffd1,#1affdd,#14fee3,#10fae6,#10f9e7,#11fbe5,#15ffe2,#1affdd,#21ffd6,#28ffcf,#2fffc7,#37ffc0,#3effb8,#45ffb2,#4bffab,#52ffa5,#57ffa0,#5cff9b,#5fff98,#62ff95,#64ff92,#65ff91,#66ff91,#66ff91,#65ff92,#64ff93,#63ff94,#61ff96,#5fff98,#5dff9a,#5bff9b,#5bff9c,#5eff99,#61ff95,#65ff92)"></i>
<i style="background:linear-gradient(90deg,#ffa400,#ff9f00,#ff9a00,#ff9400,#ff8e00,#ff8600,#ff7e00,#ff7600,#ff6f00,#ff6900,#ff6400,#ff6400,#ff6900,#ff7200,#ff7e00,#ff8a00,#ff9500,#ff9f00,#ffa500,#ffa700,#ffa800,#ffac00,#ffb500,#ffc200,#ffd100,#ffe200,#f6f701,#e2ff15,#caff2d,#b0ff47,#95ff62,#79ff7e,#5fff98,#47ffb0,#32ffc4,#22ffd5,#17ffe0,#10f9e7,#0cf4eb,#0bf3ec,#0cf4eb,#10f9e7,#15ffe2,#1bffdc,#22ffd4,#2affcd,#32ffc5,#39ffbd,#40ffb7,#47ffb0,#4dffaa,#53ffa4,#57ffa0,#5bff9c,#5eff99,#60ff97,#61ff95,#62ff95,#62ff95,#62ff95,#61ff96,#60ff97,#5eff99,#5cff9b,#5aff9d,#58ff9e,#58ff9f,#5bff9c,#5fff98,#62ff94)"></i>
<i style="background:linear-gradient(90deg,#ffa300,#ff9f00,#ff9a00,#ff9400,#ff8e00,#ff8700,#ff8000,#ff7900,#ff7200,#ff6d00,#ff6900,#ff6900,#ff6e00,#ff7800,#ff8400,#ff9000,#ff9c00,#ffa700,#ffad00,#ffaf00,#ffb100,#ffb600,#ffc000,#ffcb00,#ffd800,#ffe800,#f1fc05,#ddff19,#c6ff31,#acff4b,#90ff67,#75ff82,#5bff9c,#44ffb3,#2fffc8,#1fffd8,#13fde4,#0cf4eb,#07efef,#06edf1,#07eef0,#0af2ec,#10f9e7,#16ffe1,#1dffda,#25ffd2,#2dffca,#34ffc2,#3bffbc,#42ffb5,#48ffae,#4effa9,#53ffa4,#56ffa1,#59ff9d,#5cff9b,#5dff9a,#5eff99,#5eff99,#5eff99,#5eff99,#5dff9a,#5bff9c,#59ff9e,#57ffa0,#55ffa2,#55ffa2,#58ff9f,#5cff9b,#60ff97)"></i>
<i style="background:linear-gradient(90deg,#ffa200,#ff9e00,#ff9a00,#ff9400,#ff8f00,#ff8800,#ff8200,#ff7c00,#ff7600,#ff7200,#ff6e00,#ff6f00,#ff7400,#ff7e00,#ff8a00,#ff9700,#ffa300,#ffaf00,#ffb600,#ffb700,#ffb900,#ffbf00,#ffca00,#ffd400,#ffdf00,#fdee00,#edff0a,#d9ff1e,#c1ff36,#a7ff50,#8cff6b,#71ff86,#57ff9f,#40ffb7,#2cffcb,#1cffdb,#10f9e7,#08efef,#03e9f4,#01e7f6,#02e7f5,#05ecf2,#0af2ec,#11fae6,#18ffdf,#20ffd7,#28ffcf,#2fffc7,#36ffc1,#3dffba,#44ffb3,#4affad,#4effa9,#52ffa5,#55ffa2,#57ff9f,#59ff9e,#5aff9d,#5aff9d,#5bff9c,#5aff9c,#59ff9d,#58ff9f,#56ffa1,#54ffa3,#52ffa5,#52ffa5,#54ffa2,#59ff9e,#5dff9a)"></i>
<i style="background:linear-gradient(90deg,#ffa100,#ff9e00,#ff9900,#ff9400,#ff8f00,#ff8a00,#ff8400,#ff7e00,#ff7a00,#ff7600,#ff7300,#ff7400,#ff7900,#ff8400,#ff9000,#ff9d00,#ffaa00,#ffb600,#ffbd00,#ffbf00,#ffc200,#ffc800,#ffd400,#ffdc00,#ffe600,#f8f400,#e8ff0f,#d4ff22,#bcff3a,#a2ff54,#88ff6f,#6dff8a,#54ffa3,#3dffba,#29ffce,#18ffdf,#0cf4eb,#04eaf3,#00e4f8,#00e1fb,#00e1fa,#00e5f7,#05ecf2,#0bf4eb,#13fde4,#1bffdc,#23ffd4,#2bffcc,#32ffc5,#38ffbe,#3fffb7,#45ffb2,#4affad,#4dffa9,#51ffa6,#53ffa4,#55ffa2,#55ffa1,#56ffa1,#57ffa0,#57ffa0,#56ffa1,#54ffa2,#53ffa4,#51ffa6,#4fffa8,#4effa8,#51ffa6,#56ffa1,#5aff9c)"></i>
<i style="background:linear-gradient(90deg,#ffa100,#ff9d00,#ff9900,#ff9500,#ff9000,#ff8b00,#ff8600,#ff8100,#ff7e00,#ff7b00,#ff7800,#ff7900,#ff7f00,#ff8900,#ff9600,#ffa400,#ffb100,#ffbd00,#ffc500,#ffc700,#ffc900,#ffd000,#ffdc00,#ffe300,#ffec00,#f3fa04,#e3ff14,#d0ff27,#b8ff3f,#9eff59,#83ff74,#69ff8e,#50ffa7,#39ffbe,#25ffd1,#15ffe2,#09f0ee,#00e6f7,#00dffc,#00dbff,#00dbff,#00dffc,#00e6f7,#06edf0,#0ef6e9,#16ffe1,#1effd8,#26ffd1,#2dffca,#34ffc3,#3bffbc,#41ffb6,#45ffb1,#49ffae,#4cffab,#4fffa8,#50ffa6,#51ffa5,#52ffa5,#53ffa4,#53ffa3,#53ffa4,#51ffa6,#4fffa7,#4dffa9,#4cffab,#4bffac,#4effa9,#53ffa4,#57ffa0)"></i>
<i style="background:linear-gradient(90deg,#ffa000,#ff9d00,#ff9900,#ff9500,#ff9000,#ff8c00,#ff8800,#ff8400,#ff8100,#ff7f00,#ff7d00,#ff7e00,#ff8400,#ff8f00,#ff9c00,#ffaa00,#ffb700,#ffc400,#ffcb00,#ffce00,#ffd000,#ffd700,#ffe300,#ffea00,#f9f300,#edff09,#deff19,#cbff2c,#b3ff44,#99ff5d,#7fff78,#65ff92,#4cffab,#36ffc1,#22ffd5,#12fce5,#05ecf1,#00e1fa,#00daff,#00d6ff,#00d5ff,#00d9ff,#00dffc,#01e7f5,#09f0ee,#11fbe6,#1affdd,#22ffd5,#29ffce,#30ffc7,#37ffc0,#3dffba,#41ffb6,#45ffb2,#48ffaf,#4affac,#4cffab,#4dffaa,#4effa8,#4fffa7,#50ffa7,#4fffa8,#4effa9,#4cffab,#4affad,#48ffae,#48ffaf,#4bffac,#50ffa7,#54ffa3)"></i>
<i style="background:linear-gradient(90deg,#ff9f00,#ff9c00,#ff9900,#ff9500,#ff9100,#ff8d00,#ff8a00,#ff8700,#ff8500,#ff8300,#ff8200,#ff8400,#ff8900,#ff9400,#ffa200,#ffb000,#ffbe00,#ffca00,#ffd100,#ffd400,#ffd700,#ffde00,#ffe800,#fcef00,#f4f903,#e8ff0e,#d9ff1e,#c6ff31,#aeff49,#95ff62,#7aff7c,#61ff96,#49ffae,#33ffc4,#1fffd8,#0ff8e8,#02e8f5,#00ddfe,#00d5ff,#00d1ff,#00d0ff,#00d3ff,#00d9ff,#00e1fa,#04eaf3,#0cf5ea,#15ffe2,#1dffda,#25ffd2,#2cffcb,#33ffc4,#38ffbe,#3dffba,#40ffb6,#43ffb3,#46ffb1,#48ffaf,#49ffae,#4affac,#4cffab,#4cffab,#4cffab,#4bffac,#49ffae,#47ffb0,#45ffb2,#45ffb2,#47ffb0,#4cffab,#50ffa7)"></i>
<i style="background:linear-gradient(90deg,#ff9f00,#ff9c00,#ff9800,#ff9500,#ff9100,#ff8e00,#ff8c00,#ff8a00,#ff8900,#ff8800,#ff8700,#ff8900,#ff8e00,#ff9900,#ffa800,#ffb600,#ffc400,#ffd000,#ffd700,#ffda00,#ffdd00,#ffe300,#ffec00,#f8f400,#effe07,#e3ff14,#d4ff23,#c0ff36,#a9ff4e,#90ff67,#76ff81,#5dff9a,#45ffb2,#2fffc8,#1cffdb,#0cf4eb,#00e4f8,#00d8ff,#00d0ff,#00cbff,#00cbff,#00ceff,#00d4ff,#00dbff,#00e5f7,#08efef,#11fae6,#19ffde,#21ffd6,#28ffcf,#2fffc8,#34ffc3,#39ffbe,#3cffbb,#3fffb8,#42ffb5,#43ffb3,#45ffb2,#46ffb0,#48ffaf,#48ffae,#48ffae,#47ffb0,#45ffb1,#43ffb3,#42ffb5,#41ffb5,#44ffb3,#48ffae,#4cffab)"></i>
<i style="background:linear-gradient(90deg,#ff9e00,#ff9b00,#ff9800,#ff9500,#ff9200,#ff9000,#ff8e00,#ff8d00,#ff8c00,#ff8c00,#ff8d00,#ff8f00,#ff9400,#ff9f00,#ffad00,#ffbc00,#ffc900,#ffd500,#ffdd00,#ffe000,#ffe300,#ffe800,#fcf000,#f4f903,#ebff0c,#deff19,#cfff28,#bbff3c,#a4ff53,#8bff6b,#72ff85,#59ff9e,#41ffb5,#2cffcb,#19ffde,#09f0ee,#00e0fb,#00d4ff,#00ccff,#00c6ff,#00c5ff,#00c8ff,#00ceff,#00d6ff,#00dffc,#03eaf3,#0cf5ea,#15ffe2,#1dffda,#24ffd3,#2bffcc,#30ffc7,#35ffc2,#38ffbf,#3bffbc,#3dffba,#3fffb8,#41ffb6,#42ffb5,#44ffb3,#45ffb2,#45ffb2,#44ffb3,#42ffb5,#40ffb7,#3effb9,#3effb9,#40ffb6,#45ffb2,#48ffaf)"></i>
<i style="background:linear-gradient(90deg,#ff9d00,#ff9b00,#ff9800,#ff9500,#ff9300,#ff9100,#ff9000,#ff9000,#ff9000,#ff9100,#ff9200,#ff9400,#ff9a00,#ffa500,#ffb300,#ffc200,#ffcf00,#ffdb00,#ffe200,#ffe600,#ffe900,#feed00,#f9f300,#f0fd06,#e6ff11,#d9ff1e,#c9ff2d,#b6ff41,#9fff58,#87ff70,#6dff89,#55ffa2,#3effb9,#29ffce,#16ffe1,#06edf1,#00dcfe,#00d0ff,#00c7ff,#00c2ff,#00c0ff,#00c3ff,#00c8ff,#00d0ff,#00d9ff,#00e4f8,#08f0ef,#11fae6,#19ffde,#20ffd7,#27ffd0,#2cffcb,#30ffc6,#34ffc3,#36ffc0,#39ffbe,#3bffbc,#3cffba,#3effb9,#40ffb7,#41ffb6,#41ffb6,#40ffb7,#3fffb8,#3dffba,#3bffbc,#3affbc,#3dffba,#41ffb6,#44ffb3)"></i>
<i style="background:linear-gradient(90deg,#ff9d00,#ff9a00,#ff9800,#ff9500,#ff9300,#ff9200,#ff9200,#ff9300,#ff9400,#ff9500,#ff9700,#ff9a00,#ffa000,#ffab00,#ffb900,#ffc700,#ffd500,#ffe000,#ffe700,#ffeb00,#fdee00,#faf200,#f6f701,#edff0a,#e2ff15,#d4ff23,#c4ff33,#b1ff46,#9aff5d,#82ff75,#69ff8e,#51ffa6,#3affbd,#25ffd1,#13fde4,#03e9f4,#00d9ff,#00ccff,#00c3ff,#00bdff,#00bbff,#00bdff,#00c3ff,#00caff,#00d4ff,#00dffc,#04ebf3,#0df6ea,#15ffe2,#1dffda,#23ffd4,#28ffce,#2cffca,#2fffc7,#32ffc5,#34ffc2,#36ffc0,#38ffbf,#3affbd,#3cffbb,#3dffba,#3dffb9,#3dffba,#3bffbc,#39ffbe,#37ffc0,#37ffc0,#39ffbe,#3dffba,#40ffb7)"></i>
<i style="background:linear-gradient(90deg,#ff9c00,#ff9a00,#ff9700,#ff9500,#ff9400,#ff9400,#ff9400,#ff9600,#ff9800,#ff9a00,#ff9c00,#ffa000,#ffa600,#ffb100,#ffbf00,#ffcd00,#ffda00,#ffe500,#ffed00,#fbf100,#f9f300,#f6f601,#f2fb05,#e9ff0e,#ddff1a,#cfff28,#bfff38,#abff4c,#95ff62,#7dff7a,#65ff92,#4dffaa,#37ffc0,#22ffd5,#10f9e7,#00e5f7,#00d5ff,#00c8ff,#00beff,#00b8ff,#00b6ff,#00b8ff,#00bdff,#00c5ff,#00cfff,#00daff,#00e5f7,#09f1ee,#12fbe5,#19ffde,#1fffd7,#24ffd2,#28ffcf,#2bffcc,#2effc9,#30ffc7,#32ffc5,#34ffc3,#36ffc1,#38ffbf,#39ffbe,#3affbd,#39ffbe,#37ffbf,#35ffc1,#34ffc3,#33ffc4,#35ffc2,#38ffbe,#3cffbb)"></i>
<i style="background:linear-gradient(90deg,#ff9c00,#ff9a00,#ff9700,#ff9500,#ff9400,#ff9500,#ff9600,#ff9900,#ff9c00,#ff9f00,#ffa200,#ffa600,#ffac00,#ffb700,#ffc500,#ffd300,#ffe000,#ffeb00,#faf200,#f7f600,#f5f802,#f2fb05,#eeff08,#e5ff12,#d8ff1e,#caff2d,#b9ff3d,#a6ff51,#90ff67,#78ff7e,#60ff96,#49ffae,#33ffc4,#1fffd8,#0df5ea,#00e2fa,#00d1ff,#00c4ff,#00baff,#00b4ff,#00b1ff,#00b3ff,#00b8ff,#00c0ff,#00c9ff,#00d5ff,#00e1fb,#05ecf1,#0ef7e9,#16ffe1,#1cffdb,#21ffd6,#24ffd3,#27ffd0,#29ffcd,#2bffcb,#2dffc9,#2fffc7,#31ffc5,#34ffc3,#35ffc2,#36ffc1,#35ffc1,#34ffc3,#32ffc5,#30ffc7,#2fffc7,#31ffc6,#34ffc3,#37ffc0)"></i>
<i style="background:linear-gradient(90deg,#ff9b00,#ff9900,#ff9700,#ff9500,#ff9500,#ff9600,#ff9900,#ff9c00,#ffa000,#ffa400,#ffa700,#ffac00,#ffb300,#ffbe00,#ffcb00,#ffd900,#ffe600,#fcf000,#f6f701,#f2fb05,#f0fd07,#eeff09,#eaff0d,#e1ff16,#d4ff23,#c5ff32,#b4ff43,#a1ff56,#8bff6c,#74ff83,#5cff9b,#45ffb2,#2fffc7,#1cffdb,#0af2ed,#00defc,#00ceff,#00c0ff,#00b6ff,#00afff,#00acff,#00aeff,#00b3ff,#00baff,#00c4ff,#00d0ff,#00dcff,#02e8f5,#0bf3ec,#12fce5,#18ffdf,#1dffda,#20ffd7,#23ffd4,#25ffd2,#27ffd0,#29ffce,#2bffcc,#2dffca,#2fffc7,#31ffc6,#32ffc5,#32ffc5,#30ffc7,#2effc9,#2cffcb,#2bffcb,#2dffca,#30ffc7,#33ffc4)"></i>
<i style="background:linear-gradient(90deg,#ff9b00,#ff9900,#ff9700,#ff9500,#ff9600,#ff9700,#ff9b00,#ff9f00,#ffa400,#ffa900,#ffad00,#ffb200,#ffba00,#ffc400,#ffd100,#ffdf00,#ffeb00,#f7f500,#f1fc05,#eeff09,#ecff0b,#eaff0d,#e5ff11,#dcff1b,#cfff28,#c0ff37,#afff48,#9bff5b,#86ff71,#6fff88,#58ff9f,#41ffb6,#2cffcb,#19ffde,#07eef0,#00dbff,#00caff,#00bcff,#00b2ff,#00aaff,#00a7ff,#00a9ff,#00adff,#00b5ff,#00bfff,#00caff,#00d7ff,#00e3f9,#07eef0,#0ff8e8,#14ffe2,#19ffde,#1cffdb,#1effd8,#20ffd6,#22ffd4,#24ffd3,#26ffd1,#29ffce,#2bffcc,#2dffca,#2effc9,#2effc9,#2cffcb,#2affcd,#28ffcf,#27ffd0,#29ffce,#2bffcc,#2effc9)"></i>
<i style="background:linear-gradient(90deg,#ff9a00,#ff9800,#ff9600,#ff9500,#ff9600,#ff9900,#ff9d00,#ffa300,#ffa800,#ffae00,#ffb300,#ffb900,#ffc000,#ffcb00,#ffd800,#ffe500,#fbf100,#f3fa04,#edff0a,#e9ff0d,#e7ff10,#e5ff12,#e1ff16,#d7ff1f,#caff2d,#bbff3c,#a9ff4d,#96ff61,#81ff76,#6aff8d,#53ffa3,#3dffba,#28ffce,#15ffe1,#04ebf3,#00d8ff,#00c7ff,#00b9ff,#00adff,#00a6ff,#00a3ff,#00a4ff,#00a8ff,#00b0ff,#00baff,#00c5ff,#00d2ff,#00dffc,#04eaf3,#0bf3ec,#11fae6,#15ffe2,#18ffdf,#1affdd,#1cffdb,#1effd9,#1fffd7,#22ffd5,#24ffd3,#27ffd0,#29ffce,#2affcd,#2affcd,#28ffcf,#26ffd1,#24ffd3,#23ffd4,#24ffd3,#27ffd0,#29ffcd)"></i>
<i style="background:linear-gradient(90deg,#ff9a00,#ff9800,#ff9600,#ff9600,#ff9700,#ff9a00,#ffa000,#ffa600,#ffad00,#ffb300,#ffb900,#ffbf00,#ffc700,#ffd200,#ffde00,#ffeb00,#f6f601,#eeff09,#e8ff0f,#e5ff12,#e3ff14,#e0ff16,#dcff1b,#d2ff24,#c5ff32,#b6ff41,#a4ff53,#91ff66,#7cff7b,#66ff91,#4fffa8,#39ffbe,#25ffd2,#12fce5,#01e7f5,#00d4ff,#00c3ff,#00b5ff,#00a9ff,#00a2ff,#009eff,#009fff,#00a3ff,#00abff,#00b5ff,#00c0ff,#00cdff,#00daff,#00e6f7,#08efef,#0df6ea,#11fbe6,#14fee3,#16ffe1,#17ffdf,#19ffde,#1bffdc,#1dffda,#1fffd7,#22ffd5,#25ffd2,#26ffd1,#26ffd1,#24ffd3,#22ffd5,#1fffd7,#1effd8,#1fffd7,#22ffd5,#25ffd2)"></i>
<i style="background:linear-gradient(90deg,#ff9900,#ff9700,#ff9600,#ff9600,#ff9700,#ff9c00,#ffa200,#ffa900,#ffb100,#ffb800,#ffbf00,#ffc600,#ffce00,#ffd900,#ffe500,#fbf100,#f1fc06,#e9ff0e,#e4ff13,#e0ff17,#deff19,#dcff1b,#d7ff20,#cdff29,#c0ff37,#b0ff46,#9fff58,#8cff6b,#77ff80,#61ff96,#4bffac,#35ffc1,#21ffd5,#0ff8e8,#00e4f8,#00d1ff,#00c0ff,#00b1ff,#00a5ff,#009dff,#0099ff,#009aff,#009eff,#00a5ff,#00b0ff,#00bbff,#00c9ff,#00d6ff,#00e1fa,#04ebf3,#0af1ed,#0df6ea,#0ff9e7,#11fbe6,#13fde4,#14fee3,#16ffe1,#18ffdf,#1bffdc,#1effd9,#20ffd7,#22ffd5,#22ffd5,#20ffd7,#1dffda,#1bffdc,#1affdd,#1bffdc,#1dffda,#20ffd7)"></i>
<i style="background:linear-gradient(90deg,#ff9900,#ff9700,#ff9600,#ff9600,#ff9800,#ff9d00,#ffa400,#ffad00,#ffb500,#ffbd00,#ffc500,#ffcc00,#ffd500,#ffe000,#ffeb00,#f5f702,#ecff0b,#e4ff12,#dfff18,#dbff1b,#d9ff1e,#d7ff20,#d2ff25,#c8ff2f,#bbff3c,#abff4c,#99ff5d,#86ff71,#72ff85,#5cff9a,#47ffb0,#32ffc5,#1effd9,#0cf5eb,#00e0fb,#00ceff,#00bdff,#00aeff,#00a1ff,#0099ff,#0095ff,#0095ff,#0099ff,#00a0ff,#00aaff,#00b7ff,#00c4ff,#00d1ff,#00ddfe,#01e6f6,#06edf1,#09f1ee,#0bf3ec,#0df5ea,#0ef7e9,#0ff8e8,#11fae6,#13fde4,#16ffe1,#19ffde,#1cffdb,#1effd9,#1effd9,#1cffdb,#19ffde,#16ffe1,#15ffe2,#16ffe1,#18ffdf,#1bffdc)"></i>
<i style="background:linear-gradient(90deg,#ff9800,#ff9600,#ff9500,#ff9600,#ff9900,#ff9f00,#ffa700,#ffb000,#ffba00,#ffc300,#ffcb00,#ffd300,#ffdc00,#ffe600,#faf200,#f0fe07,#e7ff10,#dfff17,#daff1d,#d7ff20,#d4ff23,#d2ff25,#ccff2a,#c3ff34,#b5ff41,#a6ff51,#94ff63,#81ff76,#6dff8a,#58ff9f,#42ffb4,#2effc9,#1bffdc,#09f1ee,#00ddfe,#00caff,#00b9ff,#00aaff,#009dff,#0094ff,#0090ff,#0090ff,#0094ff,#009bff,#00a5ff,#00b2ff,#00bfff,#00cdff,#00d9ff,#00e2fa,#02e8f5,#05ecf2,#07eef0,#08efef,#09f1ee,#0af2ec,#0cf4eb,#0ef7e9,#11fae6,#14fee3,#17ffe0,#19ffde,#19ffdd,#17ffdf,#14ffe3,#11fbe5,#10f9e7,#11fae6,#13fde4,#16ffe1)"></i>
<i style="background:linear-gradient(90deg,#ff9700,#ff9600,#ff9500,#ff9600,#ff9900,#ffa000,#ffa900,#ffb400,#ffbe00,#ffc800,#ffd100,#ffd900,#ffe300,#feed00,#f4f903,#eaff0d,#e1ff15,#daff1c,#d5ff22,#d2ff25,#cfff28,#ccff2b,#c7ff30,#bdff39,#b0ff47,#a0ff57,#8fff68,#7cff7b,#68ff8f,#53ffa3,#3effb8,#2affcd,#17ffe0,#06edf1,#00d9ff,#00c7ff,#00b6ff,#00a6ff,#0099ff,#0090ff,#008bff,#008bff,#008fff,#0096ff,#00a0ff,#00adff,#00baff,#00c8ff,#00d4ff,#00defd,#00e3f9,#01e6f6,#02e8f5,#03eaf3,#04ebf3,#05ecf1,#07eef0,#09f1ee,#0cf4eb,#0ff8e8,#12fce5,#15ffe2,#15ffe2,#13fde4,#0ff9e7,#0df5ea,#0bf3ec,#0cf4eb,#0ef7e9,#11fae6)"></i>
<i style="background:linear-gradient(90deg,#ff9700,#ff9500,#ff9400,#ff9600,#ff9a00,#ffa200,#ffac00,#ffb800,#ffc300,#ffce00,#ffd700,#ffe000,#ffea00,#f8f400,#eeff09,#e5ff12,#dcff1b,#d5ff22,#d0ff27,#ccff2a,#caff2d,#c7ff30,#c2ff35,#b8ff3f,#aaff4c,#9bff5c,#89ff6e,#77ff80,#63ff94,#4fffa8,#3affbc,#26ffd0,#14fee3,#03e9f4,#00d6ff,#00c4ff,#00b3ff,#00a3ff,#0095ff,#008cff,#0087ff,#0086ff,#008aff,#0091ff,#009bff,#00a7ff,#00b5ff,#00c3ff,#00d0ff,#00d9ff,#00defd,#00e1fa,#00e3f9,#00e4f8,#00e5f8,#00e6f7,#02e7f5,#04eaf3,#06eef0,#0af2ed,#0df6e9,#10f9e7,#10fae6,#0ef7e9,#0bf3ec,#07efef,#06edf1,#06edf0,#09f0ee,#0cf4eb)"></i>
<i style="background:linear-gradient(90deg,#ff9600,#ff9400,#ff9400,#ff9600,#ff9b00,#ffa400,#ffaf00,#ffbb00,#ffc800,#ffd300,#ffdd00,#ffe700,#fbf100,#f2fb05,#e8ff0f,#dfff18,#d7ff20,#d0ff27,#cbff2c,#c7ff30,#c4ff33,#c1ff36,#bcff3b,#b2ff45,#a5ff52,#95ff62,#84ff73,#72ff85,#5fff98,#4bffac,#36ffc0,#23ffd4,#11fae6,#00e6f7,#00d3ff,#00c1ff,#00afff,#009fff,#0091ff,#0087ff,#0082ff,#0082ff,#0085ff,#008cff,#0096ff,#00a2ff,#00b0ff,#00beff,#00cbff,#00d4ff,#00d9ff,#00dcff,#00ddfe,#00defd,#00defd,#00dffc,#00e1fb,#00e3f9,#01e7f6,#05ebf2,#08f0ef,#0bf3ec,#0cf4eb,#09f1ee,#06ecf1,#02e8f5,#00e6f6,#01e7f6,#04eaf3,#06edf0)"></i>
<i style="background:linear-gradient(90deg,#ff9500,#ff9300,#ff9300,#ff9600,#ff9c00,#ffa500,#ffb200,#ffbf00,#ffcd00,#ffd900,#ffe300,#feed00,#f5f702,#ecff0b,#e2ff15,#d9ff1e,#d1ff26,#caff2c,#c5ff31,#c2ff35,#bfff38,#bcff3b,#b6ff41,#acff4a,#9fff58,#8fff67,#7eff78,#6dff8a,#5aff9d,#47ffb0,#33ffc4,#1fffd7,#0ef6e9,#00e2f9,#00cfff,#00bdff,#00acff,#009bff,#008dff,#0083ff,#007eff,#007dff,#0080ff,#0087ff,#0091ff,#009dff,#00abff,#00b9ff,#00c6ff,#00d0ff,#00d4ff,#00d6ff,#00d7ff,#00d7ff,#00d8ff,#00d9ff,#00daff,#00ddfe,#00e0fb,#00e5f7,#03e9f4,#06edf1,#07eef0,#04ebf3,#00e6f6,#00e2fa,#00dffc,#00e0fb,#00e3f9,#01e7f6)"></i>
<i style="background:linear-gradient(90deg,#ff9400,#ff9200,#ff9300,#ff9600,#ff9d00,#ffa700,#ffb500,#ffc300,#ffd100,#ffde00,#ffea00,#f8f400,#effe08,#e6ff11,#dcff1b,#d3ff24,#cbff2b,#c5ff32,#c0ff37,#bcff3b,#b9ff3e,#b6ff41,#b0ff46,#a6ff51,#99ff5e,#8aff6d,#79ff7e,#68ff8f,#55ffa1,#42ffb4,#2fffc8,#1cffdb,#0bf3ec,#00dffc,#00ccff,#00baff,#00a8ff,#0097ff,#0089ff,#007fff,#0079ff,#0078ff,#007cff,#0082ff,#008cff,#0098ff,#00a6ff,#00b4ff,#00c1ff,#00caff,#00ceff,#00d0ff,#00d1ff,#00d1ff,#00d1ff,#00d2ff,#00d3ff,#00d6ff,#00d9ff,#00defd,#00e2f9,#01e6f6,#02e8f5,#00e4f8,#00dffc,#00dbff,#00d8ff,#00d9ff,#00dcfe,#00e0fb)"></i>
<i style="background:linear-gradient(90deg,#ff9200,#ff9100,#ff9200,#ff9700,#ff9e00,#ffaa00,#ffb800,#ffc700,#ffd600,#ffe400,#fcf000,#f2fa04,#e9ff0e,#e0ff17,#d6ff21,#cdff29,#c6ff31,#bfff37,#baff3c,#b6ff41,#b3ff44,#afff47,#aaff4d,#a0ff57,#93ff64,#84ff73,#74ff83,#63ff94,#51ffa6,#3fffb8,#2cffcb,#19ffde,#08efef,#00dbff,#00c8ff,#00b7ff,#00a5ff,#0094ff,#0085ff,#007bff,#0075ff,#0074ff,#0077ff,#007dff,#0087ff,#0093ff,#00a1ff,#00afff,#00bcff,#00c5ff,#00c9ff,#00caff,#00caff,#00cbff,#00cbff,#00cbff,#00ccff,#00cfff,#00d2ff,#00d7ff,#00dbff,#00dffc,#00e1fb,#00ddfe,#00d8ff,#00d4ff,#00d1ff,#00d2ff,#00d5ff,#00d9ff)"></i>
<i style="background:linear-gradient(90deg,#ff9000,#ff9000,#ff9200,#ff9700,#ffa000,#ffac00,#ffbb00,#ffcb00,#ffdb00,#ffe900,#f7f600,#edff0a,#e3ff14,#daff1d,#d0ff27,#c7ff2f,#c0ff37,#baff3d,#b4ff42,#b0ff46,#adff4a,#a9ff4e,#a4ff53,#9aff5d,#8dff6a,#7eff79,#6eff89,#5eff99,#4dffaa,#3bffbc,#28ffcf,#16ffe1,#05ecf2,#00d8ff,#00c5ff,#00b3ff,#00a1ff,#0090ff,#0081ff,#0077ff,#0070ff,#006fff,#0072ff,#0078ff,#0082ff,#008eff,#009bff,#00a9ff,#00b6ff,#00bfff,#00c3ff,#00c4ff,#00c4ff,#00c4ff,#00c4ff,#00c4ff,#00c5ff,#00c8ff,#00cbff,#00d0ff,#00d4ff,#00d8ff,#00d9ff,#00d6ff,#00d1ff,#00cdff,#00caff,#00cbff,#00ceff,#00d2ff)"></i>
<i style="background:linear-gradient(90deg,#ff8e00,#ff8e00,#ff9100,#ff9800,#ffa200,#ffaf00,#ffbf00,#ffcf00,#ffe000,#fdef00,#f1fc05,#e7ff10,#ddff1a,#d3ff23,#caff2d,#c1ff35,#baff3d,#b4ff43,#afff48,#aaff4d,#a7ff50,#a3ff54,#9dff5a,#93ff64,#87ff70,#78ff7e,#69ff8e,#59ff9e,#48ffae,#37ffc0,#25ffd2,#13fde4,#02e8f4,#00d5ff,#00c1ff,#00afff,#009dff,#008cff,#007dff,#0073ff,#006cff,#006bff,#006dff,#0073ff,#007cff,#0088ff,#0096ff,#00a4ff,#00b0ff,#00b9ff,#00bcff,#00bdff,#00bdff,#00bdff,#00bdff,#00bdff,#00beff,#00c0ff,#00c4ff,#00c8ff,#00cdff,#00d1ff,#00d2ff,#00ceff,#00caff,#00c5ff,#00c3ff,#00c4ff,#00c7ff,#00cbff)"></i>
<i style="background:linear-gradient(90deg,#ff8c00,#ff8c00,#ff9000,#ff9800,#ffa400,#ffb200,#ffc300,#ffd400,#ffe500,#f8f400,#ecff0b,#e1ff15,#d7ff20,#cdff29,#c4ff33,#bbff3b,#b4ff43,#aeff49,#a9ff4e,#a4ff53,#a0ff57,#9cff5b,#96ff61,#8cff6a,#80ff76,#73ff84,#64ff93,#54ffa2,#44ffb2,#34ffc3,#22ffd5,#11fae6,#00e5f7,#00d1ff,#00beff,#00abff,#0099ff,#0088ff,#0079ff,#006eff,#0068ff,#0066ff,#0068ff,#006eff,#0077ff,#0083ff,#0090ff,#009eff,#00aaff,#00b2ff,#00b6ff,#00b7ff,#00b7ff,#00b6ff,#00b6ff,#00b6ff,#00b7ff,#00b9ff,#00bcff,#00c1ff,#00c5ff,#00c9ff,#00caff,#00c7ff,#00c2ff,#00beff,#00bcff,#00bdff,#00c0ff,#00c4ff)"></i>
<i style="background:linear-gradient(90deg,#ff8a00,#ff8b00,#ff9000,#ff9900,#ffa600,#ffb500,#ffc600,#ffd800,#ffea00,#f3fa03,#e7ff10,#dcff1b,#d1ff26,#c7ff30,#beff39,#b5ff41,#aeff49,#a8ff4f,#a2ff54,#9eff59,#9aff5d,#95ff62,#8fff68,#86ff71,#7aff7d,#6dff8a,#5fff98,#50ffa7,#40ffb6,#30ffc7,#1fffd7,#0ef7e9,#00e2f9,#00ceff,#00bbff,#00a8ff,#0095ff,#0084ff,#0075ff,#006aff,#0064ff,#0062ff,#0064ff,#0069ff,#0072ff,#007dff,#008aff,#0098ff,#00a4ff,#00acff,#00afff,#00b0ff,#00b0ff,#00afff,#00aeff,#00aeff,#00afff,#00b2ff,#00b5ff,#00b9ff,#00beff,#00c1ff,#00c2ff,#00bfff,#00bbff,#00b7ff,#00b4ff,#00b5ff,#00b8ff,#00bcff)"></i>
<i style="background:linear-gradient(90deg,#ff8700,#ff8900,#ff9000,#ff9a00,#ffa800,#ffb800,#ffca00,#ffdd00,#fdee00,#efff08,#e2ff15,#d6ff21,#cbff2b,#c1ff36,#b8ff3f,#afff48,#a8ff4f,#a2ff55,#9cff5b,#97ff5f,#93ff64,#8eff69,#88ff6f,#7fff78,#74ff83,#67ff90,#59ff9d,#4bffac,#3cffba,#2dffca,#1dffda,#0cf4eb,#00e0fc,#00cbff,#00b7ff,#00a4ff,#0091ff,#0080ff,#0071ff,#0066ff,#0060ff,#005dff,#005fff,#0064ff,#006dff,#0078ff,#0085ff,#0092ff,#009dff,#00a5ff,#00a8ff,#00a9ff,#00a9ff,#00a8ff,#00a7ff,#00a7ff,#00a8ff,#00aaff,#00adff,#00b1ff,#00b6ff,#00b9ff,#00b9ff,#00b7ff,#00b3ff,#00afff,#00adff,#00aeff,#00b1ff,#00b5ff)"></i>
<i style="background:linear-gradient(90deg,#ff8500,#ff8700,#ff9000,#ff9c00,#ffab00,#ffbc00,#ffce00,#ffe100,#f9f300,#eaff0d,#ddff1a,#d1ff26,#c5ff31,#bbff3c,#b2ff45,#a9ff4e,#a2ff55,#9bff5b,#96ff61,#91ff66,#8cff6a,#87ff6f,#81ff76,#78ff7f,#6dff89,#61ff96,#54ffa3,#47ffb0,#39ffbe,#2affcd,#1affdd,#0af1ed,#00ddfe,#00c8ff,#00b4ff,#00a0ff,#008dff,#007cff,#006dff,#0062ff,#005bff,#0059ff,#005aff,#005fff,#0068ff,#0072ff,#007fff,#008bff,#0096ff,#009eff,#00a1ff,#00a2ff,#00a2ff,#00a1ff,#00a0ff,#00a0ff,#00a0ff,#00a2ff,#00a6ff,#00aaff,#00aeff,#00b1ff,#00b1ff,#00afff,#00abff,#00a7ff,#00a5ff,#00a6ff,#00a9ff,#00aeff)"></i>
<i style="background:linear-gradient(90deg,#ff8400,#ff8600,#ff9000,#ff9d00,#ffad00,#ffbf00,#ffd200,#ffe600,#f4f802,#e5ff12,#d7ff1f,#cbff2c,#c0ff37,#b5ff42,#abff4b,#a3ff54,#9cff5b,#95ff61,#90ff67,#8bff6c,#86ff71,#80ff76,#7aff7d,#71ff85,#67ff90,#5bff9b,#4fffa8,#42ffb4,#35ffc2,#27ffd0,#18ffdf,#08efef,#00daff,#00c5ff,#00b0ff,#009cff,#0089ff,#0078ff,#0069ff,#005eff,#0057ff,#0055ff,#0056ff,#005bff,#0062ff,#006dff,#0079ff,#0085ff,#0090ff,#0097ff,#009aff,#009bff,#009aff,#0099ff,#0098ff,#0098ff,#0099ff,#009bff,#009eff,#00a2ff,#00a6ff,#00a8ff,#00a9ff,#00a6ff,#00a3ff,#009fff,#009eff,#009fff,#00a2ff,#00a6ff)"></i>
<i style="background:linear-gradient(90deg,#ff8200,#ff8600,#ff9000,#ff9f00,#ffb000,#ffc300,#ffd700,#ffea00,#f0fd07,#e0ff16,#d2ff24,#c5ff31,#baff3d,#afff48,#a5ff51,#9dff5a,#96ff61,#8fff68,#8aff6d,#84ff73,#7fff78,#79ff7d,#73ff84,#6bff8c,#61ff96,#56ffa1,#4affad,#3effb9,#31ffc5,#24ffd3,#15ffe1,#06ecf1,#00d8ff,#00c2ff,#00adff,#0098ff,#0085ff,#0074ff,#0065ff,#005aff,#0053ff,#0050ff,#0051ff,#0056ff,#005dff,#0067ff,#0073ff,#007fff,#0089ff,#0090ff,#0093ff,#0094ff,#0093ff,#0092ff,#0091ff,#0090ff,#0091ff,#0093ff,#0096ff,#009aff,#009dff,#00a0ff,#00a0ff,#009eff,#009bff,#0097ff,#0096ff,#0097ff,#009aff,#009fff)"></i>
<i style="background:linear-gradient(90deg,#ff8100,#ff8500,#ff9100,#ffa100,#ffb300,#ffc700,#ffdb00,#fcef00,#ebff0b,#dcff1b,#cdff2a,#c0ff37,#b4ff43,#a9ff4e,#9fff57,#97ff60,#90ff67,#89ff6e,#83ff74,#7eff79,#78ff7e,#73ff84,#6cff8b,#64ff93,#5bff9c,#50ffa7,#45ffb1,#3affbd,#2effc9,#21ffd6,#13fde4,#04eaf3,#00d5ff,#00c0ff,#00aaff,#0095ff,#0081ff,#0070ff,#0061ff,#0056ff,#004fff,#004cff,#004dff,#0051ff,#0058ff,#0062ff,#006dff,#0078ff,#0082ff,#0089ff,#008cff,#008dff,#008cff,#008aff,#0089ff,#0089ff,#0089ff,#008bff,#008eff,#0092ff,#0095ff,#0098ff,#0098ff,#0096ff,#0092ff,#008fff,#008eff,#008fff,#0093ff,#0097ff)"></i>
<i style="background:linear-gradient(90deg,#ff8100,#ff8500,#ff9200,#ffa400,#ffb700,#ffcb00,#ffe000,#f8f400,#e7ff10,#d7ff20,#c8ff2f,#baff3c,#aeff49,#a3ff54,#99ff5d,#91ff66,#8aff6d,#83ff74,#7dff7a,#77ff7f,#72ff85,#6cff8b,#65ff92,#5dff9a,#54ffa2,#4bffac,#40ffb6,#36ffc1,#2bffcc,#1fffd8,#11fbe6,#02e8f5,#00d3ff,#00bdff,#00a7ff,#0091ff,#007dff,#006cff,#005dff,#0052ff,#004bff,#0048ff,#0048ff,#004cff,#0052ff,#005cff,#0067ff,#0072ff,#007cff,#0082ff,#0085ff,#0085ff,#0084ff,#0083ff,#0081ff,#0081ff,#0081ff,#0083ff,#0086ff,#008aff,#008dff,#008fff,#008fff,#008dff,#008aff,#0087ff,#0086ff,#0087ff,#008bff,#0090ff)"></i>
<i style="background:linear-gradient(90deg,#ff8000,#ff8500,#ff9400,#ffa600,#ffba00,#ffcf00,#ffe400,#f4f903,#e2ff14,#d2ff25,#c3ff34,#b5ff42,#a8ff4e,#9dff5a,#93ff63,#8bff6c,#84ff73,#7dff7a,#77ff80,#71ff86,#6bff8c,#65ff92,#5eff99,#57ffa0,#4effa8,#45ffb1,#3cffbb,#32ffc5,#27ffcf,#1cffdb,#0ff8e8,#00e6f7,#00d1ff,#00bbff,#00a4ff,#008dff,#0079ff,#0068ff,#0059ff,#004eff,#0047ff,#0044ff,#0043ff,#0047ff,#004dff,#0056ff,#0061ff,#006cff,#0075ff,#007bff,#007eff,#007eff,#007dff,#007bff,#007aff,#0079ff,#007aff,#007bff,#007eff,#0081ff,#0085ff,#0087ff,#0087ff,#0085ff,#0082ff,#007fff,#007eff,#007fff,#0083ff,#0089ff)"></i>
<i style="background:linear-gradient(90deg,#ff8100,#ff8600,#ff9500,#ffa900,#ffbe00,#ffd400,#ffe900,#effe07,#deff19,#cdff2a,#beff39,#b0ff47,#a3ff54,#97ff5f,#8eff69,#85ff72,#7eff79,#77ff80,#71ff86,#6bff8c,#65ff92,#5eff98,#58ff9f,#50ffa6,#48ffae,#40ffb7,#37ffc0,#2effc9,#24ffd3,#1affdd,#0df6e9,#00e4f8,#00cfff,#00b8ff,#00a1ff,#008aff,#0075ff,#0064ff,#0055ff,#004bff,#0043ff,#003fff,#003fff,#0042ff,#0048ff,#0051ff,#005bff,#0065ff,#006eff,#0074ff,#0077ff,#0077ff,#0075ff,#0073ff,#0072ff,#0071ff,#0072ff,#0073ff,#0076ff,#0079ff,#007cff,#007eff,#007eff,#007dff,#007aff,#0077ff,#0076ff,#0078ff,#007cff,#0081ff)"></i>
<i style="background:linear-gradient(90deg,#ff8100,#ff8700,#ff9800,#ffac00,#ffc200,#ffd800,#fdee00,#ebff0c,#d9ff1e,#c8ff2e,#b9ff3e,#aaff4d,#9dff5a,#92ff65,#88ff6f,#7fff78,#78ff7f,#71ff86,#6bff8c,#65ff92,#5eff98,#58ff9f,#51ffa6,#4affad,#43ffb4,#3bffbc,#33ffc4,#2affcd,#21ffd6,#17ffdf,#0cf4eb,#00e2fa,#00cdff,#00b6ff,#009eff,#0086ff,#0072ff,#0060ff,#0052ff,#0047ff,#003fff,#003bff,#003aff,#003dff,#0043ff,#004bff,#0055ff,#005fff,#0068ff,#006dff,#006fff,#006fff,#006eff,#006cff,#006aff,#006aff,#006aff,#006bff,#006eff,#0071ff,#0074ff,#0076ff,#0076ff,#0074ff,#0071ff,#006fff,#006eff,#0070ff,#0074ff,#007aff)"></i>
<i style="background:linear-gradient(90deg,#ff8300,#ff8800,#ff9b00,#ffb000,#ffc700,#ffdd00,#f9f300,#e6ff10,#d4ff22,#c3ff33,#b4ff43,#a5ff52,#98ff5f,#8cff6b,#82ff75,#79ff7d,#72ff85,#6bff8b,#65ff92,#5fff98,#58ff9f,#51ffa5,#4bffac,#44ffb3,#3dffba,#36ffc1,#2effc9,#26ffd0,#1effd8,#15ffe2,#0af2ed,#00e0fb,#00cbff,#00b3ff,#009bff,#0083ff,#006eff,#005cff,#004eff,#0043ff,#003bff,#0037ff,#0036ff,#0038ff,#003dff,#0045ff,#004fff,#0059ff,#0061ff,#0066ff,#0068ff,#0068ff,#0066ff,#0064ff,#0062ff,#0062ff,#0062ff,#0063ff,#0066ff,#0069ff,#006cff,#006eff,#006eff,#006cff,#0069ff,#0067ff,#0066ff,#0068ff,#006dff,#0073ff)"></i>
<i style="background:linear-gradient(90deg,#ff8500,#ff8b00,#ff9e00,#ffb400,#ffcb00,#ffe200,#f5f802,#e2ff15,#d0ff27,#bfff38,#afff48,#a0ff57,#92ff65,#86ff70,#7cff7a,#74ff83,#6cff8a,#66ff91,#5fff98,#59ff9e,#52ffa5,#4bffac,#44ffb2,#3effb9,#38ffbf,#31ffc6,#2affcd,#23ffd4,#1cffdb,#13fde4,#08f0ee,#00dffc,#00caff,#00b1ff,#0098ff,#007fff,#006aff,#0058ff,#004aff,#003fff,#0038ff,#0033ff,#0032ff,#0033ff,#0038ff,#0040ff,#0049ff,#0052ff,#005aff,#005fff,#0061ff,#0060ff,#005eff,#005cff,#005bff,#005aff,#005aff,#005cff,#005eff,#0061ff,#0064ff,#0066ff,#0066ff,#0064ff,#0061ff,#005fff,#005eff,#0060ff,#0065ff,#006bff)"></i>
<i style="background:linear-gradient(90deg,#ff8800,#ff8e00,#ffa200,#ffb800,#ffd000,#ffe700,#f0fd07,#ddff19,#cbff2c,#baff3d,#aaff4d,#9aff5c,#8dff6a,#81ff76,#77ff80,#6eff88,#67ff90,#60ff97,#5aff9d,#53ffa4,#4cffaa,#45ffb2,#3effb8,#38ffbe,#33ffc4,#2cffca,#26ffd1,#1fffd7,#19ffde,#11fbe6,#07eef0,#00defd,#00c8ff,#00afff,#0095ff,#007cff,#0066ff,#0055ff,#0046ff,#003cff,#0034ff,#002fff,#002dff,#002fff,#0033ff,#003aff,#0043ff,#004cff,#0054ff,#0059ff,#005aff,#0059ff,#0057ff,#0055ff,#0053ff,#0052ff,#0053ff,#0054ff,#0056ff,#0059ff,#005cff,#005eff,#005eff,#005cff,#0059ff,#0057ff,#0056ff,#0058ff,#005eff,#0064ff)"></i>
<i style="background:linear-gradient(90deg,#ff8d00,#ff9200,#ffa600,#ffbd00,#ffd400,#ffec00,#ecff0b,#d9ff1e,#c6ff30,#b5ff42,#a5ff52,#95ff61,#88ff6f,#7bff7b,#71ff85,#69ff8e,#62ff95,#5bff9c,#54ffa3,#4effa9,#47ffb0,#3fffb7,#39ffbe,#33ffc4,#2effc9,#28ffcf,#22ffd5,#1cffdb,#16ffe0,#0ff8e8,#06edf1,#00dcfe,#00c6ff,#00adff,#0092ff,#0079ff,#0063ff,#0051ff,#0043ff,#0038ff,#0030ff,#002bff,#0029ff,#002aff,#002eff,#0035ff,#003dff,#0046ff,#004dff,#0052ff,#0053ff,#0052ff,#004fff,#004dff,#004bff,#004bff,#004bff,#004cff,#004eff,#0051ff,#0054ff,#0056ff,#0056ff,#0054ff,#0051ff,#004fff,#004eff,#0051ff,#0056ff,#005dff)"></i>
<i style="background:linear-gradient(90deg,#ff9300,#ff9800,#ffab00,#ffc100,#ffd900,#fbf100,#e7ff10,#d4ff23,#c2ff35,#b0ff47,#a0ff57,#90ff66,#82ff74,#76ff81,#6cff8b,#64ff93,#5cff9a,#56ffa1,#4fffa8,#48ffaf,#41ffb5,#3affbd,#33ffc4,#2effc9,#29ffce,#24ffd3,#1effd9,#19ffde,#14fee3,#0df6e9,#04ebf2,#00dbff,#00c5ff,#00abff,#0090ff,#0076ff,#005fff,#004eff,#003fff,#0034ff,#002dff,#0027ff,#0025ff,#0025ff,#0029ff,#002fff,#0038ff,#0040ff,#0047ff,#004bff,#004cff,#004aff,#0048ff,#0045ff,#0044ff,#0043ff,#0043ff,#0044ff,#0047ff,#004aff,#004dff,#004eff,#004eff,#004cff,#004aff,#0047ff,#0046ff,#0049ff,#004fff,#0056ff)"></i>
<i style="background:linear-gradient(90deg,#ff9a00,#ff9f00,#ffb000,#ffc600,#ffde00,#f6f600,#e3ff14,#d0ff27,#bdff3a,#abff4b,#9bff5c,#8bff6b,#7dff79,#71ff86,#67ff90,#5fff98,#57ff9f,#50ffa6,#4affad,#43ffb4,#3cffbb,#35ffc2,#2effc9,#29ffce,#24ffd2,#20ffd7,#1bffdc,#16ffe1,#12fbe5,#0cf4eb,#03eaf4,#00daff,#00c4ff,#00a9ff,#008dff,#0073ff,#005cff,#004aff,#003cff,#0031ff,#0029ff,#0024ff,#0021ff,#0021ff,#0024ff,#002aff,#0032ff,#003aff,#0041ff,#0045ff,#0045ff,#0043ff,#0040ff,#003eff,#003cff,#003cff,#003cff,#003dff,#003fff,#0042ff,#0045ff,#0047ff,#0047ff,#0045ff,#0042ff,#003fff,#003fff,#0042ff,#0048ff,#004fff)"></i>
<i style="background:linear-gradient(90deg,#ffa100,#ffa600,#ffb600,#ffcb00,#ffe400,#f2fb05,#deff19,#cbff2c,#b8ff3e,#a7ff50,#96ff61,#86ff70,#78ff7e,#6cff8b,#62ff95,#5aff9d,#53ffa4,#4cffab,#45ffb2,#3effb9,#37ffc0,#30ffc7,#29ffce,#24ffd3,#20ffd7,#1cffdb,#17ffdf,#13fde4,#0ff9e7,#0af2ed,#02e8f5,#00d9ff,#00c2ff,#00a7ff,#008bff,#0070ff,#0059ff,#0047ff,#0039ff,#002eff,#0026ff,#0020ff,#001dff,#001dff,#001fff,#0025ff,#002cff,#0034ff,#003bff,#003eff,#003eff,#003cff,#0039ff,#0036ff,#0035ff,#0034ff,#0035ff,#0036ff,#0038ff,#003bff,#003eff,#003fff,#003fff,#003dff,#003bff,#0038ff,#0037ff,#003aff,#0041ff,#0049ff)"></i>
<i style="background:linear-gradient(90deg,#ffa800,#ffad00,#ffbb00,#ffd100,#ffe900,#edff09,#daff1d,#c6ff30,#b4ff43,#a2ff55,#91ff66,#82ff75,#74ff83,#67ff90,#5dff99,#55ffa2,#4effa9,#47ffb0,#40ffb7,#3affbd,#33ffc4,#2bffcb,#24ffd2,#20ffd7,#1cffda,#18ffde,#14ffe3,#11fae6,#0df6e9,#09f0ee,#01e7f6,#00d8ff,#00c1ff,#00a6ff,#0089ff,#006dff,#0056ff,#0044ff,#0036ff,#002aff,#0022ff,#001dff,#0019ff,#0019ff,#001bff,#0020ff,#0027ff,#002eff,#0034ff,#0037ff,#0037ff,#0035ff,#0032ff,#002fff,#002eff,#002dff,#002dff,#002eff,#0031ff,#0034ff,#0036ff,#0038ff,#0038ff,#0036ff,#0033ff,#0031ff,#0030ff,#0033ff,#003aff,#0042ff)"></i>
<i style="background:linear-gradient(90deg,#ffae00,#ffb300,#ffc100,#ffd600,#feee00,#e9ff0e,#d5ff21,#c2ff35,#afff48,#9dff5a,#8cff6a,#7dff7a,#6fff88,#63ff94,#59ff9e,#51ffa6,#49ffad,#42ffb4,#3cffbb,#35ffc2,#2effc8,#27ffd0,#20ffd6,#1cffdb,#19ffde,#15ffe2,#11fbe5,#0ef7e8,#0bf4eb,#07eef0,#00e5f7,#00d6ff,#00bfff,#00a4ff,#0087ff,#006bff,#0053ff,#0041ff,#0032ff,#0027ff,#001fff,#0019ff,#0016ff,#0015ff,#0016ff,#001bff,#0022ff,#0028ff,#002eff,#0031ff,#0030ff,#002eff,#002bff,#0028ff,#0027ff,#0026ff,#0027ff,#0028ff,#002aff,#002dff,#002fff,#0031ff,#0031ff,#002fff,#002cff,#002aff,#0029ff,#002dff,#0033ff,#003bff)"></i>
<i style="background:linear-gradient(90deg,#ffb400,#ffba00,#ffc700,#ffdb00,#f9f300,#e5ff12,#d1ff26,#bdff39,#abff4c,#99ff5e,#88ff6f,#78ff7e,#6bff8c,#5eff98,#55ffa2,#4dffaa,#45ffb2,#3effb9,#38ffbf,#31ffc6,#2affcc,#23ffd3,#1dffda,#19ffde,#16ffe1,#12fce5,#0ff8e8,#0cf5eb,#0af2ed,#06ecf1,#00e4f8,#00d5ff,#00beff,#00a2ff,#0085ff,#0069ff,#0051ff,#003eff,#002fff,#0024ff,#001cff,#0016ff,#0012ff,#0011ff,#0012ff,#0017ff,#001dff,#0023ff,#0028ff,#002aff,#0029ff,#0027ff,#0024ff,#0021ff,#0020ff,#001fff,#0020ff,#0021ff,#0023ff,#0026ff,#0028ff,#002aff,#002aff,#0028ff,#0026ff,#0023ff,#0023ff,#0026ff,#002dff,#0035ff)"></i>
<i style="background:linear-gradient(90deg,#ffb900,#ffc000,#ffcd00,#ffe100,#f5f702,#e1ff16,#cdff2a,#b9ff3e,#a6ff51,#94ff63,#83ff74,#74ff83,#66ff90,#5aff9c,#51ffa6,#48ffae,#41ffb6,#3affbd,#34ffc3,#2dffca,#27ffd0,#20ffd7,#1affdd,#16ffe1,#13fde4,#10f9e7,#0df5ea,#0af2ed,#08efef,#04ebf3,#00e2fa,#00d3ff,#00bcff,#00a1ff,#0083ff,#0066ff,#004eff,#003bff,#002cff,#0021ff,#0019ff,#0013ff,#000fff,#000dff,#000eff,#0012ff,#0018ff,#001dff,#0022ff,#0024ff,#0023ff,#0020ff,#001dff,#001aff,#0019ff,#0019ff,#0019ff,#001aff,#001dff,#001fff,#0022ff,#0023ff,#0023ff,#0021ff,#001fff,#001dff,#001dff,#0020ff,#0027ff,#002eff)"></i>
<i style="background:linear-gradient(90deg,#ffbe00,#ffc600,#ffd300,#ffe600,#f1fc06,#ddff1a,#c8ff2e,#b5ff42,#a1ff55,#8fff67,#7fff78,#70ff87,#62ff95,#57ffa0,#4dffaa,#45ffb2,#3dffba,#36ffc0,#30ffc7,#29ffcd,#23ffd4,#1dffda,#17ffe0,#13fde4,#10f9e7,#0df6ea,#0af2ec,#08f0ee,#06eef0,#03e9f4,#00e1fb,#00d1ff,#00bbff,#009fff,#0081ff,#0065ff,#004cff,#0039ff,#002aff,#001eff,#0015ff,#000fff,#000cff,#000aff,#000bff,#000eff,#0013ff,#0018ff,#001bff,#001dff,#001cff,#0019ff,#0016ff,#0014ff,#0012ff,#0012ff,#0013ff,#0014ff,#0016ff,#0019ff,#001bff,#001dff,#001cff,#001bff,#0019ff,#0017ff,#0017ff,#001aff,#0020ff,#0028ff)"></i>
<i style="background:linear-gradient(90deg,#ffc300,#ffcc00,#ffd900,#ffeb00,#edff0a,#d9ff1e,#c4ff32,#b0ff47,#9dff5a,#8bff6c,#7aff7d,#6bff8b,#5eff99,#53ffa4,#49ffae,#41ffb6,#3affbd,#33ffc4,#2cffcb,#26ffd1,#20ffd7,#1affdd,#14ffe2,#10fae6,#0df6e9,#0bf3ec,#08f0ee,#07eef0,#05ecf2,#02e8f5,#00dffc,#00d0ff,#00baff,#009eff,#007fff,#0063ff,#004aff,#0036ff,#0027ff,#001bff,#0013ff,#000cff,#0008ff,#0007ff,#0007ff,#000aff,#000eff,#0012ff,#0015ff,#0017ff,#0015ff,#0013ff,#0010ff,#000dff,#000cff,#000cff,#000cff,#000eff,#0010ff,#0013ff,#0015ff,#0016ff,#0016ff,#0015ff,#0013ff,#0011ff,#0011ff,#0014ff,#001aff,#0022ff)"></i>
<i style="background:linear-gradient(90deg,#ffc800,#ffd100,#ffde00,#fcf000,#e9ff0e,#d5ff22,#c0ff37,#acff4b,#98ff5e,#86ff71,#76ff81,#67ff90,#5aff9c,#4fffa8,#46ffb1,#3dffb9,#36ffc1,#2fffc8,#29ffce,#23ffd4,#1dffda,#17ffe0,#12fce5,#0ef7e9,#0bf3ec,#09f0ee,#06eef0,#05ecf2,#04eaf3,#01e6f6,#00defd,#00cfff,#00b8ff,#009cff,#007eff,#0061ff,#0048ff,#0034ff,#0024ff,#0018ff,#0010ff,#0009ff,#0005ff,#0003ff,#0004ff,#0006ff,#0009ff,#000dff,#0010ff,#0010ff,#000fff,#000cff,#0009ff,#0007ff,#0006ff,#0006ff,#0006ff,#0008ff,#000aff,#000dff,#000fff,#0010ff,#0010ff,#000fff,#000dff,#000bff,#000bff,#000fff,#0015ff,#001cff)"></i>
<i style="background:linear-gradient(90deg,#ffcd00,#ffd600,#ffe300,#f7f500,#e5ff12,#d1ff26,#bcff3b,#a8ff4f,#94ff63,#82ff75,#72ff85,#63ff94,#57ffa0,#4cffab,#42ffb4,#3affbd,#33ffc4,#2cffcb,#26ffd1,#20ffd7,#1affdd,#15ffe2,#10f9e7,#0cf4eb,#09f1ee,#07eef0,#05ebf2,#04eaf3,#02e8f4,#00e5f7,#00ddfe,#00cdff,#00b7ff,#009bff,#007cff,#005fff,#0045ff,#0031ff,#0022ff,#0016ff,#000dff,#0007ff,#0003ff,#0000ff,#0000ff,#0002ff,#0005ff,#0008ff,#000aff,#000aff,#0009ff,#0006ff,#0003ff,#0001ff,#0000ff,#0000ff,#0001ff,#0002ff,#0005ff,#0007ff,#0009ff,#000aff,#000aff,#0009ff,#0007ff,#0006ff,#0006ff,#0009ff,#000fff,#0017ff)"></i>
<i style="background:linear-gradient(90deg,#ffd100,#ffdb00,#ffe800,#f3fa04,#e1ff16,#cdff2a,#b8ff3f,#a3ff53,#90ff67,#7dff79,#6dff89,#5fff97,#53ffa4,#48ffae,#3fffb8,#37ffc0,#30ffc7,#29ffce,#22ffd4,#1dffda,#17ffdf,#12fce4,#0ef7e9,#0af2ed,#07eef0,#05ebf2,#03e9f4,#02e8f5,#01e7f6,#00e3f8,#00dbff,#00ccff,#00b6ff,#0099ff,#007aff,#005dff,#0043ff,#002fff,#001fff,#0013ff,#000aff,#0004ff,#0000ff,#0000ff,#0000ff,#0000ff,#0001ff,#0003ff,#0004ff,#0004ff,#0003ff,#0000ff,#0000ff,#0000ff,#0000ff,#0000ff,#0000ff,#0000ff,#0000ff,#0002ff,#0004ff,#0005ff,#0005ff,#0003ff,#0002ff,#0000ff,#0001ff,#0004ff,#000aff,#0011ff)"></i>
<i style="background:linear-gradient(90deg,#ffd600,#ffe000,#feed00,#efff08,#ddff1a,#c9ff2e,#b4ff43,#9fff58,#8bff6c,#79ff7e,#69ff8e,#5bff9b,#50ffa7,#45ffb1,#3cffbb,#34ffc3,#2dffca,#26ffd1,#20ffd7,#1affdd,#15ffe2,#10fae6,#0cf5eb,#08f0ee,#05ecf1,#03e9f4,#01e7f5,#01e6f6,#00e5f7,#00e2f9,#00daff,#00cbff,#00b4ff,#0098ff,#0079ff,#005bff,#0041ff,#002cff,#001dff,#0011ff,#0008ff,#0001ff,#0000ff,#0000ff,#0000ff,#0000ff,#0000ff,#0000ff,#0000ff,#0000ff,#0000ff,#0000ff,#0000ff,#0000ff,#0000ff,#0000ff,#0000ff,#0000ff,#0000ff,#0000ff,#0000ff,#0000ff,#0000ff,#0000ff,#0000ff,#0000ff,#0000ff,#0000ff,#0004ff,#000cff)"></i>
<i style="background:linear-gradient(90deg,#ffda00,#ffe500,#faf200,#ebff0c,#d9ff1e,#c5ff31,#b0ff47,#9bff5c,#87ff70,#75ff82,#65ff92,#58ff9f,#4cffaa,#42ffb4,#39ffbd,#31ffc6,#2affcd,#23ffd4,#1dffda,#18ffdf,#13fde4,#0ff8e8,#0bf3ec,#07eef0,#04eaf3,#01e7f5,#00e5f7,#00e4f8,#00e4f8,#00e1fa,#00d9ff,#00caff,#00b3ff,#0096ff,#0077ff,#0059ff,#003fff,#002aff,#001aff,#000eff,#0005ff,#0000ff,#0000ff,#0000ff,#0000ff,#0000ff,#0000ff,#0000ff,#0000ff,#0000ff,#0000ff,#0000ff,#0000ff,#0000fd,#0000fc,#0000fd,#0000fe,#0000ff,#0000ff,#0000ff,#0000ff,#0000ff,#0000ff,#0000ff,#0000ff,#0000ff,#0000ff,#0000ff,#0000ff,#0007ff)"></i>
<i style="background:linear-gradient(90deg,#ffdf00,#ffe900,#f6f701,#e7ff10,#d6ff21,#c2ff35,#acff4a,#97ff60,#83ff74,#71ff86,#61ff96,#54ffa3,#49ffae,#40ffb7,#37ffc0,#2fffc8,#27ffd0,#20ffd6,#1affdc,#15ffe1,#11fae6,#0df5ea,#09f1ee,#05ecf1,#02e8f5,#00e5f7,#00e3f9,#00e3f9,#00e2f9,#00e0fb,#00d8ff,#00c9ff,#00b2ff,#0095ff,#0075ff,#0057ff,#003cff,#0028ff,#0018ff,#000cff,#0003ff,#0000ff,#0000ff,#0000ff,#0000ff,#0000ff,#0000ff,#0000ff,#0000ff,#0000ff,#0000ff,#0000fc,#0000f9,#0000f6,#0000f6,#0000f7,#0000f8,#0000fb,#0000fe,#0000ff,#0000ff,#0000ff,#0000ff,#0000ff,#0000ff,#0000ff,#0000ff,#0000ff,#0000ff,#0002ff)"></i>
<i style="background:linear-gradient(90deg,#ffe300,#feee00,#f2fb05,#e3ff14,#d2ff25,#beff39,#a9ff4e,#93ff64,#7fff78,#6cff8a,#5dff9a,#51ffa6,#46ffb1,#3dffba,#34ffc3,#2cffcb,#25ffd2,#1effd9,#18ffdf,#13fde4,#0ff8e8,#0bf3ec,#08efef,#04ebf3,#01e6f6,#00e3f9,#00e1fa,#00e1fb,#00e1fb,#00dffc,#00d8ff,#00c9ff,#00b1ff,#0093ff,#0073ff,#0054ff,#003aff,#0025ff,#0015ff,#0009ff,#0001ff,#0000ff,#0000ff,#0000ff,#0000ff,#0000ff,#0000ff,#0000ff,#0000fe,#0000fc,#0000f9,#0000f6,#0000f2,#0000f0,#0000f0,#0000f1,#0000f3,#0000f6,#0000f9,#0000fc,#0000fe,#0000ff,#0000ff,#0000fe,#0000fd,#0000fc,#0000fc,#0000ff,#0000ff,#0000ff)"></i>
<i style="background:linear-gradient(90deg,#ffe700,#faf200,#eeff09,#dfff17,#ceff28,#bbff3c,#a5ff52,#8fff68,#7aff7c,#68ff8e,#59ff9d,#4dffa9,#43ffb4,#3affbd,#32ffc5,#2affcd,#22ffd4,#1cffdb,#16ffe1,#11fbe6,#0df6ea,#0af2ed,#06edf0,#03e9f4,#00e5f7,#00e1fa,#00dffc,#00dffc,#00dffc,#00ddfd,#00d7ff,#00c8ff,#00b0ff,#0092ff,#0071ff,#0052ff,#0038ff,#0023ff,#0013ff,#0007ff,#0000ff,#0000ff,#0000ff,#0000ff,#0000fd,#0000fb,#0000fb,#0000fa,#0000f9,#0000f6,#0000f3,#0000f0,#0000ec,#0000ea,#0000ea,#0000eb,#0000ee,#0000f1,#0000f4,#0000f6,#0000f9,#0000fa,#0000fa,#0000f9,#0000f8,#0000f7,#0000f8,#0000fb,#0000ff,#0000ff)"></i>
<i style="background:linear-gradient(90deg,#ffeb00,#f6f701,#eaff0d,#dcff1b,#cbff2c,#b7ff40,#a1ff55,#8bff6b,#76ff80,#64ff92,#56ffa1,#4affad,#40ffb6,#38ffbf,#30ffc7,#28ffcf,#20ffd7,#19ffdd,#14fee3,#0ff8e8,#0cf4eb,#08f0ee,#05ecf2,#02e8f5,#00e3f9,#00e0fc,#00defd,#00ddfd,#00defd,#00dcfe,#00d6ff,#00c7ff,#00afff,#0090ff,#006fff,#0050ff,#0035ff,#0020ff,#0011ff,#0005ff,#0000ff,#0000ff,#0000ff,#0000fc,#0000fa,#0000f8,#0000f7,#0000f5,#0000f3,#0000f1,#0000ed,#0000ea,#0000e6,#0000e4,#0000e4,#0000e6,#0000e8,#0000ec,#0000ef,#0000f2,#0000f4,#0000f5,#0000f5,#0000f5,#0000f4,#0000f3,#0000f3,#0000f6,#0000fc,#0000ff)"></i>
<i style="background:linear-gradient(90deg,#fcef00,#f2fb05,#e6ff10,#d8ff1f,#c7ff2f,#b4ff43,#9eff59,#88ff6f,#73ff84,#60ff96,#52ffa5,#47ffb0,#3effb9,#35ffc1,#2dffc9,#26ffd1,#1effd9,#17ffe0,#12fbe5,#0df6e9,#0af2ed,#07eef0,#04ebf3,#01e6f6,#00e1fa,#00defd,#00dcff,#00dbff,#00dcfe,#00dbff,#00d5ff,#00c6ff,#00aeff,#008fff,#006dff,#004dff,#0033ff,#001eff,#000eff,#0003ff,#0000ff,#0000ff,#0000fd,#0000fa,#0000f7,#0000f5,#0000f3,#0000f1,#0000ee,#0000eb,#0000e8,#0000e4,#0000e1,#0000df,#0000df,#0000e1,#0000e3,#0000e7,#0000ea,#0000ed,#0000ef,#0000f1,#0000f1,#0000f1,#0000f0,#0000ef,#0000ef,#0000f2,#0000f7,#0000ff)"></i>
<i style="background:linear-gradient(90deg,#f9f300,#efff08,#e3ff14,#d5ff22,#c4ff33,#b0ff47,#9aff5c,#84ff73,#6fff88,#5dff9a,#4fffa8,#44ffb3,#3bffbc,#33ffc3,#2bffcb,#24ffd3,#1cffdb,#15ffe1,#10f9e7,#0cf4eb,#08f0ee,#06edf1,#03e9f4,#00e5f7,#00e0fb,#00dcff,#00daff,#00d9ff,#00daff,#00d9ff,#00d4ff,#00c6ff,#00adff,#008dff,#006bff,#004bff,#0030ff,#001bff,#000cff,#0001ff,#0000ff,#0000ff,#0000fb,#0000f7,#0000f4,#0000f2,#0000ef,#0000ed,#0000ea,#0000e6,#0000e3,#0000df,#0000db,#0000d9,#0000da,#0000dc,#0000df,#0000e2,#0000e6,#0000e9,#0000eb,#0000ed,#0000ed,#0000ed,#0000ec,#0000eb,#0000ec,#0000ee,#0000f3,#0000fb)"></i>
<i style="background:linear-gradient(90deg,#f5f702,#ebff0c,#dfff18,#d1ff26,#c1ff36,#adff4a,#97ff60,#80ff77,#6bff8c,#59ff9e,#4bffab,#41ffb6,#39ffbe,#31ffc6,#2affcd,#22ffd5,#1affdc,#14fee3,#0ef7e9,#0af2ed,#07eef0,#05ebf2,#02e8f5,#00e3f8,#00defd,#00daff,#00d8ff,#00d7ff,#00d8ff,#00d8ff,#00d3ff,#00c5ff,#00abff,#008bff,#0068ff,#0048ff,#002dff,#0019ff,#000aff,#0000ff,#0000ff,#0000fe,#0000f9,#0000f5,#0000f2,#0000ef,#0000ec,#0000e9,#0000e5,#0000e1,#0000de,#0000da,#0000d6,#0000d4,#0000d5,#0000d7,#0000da,#0000de,#0000e2,#0000e5,#0000e7,#0000e9,#0000e9,#0000e9,#0000e9,#0000e8,#0000e8,#0000eb,#0000ef,#0000f7)"></i>
<i style="background:linear-gradient(90deg,#f2fb05,#e7ff0f,#dbff1b,#cdff29,#bdff3a,#aaff4d,#93ff63,#7dff7a,#67ff8f,#55ffa1,#48ffae,#3effb8,#37ffc0,#2fffc7,#28ffcf,#20ffd7,#19ffde,#12fce5,#0cf5ea,#08f0ee,#06ecf1,#03eaf3,#01e7f6,#00e2fa,#00ddfe,#00d8ff,#00d6ff,#00d5ff,#00d7ff,#00d6ff,#00d1ff,#00c4ff,#00aaff,#0089ff,#0066ff,#0045ff,#002bff,#0017ff,#0008ff,#0000ff,#0000ff,#0000fc,#0000f7,#0000f3,#0000ef,#0000ec,#0000e9,#0000e5,#0000e1,#0000dd,#0000d9,#0000d5,#0000d1,#0000cf,#0000d0,#0000d2,#0000d6,#0000da,#0000de,#0000e1,#0000e3,#0000e5,#0000e6,#0000e6,#0000e6,#0000e5,#0000e5,#0000e7,#0000ec,#0000f3)"></i>
<i style="background:linear-gradient(90deg,#eeff08,#e4ff13,#d8ff1f,#caff2d,#baff3d,#a6ff50,#90ff67,#79ff7d,#64ff93,#52ffa5,#45ffb1,#3cffbb,#34ffc2,#2dffc9,#26ffd1,#1effd8,#17ffe0,#10fae6,#0bf3ec,#07eef0,#04ebf2,#02e8f5,#00e5f7,#00e0fb,#00dbff,#00d6ff,#00d4ff,#00d3ff,#00d5ff,#00d4ff,#00d0ff,#00c2ff,#00a8ff,#0086ff,#0063ff,#0042ff,#0028ff,#0014ff,#0006ff,#0000ff,#0000ff,#0000fa,#0000f5,#0000f1,#0000ed,#0000e9,#0000e6,#0000e1,#0000dd,#0000d8,#0000d4,#0000d0,#0000cd,#0000cb,#0000cb,#0000ce,#0000d2,#0000d6,#0000da,#0000dd,#0000e0,#0000e2,#0000e3,#0000e3,#0000e3,#0000e2,#0000e2,#0000e5,#0000e9,#0000f0)"></i>
<i style="background:linear-gradient(90deg,#ebff0c,#e0ff16,#d4ff23,#c6ff30,#b6ff40,#a3ff54,#8dff6a,#76ff81,#61ff96,#4fffa8,#43ffb4,#3affbd,#32ffc5,#2cffcb,#24ffd2,#1dffda,#16ffe1,#0ff8e8,#0af1ed,#06edf1,#03e9f4,#01e7f6,#00e4f8,#00dffc,#00d9ff,#00d5ff,#00d2ff,#00d1ff,#00d3ff,#00d2ff,#00ceff,#00c1ff,#00a5ff,#0084ff,#0060ff,#003fff,#0025ff,#0012ff,#0004ff,#0000ff,#0000ff,#0000f8,#0000f3,#0000ef,#0000eb,#0000e7,#0000e3,#0000de,#0000d9,#0000d4,#0000d0,#0000cc,#0000c8,#0000c6,#0000c7,#0000ca,#0000ce,#0000d2,#0000d6,#0000da,#0000dd,#0000df,#0000e0,#0000e1,#0000e1,#0000e0,#0000e0,#0000e2,#0000e7,#0000ed)"></i>
<i style="background:linear-gradient(90deg,#e8ff0f,#ddff1a,#d1ff26,#c3ff34,#b3ff44,#a0ff57,#89ff6d,#73ff84,#5eff99,#4cffab,#40ffb7,#37ffbf,#30ffc7,#2affcd,#23ffd4,#1bffdb,#14ffe2,#0ef7e9,#08f0ee,#05ebf2,#02e8f5,#00e5f7,#00e2f9,#00ddfe,#00d7ff,#00d3ff,#00d0ff,#00cfff,#00d0ff,#00d0ff,#00cbff,#00beff,#00a3ff,#0081ff,#005dff,#003dff,#0023ff,#0010ff,#0002ff,#0000ff,#0000fe,#0000f7,#0000f1,#0000ed,#0000e9,#0000e4,#0000e0,#0000db,#0000d5,#0000d0,#0000cc,#0000c8,#0000c4,#0000c2,#0000c3,#0000c6,#0000ca,#0000cf,#0000d3,#0000d7,#0000da,#0000dc,#0000dd,#0000de,#0000df,#0000de,#0000de,#0000e0,#0000e5,#0000eb)"></i>
<i style="background:linear-gradient(90deg,#e4ff12,#d9ff1d,#cdff2a,#bfff38,#afff48,#9cff5b,#86ff71,#70ff87,#5bff9c,#4affad,#3effb9,#35ffc2,#2effc9,#28ffcf,#21ffd5,#1affdd,#13fde4,#0df5ea,#07efef,#04eaf3,#00e6f6,#00e3f9,#00e0fb,#00dbff,#00d5ff,#00d1ff,#00ceff,#00cdff,#00ceff,#00cdff,#00c8ff,#00bbff,#00a0ff,#007eff,#005bff,#003aff,#0020ff,#000eff,#0000ff,#0000ff,#0000fc,#0000f5,#0000ef,#0000eb,#0000e7,#0000e2,#0000dd,#0000d8,#0000d2,#0000cd,#0000c8,#0000c4,#0000c0,#0000be,#0000c0,#0000c3,#0000c7,#0000cc,#0000d0,#0000d4,#0000d7,#0000d9,#0000db,#0000dc,#0000dd,#0000dd,#0000dd,#0000df,#0000e3,#0000e9)"></i>
<i style="background:linear-gradient(90deg,#e1ff16,#d6ff21,#c9ff2d,#bbff3c,#abff4b,#98ff5e,#83ff74,#6dff8a,#59ff9e,#48ffaf,#3cffbb,#33ffc3,#2cffca,#26ffd0,#20ffd7,#19ffde,#12fce5,#0cf4eb,#07eef0,#03e9f4,#00e4f8,#00e1fa,#00defd,#00d9ff,#00d4ff,#00cfff,#00ccff,#00cbff,#00ccff,#00caff,#00c5ff,#00b7ff,#009cff,#007aff,#0058ff,#0037ff,#001eff,#000bff,#0000ff,#0000ff,#0000fa,#0000f3,#0000ee,#0000e9,#0000e5,#0000e0,#0000db,#0000d5,#0000cf,#0000ca,#0000c5,#0000c1,#0000bd,#0000bb,#0000bc,#0000c0,#0000c4,#0000c8,#0000cd,#0000d1,#0000d4,#0000d7,#0000d9,#0000db,#0000db,#0000dc,#0000dc,#0000de,#0000e2,#0000e7)"></i>
<i style="background:linear-gradient(90deg,#deff19,#d3ff24,#c6ff31,#b7ff3f,#a7ff4f,#95ff62,#80ff77,#6aff8c,#56ffa0,#46ffb1,#3affbd,#31ffc5,#2bffcc,#25ffd2,#1effd9,#18ffdf,#11fbe6,#0bf3ec,#06edf1,#02e8f5,#00e3f9,#00dffc,#00dbff,#00d6ff,#00d2ff,#00ceff,#00cbff,#00caff,#00c9ff,#00c7ff,#00c1ff,#00b2ff,#0098ff,#0077ff,#0055ff,#0035ff,#001cff,#0009ff,#0000ff,#0000ff,#0000f8,#0000f2,#0000ec,#0000e8,#0000e3,#0000de,#0000d8,#0000d2,#0000cc,#0000c7,#0000c2,#0000bd,#0000ba,#0000b8,#0000b9,#0000bd,#0000c1,#0000c5,#0000ca,#0000ce,#0000d2,#0000d5,#0000d8,#0000d9,#0000da,#0000db,#0000db,#0000dd,#0000e1,#0000e6)"></i>
<i style="background:linear-gradient(90deg,#dbff1c,#cfff28,#c2ff35,#b4ff43,#a3ff53,#91ff66,#7cff7a,#68ff8f,#54ffa2,#44ffb3,#39ffbe,#30ffc7,#29ffce,#23ffd4,#1dffda,#16ffe0,#10fae6,#0bf3ec,#05ecf1,#01e7f6,#00e2fa,#00ddfe,#00d9ff,#00d4ff,#00d0ff,#00ccff,#00c9ff,#00c8ff,#00c7ff,#00c4ff,#00bdff,#00aeff,#0093ff,#0073ff,#0051ff,#0032ff,#001aff,#0007ff,#0000ff,#0000ff,#0000f7,#0000f0,#0000eb,#0000e6,#0000e1,#0000dc,#0000d6,#0000d0,#0000c9,#0000c4,#0000bf,#0000ba,#0000b7,#0000b6,#0000b7,#0000ba,#0000be,#0000c3,#0000c7,#0000cc,#0000d0,#0000d3,#0000d6,#0000d8,#0000d9,#0000da,#0000db,#0000dd,#0000e0,#0000e5)"></i>
<i style="background:linear-gradient(90deg,#d8ff1f,#ccff2b,#beff38,#b0ff47,#a0ff57,#8dff6a,#79ff7e,#65ff92,#52ffa4,#43ffb4,#37ffc0,#2effc8,#27ffcf,#21ffd6,#1bffdb,#15ffe1,#10f9e7,#0af2ed,#05ecf2,#00e6f7,#00e0fb,#00dbff,#00d6ff,#00d2ff,#00ceff,#00caff,#00c8ff,#00c6ff,#00c4ff,#00c1ff,#00b8ff,#00a8ff,#008fff,#006fff,#004eff,#0030ff,#0018ff,#0006ff,#0000ff,#0000fd,#0000f5,#0000ef,#0000e9,#0000e4,#0000e0,#0000da,#0000d4,#0000cd,#0000c7,#0000c1,#0000bc,#0000b8,#0000b5,#0000b3,#0000b4,#0000b7,#0000bb,#0000c0,#0000c5,#0000ca,#0000ce,#0000d2,#0000d5,#0000d7,#0000d9,#0000da,#0000db,#0000dd,#0000e0,#0000e5)"></i>
<i style="background:linear-gradient(90deg,#d5ff22,#c9ff2e,#bbff3c,#acff4b,#9cff5b,#89ff6d,#76ff81,#63ff94,#51ffa6,#41ffb5,#36ffc1,#2dffca,#26ffd1,#20ffd7,#1affdd,#14ffe2,#0ff8e8,#0af1ed,#05ebf2,#00e5f7,#00dffc,#00d9ff,#00d3ff,#00cfff,#00ccff,#00c9ff,#00c6ff,#00c4ff,#00c2ff,#00bdff,#00b4ff,#00a3ff,#008aff,#006bff,#004bff,#002dff,#0015ff,#0004ff,#0000ff,#0000fb,#0000f4,#0000ed,#0000e8,#0000e3,#0000de,#0000d8,#0000d2,#0000cb,#0000c5,#0000bf,#0000b9,#0000b5,#0000b2,#0000b1,#0000b2,#0000b5,#0000b9,#0000be,#0000c3,#0000c8,#0000cc,#0000d1,#0000d4,#0000d7,#0000d9,#0000da,#0000db,#0000dd,#0000e0,#0000e5)"></i>
<i style="background:linear-gradient(90deg,#d2ff25,#c5ff32,#b7ff3f,#a8ff4f,#98ff5f,#86ff71,#73ff84,#60ff96,#4fffa8,#40ffb7,#35ffc2,#2cffcb,#24ffd2,#1effd9,#19ffde,#13fde3,#0ef7e8,#09f1ed,#04ebf2,#00e4f8,#00defd,#00d7ff,#00d1ff,#00cdff,#00caff,#00c7ff,#00c5ff,#00c2ff,#00bfff,#00b9ff,#00afff,#009eff,#0085ff,#0067ff,#0047ff,#002bff,#0013ff,#0002ff,#0000ff,#0000fa,#0000f2,#0000ec,#0000e7,#0000e2,#0000dd,#0000d7,#0000d0,#0000c9,#0000c2,#0000bc,#0000b7,#0000b3,#0000b0,#0000af,#0000b0,#0000b3,#0000b7,#0000bb,#0000c1,#0000c6,#0000cb,#0000cf,#0000d3,#0000d6,#0000d8,#0000da,#0000dc,#0000de,#0000e0,#0000e5)"></i>
<i style="background:linear-gradient(90deg,#cfff28,#c2ff35,#b4ff43,#a4ff52,#94ff63,#82ff75,#70ff87,#5eff99,#4dffa9,#3fffb8,#34ffc3,#2affcc,#23ffd4,#1dffda,#17ffdf,#12fce4,#0ef7e9,#09f1ee,#04ebf3,#00e4f8,#00ddfe,#00d5ff,#00cfff,#00cbff,#00c8ff,#00c6ff,#00c3ff,#00c0ff,#00bcff,#00b5ff,#00aaff,#0099ff,#0080ff,#0063ff,#0044ff,#0028ff,#0011ff,#0000ff,#0000ff,#0000f8,#0000f1,#0000eb,#0000e5,#0000e0,#0000db,#0000d5,#0000ce,#0000c7,#0000c0,#0000ba,#0000b5,#0000b1,#0000ae,#0000ad,#0000ae,#0000b1,#0000b4,#0000b9,#0000bf,#0000c4,#0000c9,#0000ce,#0000d3,#0000d6,#0000d8,#0000da,#0000dc,#0000de,#0000e1,#0000e5)"></i>
<i style="background:linear-gradient(90deg,#ccff2b,#bfff38,#b0ff46,#a1ff56,#90ff67,#7fff78,#6dff8a,#5cff9b,#4cffab,#3effb9,#33ffc4,#29ffce,#22ffd5,#1bffdb,#16ffe1,#12fbe5,#0df6e9,#09f1ee,#04ebf3,#00e4f8,#00dcff,#00d4ff,#00ccff,#00c9ff,#00c6ff,#00c4ff,#00c2ff,#00beff,#00b9ff,#00b1ff,#00a5ff,#0093ff,#007bff,#005eff,#0041ff,#0025ff,#000fff,#0000ff,#0000ff,#0000f7,#0000ef,#0000e9,#0000e4,#0000df,#0000da,#0000d4,#0000cd,#0000c5,#0000be,#0000b8,#0000b3,#0000af,#0000ac,#0000ab,#0000ac,#0000af,#0000b2,#0000b7,#0000bd,#0000c2,#0000c8,#0000cd,#0000d2,#0000d6,#0000d9,#0000db,#0000dd,#0000df,#0000e1,#0000e5)"></i>
<i style="background:linear-gradient(90deg,#c9ff2e,#bcff3b,#adff4a,#9dff5a,#8cff6b,#7bff7c,#6aff8d,#5aff9d,#4bffac,#3dffba,#32ffc5,#28ffcf,#20ffd6,#1affdd,#15ffe2,#11fae6,#0df5ea,#09f0ee,#04ebf3,#00e3f8,#00dbff,#00d2ff,#00caff,#00c7ff,#00c5ff,#00c3ff,#00c0ff,#00bcff,#00b6ff,#00aeff,#00a1ff,#008eff,#0076ff,#005aff,#003dff,#0022ff,#000cff,#0000ff,#0000ff,#0000f5,#0000ee,#0000e8,#0000e3,#0000de,#0000d9,#0000d2,#0000cb,#0000c4,#0000bd,#0000b6,#0000b1,#0000ad,#0000ab,#0000aa,#0000ab,#0000ad,#0000b1,#0000b5,#0000bb,#0000c1,#0000c7,#0000cd,#0000d2,#0000d6,#0000d9,#0000dc,#0000de,#0000e0,#0000e2,#0000e5)"></i>
<i style="background:linear-gradient(90deg,#c6ff31,#b8ff3e,#a9ff4d,#99ff5d,#88ff6e,#78ff7f,#67ff8f,#58ff9f,#49ffae,#3cffbb,#31ffc6,#27ffd0,#1fffd8,#19ffde,#14fee3,#10f9e7,#0df5ea,#09f0ee,#04ebf3,#00e3f9,#00dbff,#00d1ff,#00c9ff,#00c5ff,#00c4ff,#00c2ff,#00bfff,#00baff,#00b3ff,#00aaff,#009cff,#0089ff,#0071ff,#0056ff,#0039ff,#001fff,#000aff,#0000ff,#0000fd,#0000f4,#0000ed,#0000e7,#0000e2,#0000dd,#0000d7,#0000d1,#0000ca,#0000c2,#0000bb,#0000b5,#0000af,#0000ac,#0000a9,#0000a8,#0000a9,#0000ab,#0000af,#0000b4,#0000b9,#0000c0,#0000c6,#0000cc,#0000d1,#0000d6,#0000d9,#0000dc,#0000df,#0000e1,#0000e3,#0000e5)"></i>
<i style="background:linear-gradient(90deg,#c3ff34,#b5ff41,#a6ff51,#96ff61,#85ff72,#74ff82,#65ff92,#56ffa1,#48ffaf,#3bffbc,#30ffc7,#26ffd1,#1effd9,#18ffdf,#13fde4,#0ff8e7,#0cf5eb,#09f0ee,#04ebf2,#00e3f9,#00daff,#00d1ff,#00c8ff,#00c4ff,#00c3ff,#00c0ff,#00bdff,#00b8ff,#00b0ff,#00a6ff,#0097ff,#0084ff,#006cff,#0052ff,#0036ff,#001dff,#0008ff,#0000ff,#0000fc,#0000f3,#0000ec,#0000e6,#0000e1,#0000dc,#0000d6,#0000d0,#0000c8,#0000c1,#0000b9,#0000b3,#0000ae,#0000aa,#0000a8,#0000a7,#0000a8,#0000aa,#0000ae,#0000b2,#0000b8,#0000be,#0000c5,#0000cb,#0000d1,#0000d6,#0000da,#0000dd,#0000e0,#0000e2,#0000e3,#0000e6)"></i>
<i style="background:linear-gradient(90deg,#c0ff37,#b2ff44,#a3ff54,#92ff64,#81ff75,#71ff86,#62ff95,#54ffa3,#47ffb0,#3affbc,#2fffc8,#25ffd1,#1dffda,#17ffe0,#12fce5,#0ff8e8,#0cf4eb,#09f0ee,#04ebf2,#00e3f9,#00daff,#00d1ff,#00c7ff,#00c4ff,#00c2ff,#00bfff,#00bcff,#00b6ff,#00adff,#00a2ff,#0092ff,#007fff,#0068ff,#004dff,#0033ff,#001aff,#0006ff,#0000ff,#0000fa,#0000f1,#0000ea,#0000e5,#0000e0,#0000db,#0000d5,#0000cf,#0000c7,#0000bf,#0000b8,#0000b1,#0000ac,#0000a9,#0000a7,#0000a6,#0000a7,#0000a9,#0000ac,#0000b1,#0000b7,#0000bd,#0000c4,#0000cb,#0000d1,#0000d6,#0000da,#0000de,#0000e1,#0000e3,#0000e4,#0000e6)"></i>
<i style="background:linear-gradient(90deg,#bdff39,#afff47,#a0ff57,#8fff68,#7eff79,#6eff89,#60ff97,#52ffa5,#45ffb1,#39ffbd,#2effc8,#24ffd2,#1cffdb,#16ffe1,#11fbe6,#0ef7e9,#0bf4eb,#09f0ee,#05ebf2,#00e3f8,#00daff,#00d1ff,#00c8ff,#00c4ff,#00c1ff,#00beff,#00baff,#00b4ff,#00aaff,#009eff,#008eff,#007aff,#0063ff,#0049ff,#002fff,#0017ff,#0003ff,#0000ff,#0000f8,#0000f0,#0000e9,#0000e4,#0000de,#0000d9,#0000d4,#0000cd,#0000c6,#0000be,#0000b6,#0000b0,#0000ab,#0000a7,#0000a5,#0000a5,#0000a5,#0000a7,#0000ab,#0000af,#0000b5,#0000bc,#0000c3,#0000ca,#0000d1,#0000d6,#0000da,#0000de,#0000e2,#0000e4,#0000e5,#0000e7)"></i>
<i style="background:linear-gradient(90deg,#bbff3c,#acff4a,#9dff5a,#8cff6b,#7bff7c,#6bff8c,#5dff9a,#50ffa7,#44ffb3,#39ffbe,#2effc9,#24ffd3,#1bffdc,#15ffe2,#10f9e7,#0df6e9,#0bf3ec,#09f0ee,#05ebf2,#00e3f8,#00daff,#00d1ff,#00c9ff,#00c4ff,#00c1ff,#00bdff,#00b8ff,#00b2ff,#00a7ff,#009aff,#008aff,#0075ff,#005fff,#0046ff,#002cff,#0014ff,#0001ff,#0000ff,#0000f7,#0000ef,#0000e8,#0000e2,#0000dd,#0000d8,#0000d3,#0000cc,#0000c4,#0000bc,#0000b5,#0000af,#0000aa,#0000a6,#0000a4,#0000a4,#0000a4,#0000a6,#0000aa,#0000ae,#0000b4,#0000bb,#0000c3,#0000ca,#0000d1,#0000d6,#0000db,#0000df,#0000e3,#0000e5,#0000e6,#0000e7)"></i>
<i style="background:linear-gradient(90deg,#b8ff3f,#a9ff4d,#9aff5d,#89ff6e,#78ff7f,#68ff8e,#5bff9c,#4effa8,#43ffb4,#38ffbf,#2dffca,#23ffd4,#1affdc,#14fee3,#0ff8e7,#0df5ea,#0bf3ec,#09f0ee,#05ebf2,#00e3f8,#00dbff,#00d2ff,#00caff,#00c4ff,#00c0ff,#00bcff,#00b7ff,#00afff,#00a5ff,#0097ff,#0085ff,#0071ff,#005aff,#0042ff,#0029ff,#0012ff,#0000ff,#0000ff,#0000f6,#0000ed,#0000e7,#0000e1,#0000dc,#0000d7,#0000d2,#0000cb,#0000c3,#0000bb,#0000b4,#0000ad,#0000a9,#0000a5,#0000a3,#0000a3,#0000a3,#0000a5,#0000a9,#0000ad,#0000b3,#0000ba,#0000c2,#0000ca,#0000d0,#0000d6,#0000db,#0000e0,#0000e4,#0000e5,#0000e6,#0000e7)"></i>
<i style="background:linear-gradient(90deg,#b5ff42,#a7ff50,#97ff60,#86ff71,#75ff82,#66ff91,#59ff9e,#4dffaa,#42ffb5,#37ffc0,#2cffcb,#22ffd5,#1affdd,#13fde4,#0ff8e8,#0cf5eb,#0af2ec,#08f0ee,#05ebf2,#00e3f8,#00dbff,#00d2ff,#00cbff,#00c5ff,#00bfff,#00bbff,#00b5ff,#00adff,#00a2ff,#0093ff,#0081ff,#006dff,#0056ff,#003fff,#0026ff,#000fff,#0000ff,#0000ff,#0000f4,#0000ec,#0000e6,#0000e0,#0000db,#0000d6,#0000d1,#0000ca,#0000c2,#0000ba,#0000b3,#0000ac,#0000a8,#0000a4,#0000a2,#0000a2,#0000a3,#0000a4,#0000a8,#0000ac,#0000b2,#0000b9,#0000c1,#0000c9,#0000d0,#0000d6,#0000db,#0000e0,#0000e4,#0000e6,#0000e7,#0000e8)"></i>
</div>
<svg width="800" height="618" viewBox="0 0 800 618">
<path d="M122 54H354V59H122ZM122 59H350V63H122ZM122 63H343V67H122ZM122 67H336V71H122ZM122 71H333V76H122ZM122 76H326V80H122ZM122 80H319V84H122ZM122 84H312V88H122ZM122 88H304V92H122ZM122 92H297V97H122ZM122 97H294V101H122ZM122 101H287V109H122ZM122 109H312V118H122ZM122 118H308V122H122ZM122 122H304V148H122ZM122 148H308V156H122ZM122 156H301V160H122ZM122 160H297V165H122ZM122 165H294V173H122ZM122 173H290V186H122ZM122 186H287V216H122ZM122 216H283V220H122ZM122 220H273V224H122ZM122 224H241V228H122ZM122 228H216V232H122ZM122 232H209V237H122ZM122 237H202V241H122ZM122 241H198V245H122ZM122 245H195V249H122ZM122 249H191V254H122ZM122 254H188V262H122ZM122 262H184V266H122ZM122 266H181V271H122ZM122 271H177V279H122ZM122 279H174V283H122ZM122 283H167V288H122ZM122 288H163V292H122ZM122 292H160V296H122ZM122 296H156V305H122ZM122 305H149V309H122ZM122 309H145V317H122ZM122 317H149V326H122ZM122 326H152V334H122ZM122 334H145V339H122ZM122 339H149V356H122ZM122 356H152V368H122ZM122 368H149V372H122ZM122 372H145V381H122ZM122 381H142V394H122ZM122 394H138V432H122ZM122 432H142V449H122ZM122 449H138V453H122ZM122 453H135V457H122ZM122 457H131V462H122ZM122 462H128V466H122ZM294 105H312V109H294Z" fill="#fff" shape-rendering="crispEdges"/>
<path d="M194.9 563.4V54M265.6 563.4V54M336.3 563.4V54M407.0 563.4V54M477.7 563.4V54M548.4 563.4V54M619.1 563.4V54M124.2 105.2H676M124.2 190.1H676M124.2 274.9H676M124.2 359.8H676M124.2 444.6H676M124.2 529.5H676" stroke="#a5a5a5" stroke-width="1.9" stroke-dasharray="1.9 4.65" stroke-dashoffset="0.95" fill="none"/>
<path d="M350.0 54.3 L349.0 55.0 L345.0 57.8 L337.5 63.8 L331.5 69.0 L326.2 73.1 L321.0 75.4 L317.2 78.0 L310.5 82.5 L303.8 87.0 L294.4 93.4 L290.2 97.4 L285.0 103.0 L279.4 109.4 L284.6 115.4 L289.9 111.2 L294.8 115.4 L300.8 112.4 L300.0 121.8 L301.2 125.0 L302.8 128.8 L300.9 140.0 L296.4 153.1 L283.2 154.6 L285.9 161.8 L292.6 165.2 L288.9 171.2 L287.8 178.8 L287.4 190.0 L286.1 195.0 L284.2 202.5 L281.2 215.2 L275.2 220.5 L265.5 220.9 L258.8 222.0 L252.0 223.9 L245.0 224.0 L233.0 224.0 L227.0 224.8 L217.2 227.4 L209.8 230.8 L205.2 233.0 L201.5 236.8 L194.4 240.5 L192.1 233.4 L204.5 229.2 L213.1 227.0 L215.8 219.5 L208.5 218.0 L201.8 215.0 L200.6 205.6 L204.8 199.6 L210.8 196.6 L205.5 192.5 L190.5 189.1 L185.2 194.0 L179.2 196.6 L176.6 204.5 L178.9 212.0 L184.5 216.5 L186.8 224.0 L184.5 231.4 L171.2 235.3 L169.9 236.9 L165.7 251.1 L172.5 249.5 L177.7 244.7 L181.6 239.2 L188.0 240.5 L192.2 246.6 L186.7 251.1 L189.3 244.0 L182.2 244.7 L171.8 253.7 L165.4 257.0 L162.1 261.5 L160.7 269.4 L159.4 281.1 L169.4 269.4 L184.3 257.1 L180.4 261.7 L173.3 274.6 L162.4 285.0 L158.2 288.6 L154.3 294.1 L151.7 302.2 L144.6 303.5 L143.3 304.4 L142.3 312.8 L144.3 318.7 L147.8 329.4 L142.7 334.6 L144.6 340.7 L147.8 359.5 L147.8 361.5 L140.7 382.9 L136.5 390.9 L135.9 393.9 L135.2 402.0 L136.5 403.6 L133.6 411.4 L135.5 419.1 L135.4 430.7 L139.4 437.1 L137.0 443.6 L130.1 454.9 L124.5 459.8 M124.2 144.4 L133.8 148.5 L142.5 148.5 L148.8 151.2 L160.0 151.2 L166.9 150.2 L161.9 145.6 L166.9 140.6 L170.6 135.2 L175.6 137.5 L181.5 142.5 L189.0 141.0 L193.8 135.0 L205.0 129.4 L212.5 126.9 L220.0 123.8 L225.0 119.4 L232.5 117.5 L238.8 115.2 L246.2 116.9 L253.1 115.2 L260.0 118.1 L267.5 120.6 L276.2 125.0 L284.0 129.5 L288.5 136.2 L290.0 145.2 L288.9 154.2 M284.4 54.3 L280.0 77.0 L281.2 97.1 L290.0 97.5 M292.1 54.3 L291.4 60.0 L291.0 65.2 L292.5 73.5 L297.0 76.5 L298.1 80.2 L298.9 86.6 L304.5 83.2 L309.8 80.6 L315.0 77.2 L316.1 76.1 L310.5 72.0 L311.6 65.2 L313.5 63.4 L319.5 61.1 L324.8 65.2 L324.8 54.3 M325.5 55.5 L329.5 59.5 L330.5 54.3 M124.2 403.3 L129.7 403.3 L135.2 402.0" stroke="#000" stroke-width="1.3" fill="none" stroke-linejoin="round"/>
<rect x="124" y="54.7" width="551.75" height="508.7" fill="none" stroke="#000" stroke-width="2"/>
<path d="M124.2 563V567.5M194.9 563V567.5M265.6 563V567.5M336.3 563V567.5M407.0 563V567.5M477.7 563V567.5M548.4 563V567.5M619.1 563V567.5M119.5 105.2H123M119.5 190.1H123M119.5 274.9H123M119.5 359.8H123M119.5 444.6H123M119.5 529.5H123" stroke="#000" stroke-width="1.3" fill="none"/>
<g class="tl"><text x="112.2" y="579" textLength="24" lengthAdjust="spacingAndGlyphs">28.5</text><text x="188.6" y="579" textLength="12.6" lengthAdjust="spacingAndGlyphs">29</text><text x="253.6" y="579" textLength="24" lengthAdjust="spacingAndGlyphs">29.5</text><text x="330.0" y="579" textLength="12.6" lengthAdjust="spacingAndGlyphs">30</text><text x="395.0" y="579" textLength="24" lengthAdjust="spacingAndGlyphs">30.5</text><text x="471.4" y="579" textLength="12.6" lengthAdjust="spacingAndGlyphs">31</text><text x="536.4" y="579" textLength="24" lengthAdjust="spacingAndGlyphs">31.5</text><text x="612.8" y="579" textLength="12.6" lengthAdjust="spacingAndGlyphs">32</text><text x="93.2" y="110.3" textLength="24" lengthAdjust="spacingAndGlyphs">45.5</text><text x="104.2" y="195.2" textLength="13" lengthAdjust="spacingAndGlyphs">45</text><text x="93.2" y="280.1" textLength="24" lengthAdjust="spacingAndGlyphs">44.5</text><text x="104.2" y="364.9" textLength="13" lengthAdjust="spacingAndGlyphs">44</text><text x="93.2" y="449.8" textLength="24" lengthAdjust="spacingAndGlyphs">43.5</text><text x="104.2" y="534.6" textLength="13" lengthAdjust="spacingAndGlyphs">43</text></g>
<rect x="709" y="550" width="14" height="6" fill="#050068"/><rect x="709" y="544" width="14" height="6" fill="#050070"/><rect x="709" y="538" width="14" height="6" fill="#04007f"/><rect x="709" y="532" width="14" height="6" fill="#020091"/><rect x="709" y="526" width="14" height="6" fill="#0000a3"/><rect x="709" y="520" width="14" height="6" fill="#0000b3"/><rect x="709" y="514" width="14" height="6" fill="#0000c3"/><rect x="709" y="508" width="14" height="6" fill="#0003d3"/><rect x="709" y="502" width="14" height="6" fill="#0007e3"/><rect x="709" y="496" width="14" height="6" fill="#000cf0"/><rect x="709" y="490" width="14" height="6" fill="#0015f0"/><rect x="709" y="484" width="14" height="6" fill="#001ef0"/><rect x="709" y="478" width="14" height="6" fill="#0027f0"/><rect x="709" y="472" width="14" height="6" fill="#0033f4"/><rect x="709" y="466" width="14" height="6" fill="#003ff9"/><rect x="709" y="460" width="14" height="6" fill="#004bfd"/><rect x="709" y="454" width="14" height="6" fill="#0055ff"/><rect x="709" y="448" width="14" height="6" fill="#005eff"/><rect x="709" y="442" width="14" height="6" fill="#0067ff"/><rect x="709" y="436" width="14" height="6" fill="#0072ff"/><rect x="709" y="429" width="14" height="7" fill="#0081ff"/><rect x="709" y="423" width="14" height="6" fill="#0090ff"/><rect x="709" y="417" width="14" height="6" fill="#009fff"/><rect x="709" y="411" width="14" height="6" fill="#00abff"/><rect x="709" y="405" width="14" height="6" fill="#00b7ff"/><rect x="709" y="399" width="14" height="6" fill="#00c3ff"/><rect x="709" y="393" width="14" height="6" fill="#00cdff"/><rect x="709" y="387" width="14" height="6" fill="#00d5ff"/><rect x="709" y="381" width="14" height="6" fill="#00ddfe"/><rect x="709" y="375" width="14" height="6" fill="#00e5f8"/><rect x="709" y="369" width="14" height="6" fill="#00edf2"/><rect x="709" y="363" width="14" height="6" fill="#08f4e8"/><rect x="709" y="357" width="14" height="6" fill="#14fadc"/><rect x="709" y="351" width="14" height="6" fill="#20ffd0"/><rect x="709" y="345" width="14" height="6" fill="#30ffc0"/><rect x="709" y="339" width="14" height="6" fill="#40ffb0"/><rect x="709" y="333" width="14" height="6" fill="#4bffa5"/><rect x="709" y="327" width="14" height="6" fill="#53ff9d"/><rect x="709" y="321" width="14" height="6" fill="#5cff93"/><rect x="709" y="315" width="14" height="6" fill="#68ff83"/><rect x="709" y="309" width="14" height="6" fill="#74ff73"/><rect x="709" y="303" width="14" height="6" fill="#80ff69"/><rect x="709" y="297" width="14" height="6" fill="#8cff61"/><rect x="709" y="291" width="14" height="6" fill="#99ff57"/><rect x="709" y="285" width="14" height="6" fill="#a8ff48"/><rect x="709" y="279" width="14" height="6" fill="#b6ff39"/><rect x="709" y="273" width="14" height="6" fill="#c2ff2c"/><rect x="709" y="267" width="14" height="6" fill="#cdff1e"/><rect x="709" y="261" width="14" height="6" fill="#dfff0f"/><rect x="709" y="255" width="14" height="6" fill="#f0ff00"/><rect x="709" y="249" width="14" height="6" fill="#f7fa00"/><rect x="709" y="243" width="14" height="6" fill="#fef600"/><rect x="709" y="237" width="14" height="6" fill="#ffe300"/><rect x="709" y="231" width="14" height="6" fill="#ffcf00"/><rect x="709" y="225" width="14" height="6" fill="#ffc000"/><rect x="709" y="219" width="14" height="6" fill="#ffb400"/><rect x="709" y="213" width="14" height="6" fill="#ffab00"/><rect x="709" y="207" width="14" height="6" fill="#ffa300"/><rect x="709" y="201" width="14" height="6" fill="#ff9b00"/><rect x="709" y="195" width="14" height="6" fill="#ff9300"/><rect x="709" y="189" width="14" height="6" fill="#ff8b00"/><rect x="709" y="182" width="14" height="7" fill="#ff8300"/><rect x="709" y="176" width="14" height="6" fill="#ff7700"/><rect x="709" y="170" width="14" height="6" fill="#ff6b00"/><rect x="709" y="164" width="14" height="6" fill="#ff5f00"/><rect x="709" y="158" width="14" height="6" fill="#ff5300"/><rect x="709" y="152" width="14" height="6" fill="#ff4700"/><rect x="709" y="146" width="14" height="6" fill="#ff3900"/><rect x="709" y="140" width="14" height="6" fill="#ff2b00"/><rect x="709" y="134" width="14" height="6" fill="#fe1d00"/><rect x="709" y="128" width="14" height="6" fill="#fc0f00"/><rect x="709" y="122" width="14" height="6" fill="#fa0100"/><rect x="709" y="116" width="14" height="6" fill="#e90000"/><rect x="709" y="110" width="14" height="6" fill="#d80000"/><rect x="709" y="104" width="14" height="6" fill="#cb0000"/><rect x="709" y="98" width="14" height="6" fill="#be0000"/><rect x="709" y="92" width="14" height="6" fill="#b00000"/><rect x="709" y="86" width="14" height="6" fill="#a30000"/><rect x="709" y="80" width="14" height="6" fill="#980000"/><rect x="709" y="74" width="14" height="6" fill="#8d0000"/><rect x="709" y="68" width="14" height="6" fill="#810000"/><rect x="709" y="62" width="14" height="6" fill="#760000"/>
<g class="t" font-size="14.3"><text x="734.2" y="73.1" textLength="30.6" lengthAdjust="spacingAndGlyphs">0.36</text><text x="734.2" y="189.1" textLength="30.6" lengthAdjust="spacingAndGlyphs">0.32</text><text x="734.2" y="310.9" textLength="30.6" lengthAdjust="spacingAndGlyphs">0.27</text><text x="734.2" y="433.1" textLength="30.6" lengthAdjust="spacingAndGlyphs">0.23</text><text x="734.2" y="555.1" textLength="30.6" lengthAdjust="spacingAndGlyphs">0.18</text></g>
<g class="h">
<text x="60.00" y="41.8" font-size="24.4" fill="#000" stroke="#000" stroke-width="0.7" textLength="43.00" lengthAdjust="spacingAndGlyphs">Sea</text>
<text x="113.00" y="41.8" font-size="24.4" fill="#000" stroke="#000" stroke-width="0.7" textLength="59.00" lengthAdjust="spacingAndGlyphs">Level</text>
<text x="183.00" y="41.8" font-size="24.4" fill="#000" stroke="#000" stroke-width="0.7" textLength="63.00" lengthAdjust="spacingAndGlyphs">(cm).</text>
<text x="259.00" y="41.8" font-size="24.4" fill="#000" stroke="#000" stroke-width="0.7" textLength="51.00" lengthAdjust="spacingAndGlyphs">Date</text>
<text x="324.00" y="41.8" font-size="24.4" fill="#000" stroke="#000" stroke-width="0.7" textLength="139.00" lengthAdjust="spacingAndGlyphs">2022.12.23.</text>
<text x="474.00" y="41.8" font-size="24.4" fill="#000" stroke="#000" stroke-width="0.7" textLength="52.00" lengthAdjust="spacingAndGlyphs">Time</text>
<text x="540.00" y="41.8" font-size="24.4" fill="#000" stroke="#000" stroke-width="0.7" textLength="141.00" lengthAdjust="spacingAndGlyphs">00(h):00(m)</text>
<text x="696.00" y="41.8" font-size="24.4" fill="#000" stroke="#000" stroke-width="0.7" textLength="42.00" lengthAdjust="spacingAndGlyphs">GMT</text>
<text x="322.00" y="605.5" font-size="19.8" fill="#000" stroke="#000" stroke-width="0.6" textLength="88.00" lengthAdjust="spacingAndGlyphs">Longitude</text>
<text x="420.00" y="605.5" font-size="19.8" fill="#000" stroke="#000" stroke-width="0.6" textLength="57.00" lengthAdjust="spacingAndGlyphs">(East)</text>
<g transform="rotate(-90)">
<text x="-383.60" y="81.8" font-size="19.8" fill="#000" stroke="#000" stroke-width="0.6" textLength="72.40" lengthAdjust="spacingAndGlyphs">Latitude</text>
<text x="-300.40" y="81.8" font-size="19.8" fill="#000" stroke="#000" stroke-width="0.6" textLength="65.40" lengthAdjust="spacingAndGlyphs">(North)</text>
</g>
<text x="147.00" y="109.3" font-size="19.2" fill="#1a1a1a" stroke="#1a1a1a" stroke-width="0.35" textLength="11.80" lengthAdjust="spacingAndGlyphs">Z</text>
<text x="173.40" y="109.3" font-size="19.2" fill="#1a1a1a" stroke="#1a1a1a" stroke-width="0.35" textLength="18.40" lengthAdjust="spacingAndGlyphs">=</text>
<text x="205.40" y="109.3" font-size="19.2" fill="#1a1a1a" stroke="#1a1a1a" stroke-width="0.35" textLength="36.20" lengthAdjust="spacingAndGlyphs">2.5</text>
<text x="255.20" y="109.3" font-size="19.2" fill="#1a1a1a" stroke="#1a1a1a" stroke-width="0.35" textLength="18.60" lengthAdjust="spacingAndGlyphs">m</text>
</g>
</svg>
</body></html>
